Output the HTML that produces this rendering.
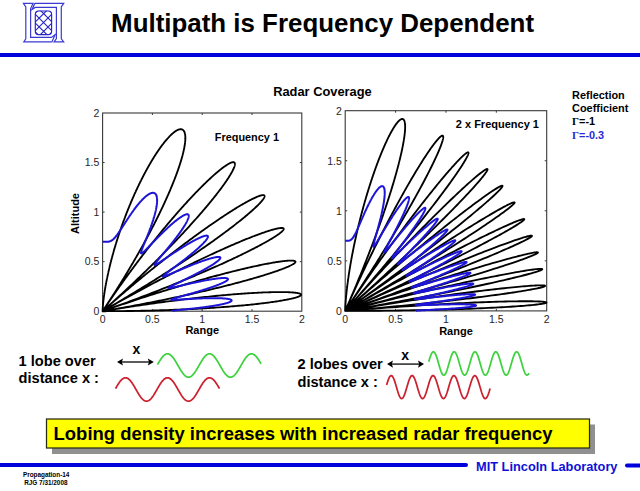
<!DOCTYPE html>
<html><head><meta charset="utf-8"><style>
html,body{margin:0;padding:0;background:#fff;}
body{width:640px;height:491px;overflow:hidden;position:relative;}
svg{position:absolute;left:0;top:0;}
text{font-family:"Liberation Sans",sans-serif;}
.tk{font-size:10.5px;fill:#262626;}
.lb{font-size:11px;font-weight:bold;fill:#000;}
.b{font-weight:bold;}
</style></head><body>
<svg width="640" height="491" viewBox="0 0 640 491">
<defs><clipPath id="lc"><rect x="35" y="10.7" width="16.9" height="24.2" rx="3.6" ry="3.6"/></clipPath></defs>
<g fill="#fff" stroke="#3a3ad2" stroke-width="1.2" stroke-linejoin="miter">
<path d="M23.4,3.3 H33.1 L30.6,8.6 V37.4 H51.4 L55.2,34.6 L51.9,41.9 H23.8 L25.8,38.8 V7 Z"/>
<path d="M63.7,3.4 L61.3,7 V38.8 L63.7,41.9 H54.1 L56.4,38.6 V7.4 H35.2 L31.9,9.6 L34.9,3.4 Z"/>
</g>
<g fill="none" stroke="#2626c8" stroke-width="1.15">
<rect x="35.3" y="11" width="16.3" height="23.6" rx="3.4" ry="3.4"/>
<path clip-path="url(#lc)" d="M30,-9 L60,21 M30,0 L60,30 M30,9 L60,39 M30,17.7 L60,47.7 M30,26.6 L60,56.6 M30,18.4 L60,-11.600000000000001 M30,27.299999999999997 L60,-2.700000000000003 M30,36 L60,6 M30,45 L60,15 M30,54 L60,24"/>
</g>
<text x="111.1" y="32.4" class="b" style="font-size:25.9px">Multipath is Frequency Dependent</text>
<rect x="0" y="53" width="640" height="4" fill="#0000dc"/>
<text x="273.2" y="96.1" class="b" style="font-size:12.85px">Radar Coverage</text>
<rect x="102.6" y="113" width="199.2" height="198.2" fill="none" stroke="#383838" stroke-width="1.1"/>
<path d="M152.4,311.2 v-2 M152.4,113 v2 M102.6,261.65 h2 M301.8,261.65 h-2" stroke="#383838" stroke-width="1"/>
<path d="M202.2,311.2 v-2 M202.2,113 v2 M102.6,212.1 h2 M301.8,212.1 h-2" stroke="#383838" stroke-width="1"/>
<path d="M252,311.2 v-2 M252,113 v2 M102.6,162.55 h2 M301.8,162.55 h-2" stroke="#383838" stroke-width="1"/>
<text x="102.6" y="323.2" text-anchor="middle" class="tk">0</text>
<text x="99.3" y="315" text-anchor="end" class="tk">0</text>
<text x="152.4" y="323.2" text-anchor="middle" class="tk">0.5</text>
<text x="99.3" y="265.45" text-anchor="end" class="tk">0.5</text>
<text x="202.2" y="323.2" text-anchor="middle" class="tk">1</text>
<text x="99.3" y="215.9" text-anchor="end" class="tk">1</text>
<text x="252" y="323.2" text-anchor="middle" class="tk">1.5</text>
<text x="99.3" y="166.35" text-anchor="end" class="tk">1.5</text>
<text x="301.8" y="323.2" text-anchor="middle" class="tk">2</text>
<text x="99.3" y="116.8" text-anchor="end" class="tk">2</text>
<text x="202.2" y="334" text-anchor="middle" class="lb">Range</text>
<rect x="345.2" y="110.7" width="201.5" height="200.2" fill="none" stroke="#383838" stroke-width="1.1"/>
<path d="M395.57,310.9 v-2 M395.57,110.7 v2 M345.2,260.85 h2 M546.7,260.85 h-2" stroke="#383838" stroke-width="1"/>
<path d="M445.95,310.9 v-2 M445.95,110.7 v2 M345.2,210.8 h2 M546.7,210.8 h-2" stroke="#383838" stroke-width="1"/>
<path d="M496.33,310.9 v-2 M496.33,110.7 v2 M345.2,160.75 h2 M546.7,160.75 h-2" stroke="#383838" stroke-width="1"/>
<text x="345.2" y="322.9" text-anchor="middle" class="tk">0</text>
<text x="341.9" y="314.7" text-anchor="end" class="tk">0</text>
<text x="395.57" y="322.9" text-anchor="middle" class="tk">0.5</text>
<text x="341.9" y="264.65" text-anchor="end" class="tk">0.5</text>
<text x="445.95" y="322.9" text-anchor="middle" class="tk">1</text>
<text x="341.9" y="214.6" text-anchor="end" class="tk">1</text>
<text x="496.33" y="322.9" text-anchor="middle" class="tk">1.5</text>
<text x="341.9" y="164.55" text-anchor="end" class="tk">1.5</text>
<text x="546.7" y="322.9" text-anchor="middle" class="tk">2</text>
<text x="341.9" y="114.5" text-anchor="end" class="tk">2</text>
<text x="455.95" y="334.7" text-anchor="middle" class="lb">Range</text>
<path d="M102.6,311.2 L105.06,311.2 L107.51,311.19 L109.97,311.19 L112.43,311.17 L114.88,311.16 L117.33,311.14 L119.78,311.12 L122.23,311.1 L124.67,311.07 L127.11,311.04 L129.55,311.01 L131.98,310.97 L134.41,310.93 L136.83,310.89 L139.25,310.84 L141.66,310.79 L144.07,310.74 L146.47,310.69 L148.86,310.63 L151.25,310.57 L153.63,310.5 L156,310.43 L158.36,310.36 L160.71,310.29 L163.06,310.22 L165.39,310.14 L167.72,310.05 L170.04,309.97 L172.34,309.88 L174.64,309.79 L176.92,309.7 L179.19,309.6 L181.45,309.51 L183.7,309.4 L185.94,309.3 L188.16,309.19 L190.37,309.08 L192.57,308.97 L194.75,308.86 L196.92,308.74 L199.07,308.62 L201.21,308.5 L203.33,308.38 L205.44,308.25 L207.54,308.12 L209.61,307.99 L211.67,307.86 L213.72,307.73 L215.74,307.59 L217.75,307.45 L219.74,307.31 L221.72,307.16 L223.67,307.02 L225.61,306.87 L227.52,306.72 L229.42,306.57 L231.3,306.42 L233.16,306.27 L235,306.11 L236.82,305.95 L238.62,305.79 L240.39,305.63 L242.15,305.47 L243.89,305.31 L245.6,305.14 L247.29,304.98 L248.96,304.81 L250.61,304.64 L252.23,304.47 L253.83,304.3 L255.41,304.13 L256.96,303.96 L258.49,303.78 L260,303.61 L261.48,303.43 L262.94,303.26 L264.37,303.08 L265.78,302.9 L267.17,302.73 L268.53,302.55 L269.86,302.37 L271.17,302.19 L272.45,302.01 L273.71,301.83 L274.94,301.65 L276.14,301.47 L277.32,301.29 L278.47,301.11 L279.59,300.93 L280.69,300.75 L281.76,300.57 L282.8,300.39 L283.81,300.21 L284.8,300.03 L285.76,299.85 L286.69,299.68 L287.59,299.5 L288.46,299.32 L289.31,299.15 L290.13,298.97 L290.92,298.8 L291.68,298.62 L292.41,298.45 L293.11,298.28 L293.79,298.11 L294.43,297.94 L295.04,297.77 L295.63,297.6 L296.19,297.44 L296.71,297.27 L297.21,297.11 L297.68,296.95 L298.12,296.79 L298.53,296.63 L298.9,296.47 L299.25,296.32 L299.57,296.16 L299.86,296.01 L300.12,295.86 L300.35,295.71 L300.55,295.57 L300.72,295.43 L300.85,295.29 L300.96,295.15 L301.04,295.01 L301.09,294.88 L301.11,294.74 L301.1,294.62 L301.06,294.49 L300.98,294.36 L300.88,294.24 L300.75,294.12 L300.59,294.01 L300.4,293.9 L300.17,293.79 L299.92,293.68 L299.64,293.57 L299.33,293.47 L298.99,293.37 L298.62,293.28 L298.22,293.19 L297.79,293.1 L297.33,293.01 L296.84,292.93 L296.32,292.85 L295.77,292.78 L295.2,292.71 L294.59,292.64 L293.96,292.57 L293.3,292.51 L292.6,292.46 L291.88,292.4 L291.13,292.35 L290.36,292.31 L289.55,292.26 L288.72,292.23 L287.86,292.19 L286.97,292.16 L286.05,292.14 L285.11,292.11 L284.14,292.1 L283.14,292.08 L282.11,292.07 L281.06,292.07 L279.98,292.07 L278.87,292.07 L277.74,292.08 L276.58,292.09 L275.4,292.1 L274.19,292.13 L272.95,292.15 L271.69,292.18 L270.4,292.21 L269.09,292.25 L267.76,292.3 L266.39,292.34 L265.01,292.4 L263.6,292.45 L262.17,292.51 L260.71,292.58 L259.23,292.65 L257.73,292.73 L256.2,292.81 L254.65,292.89 L253.08,292.98 L251.48,293.08 L249.87,293.18 L248.23,293.28 L246.57,293.39 L244.89,293.5 L243.19,293.62 L241.46,293.75 L239.72,293.87 L237.96,294.01 L236.18,294.14 L234.37,294.29 L232.55,294.44 L230.71,294.59 L228.85,294.75 L226.97,294.91 L225.08,295.08 L223.16,295.25 L221.23,295.42 L219.28,295.61 L217.32,295.79 L215.33,295.98 L213.33,296.18 L211.32,296.38 L209.29,296.59 L207.24,296.8 L205.18,297.01 L203.1,297.23 L201.01,297.46 L198.91,297.69 L196.79,297.92 L194.66,298.16 L192.51,298.41 L190.36,298.66 L188.18,298.91 L186,299.17 L183.81,299.43 L181.6,299.7 L179.38,299.97 L177.16,300.25 L174.92,300.53 L172.67,300.81 L170.41,301.1 L168.14,301.4 L165.86,301.69 L163.58,302 L161.28,302.3 L158.98,302.62 L156.67,302.93 L154.35,303.25 L152.03,303.58 L149.7,303.9 L147.36,304.24 L145.02,304.57 L142.67,304.91 L140.31,305.26 L137.95,305.61 L135.59,305.96 L133.22,306.31 L130.85,306.67 L128.47,307.04 L126.1,307.4 L123.72,307.77 L121.33,308.15 L118.95,308.53 L116.56,308.91 L114.17,309.29 L111.78,309.68 L109.39,310.07 L107,310.47 L104.61,310.86 L102.98,311.14 L105.37,310.73 L107.75,310.33 L110.14,309.92 L112.52,309.5 L114.91,309.09 L117.28,308.67 L119.66,308.25 L122.03,307.83 L124.4,307.4 L126.77,306.97 L129.13,306.54 L131.48,306.11 L133.83,305.67 L136.18,305.23 L138.52,304.79 L140.85,304.35 L143.18,303.91 L145.5,303.46 L147.81,303.01 L150.12,302.57 L152.42,302.11 L154.71,301.66 L156.99,301.21 L159.26,300.75 L161.52,300.29 L163.77,299.84 L166.02,299.38 L168.25,298.92 L170.47,298.45 L172.69,297.99 L174.89,297.53 L177.08,297.06 L179.25,296.6 L181.42,296.13 L183.57,295.67 L185.71,295.2 L187.84,294.73 L189.95,294.27 L192.05,293.8 L194.14,293.33 L196.21,292.86 L198.27,292.4 L200.31,291.93 L202.34,291.46 L204.35,290.99 L206.35,290.53 L208.33,290.06 L210.29,289.59 L212.24,289.13 L214.17,288.67 L216.08,288.2 L217.98,287.74 L219.86,287.28 L221.72,286.82 L223.56,286.36 L225.38,285.9 L227.19,285.44 L228.97,284.99 L230.74,284.54 L232.49,284.08 L234.22,283.63 L235.92,283.18 L237.61,282.74 L239.28,282.29 L240.92,281.85 L242.55,281.41 L244.15,280.97 L245.74,280.54 L247.3,280.1 L248.84,279.67 L250.36,279.25 L251.85,278.82 L253.33,278.4 L254.78,277.98 L256.2,277.56 L257.61,277.15 L258.99,276.74 L260.35,276.33 L261.68,275.93 L262.99,275.53 L264.28,275.13 L265.54,274.74 L266.78,274.35 L268,273.96 L269.19,273.58 L270.35,273.2 L271.49,272.83 L272.61,272.46 L273.7,272.09 L274.76,271.73 L275.8,271.37 L276.82,271.02 L277.8,270.67 L278.77,270.33 L279.7,269.99 L280.61,269.66 L281.5,269.33 L282.35,269 L283.18,268.68 L283.99,268.37 L284.77,268.06 L285.52,267.76 L286.24,267.46 L286.94,267.17 L287.61,266.88 L288.26,266.6 L288.87,266.32 L289.46,266.05 L290.03,265.78 L290.56,265.52 L291.07,265.27 L291.55,265.02 L292,264.78 L292.43,264.55 L292.83,264.32 L293.2,264.09 L293.54,263.88 L293.85,263.67 L294.14,263.46 L294.4,263.26 L294.63,263.07 L294.84,262.89 L295.01,262.71 L295.16,262.54 L295.28,262.38 L295.38,262.22 L295.44,262.07 L295.48,261.92 L295.49,261.79 L295.48,261.66 L295.43,261.54 L295.36,261.42 L295.26,261.31 L295.13,261.21 L294.98,261.12 L294.8,261.03 L294.59,260.95 L294.35,260.88 L294.09,260.82 L293.8,260.76 L293.48,260.71 L293.13,260.67 L292.76,260.64 L292.36,260.61 L291.93,260.59 L291.48,260.58 L291,260.58 L290.5,260.58 L289.96,260.59 L289.4,260.61 L288.82,260.64 L288.21,260.68 L287.57,260.72 L286.91,260.77 L286.22,260.83 L285.5,260.9 L284.76,260.98 L284,261.06 L283.21,261.15 L282.39,261.25 L281.55,261.36 L280.68,261.48 L279.79,261.6 L278.88,261.73 L277.94,261.88 L276.97,262.02 L275.98,262.18 L274.97,262.35 L273.94,262.52 L272.88,262.7 L271.79,262.89 L270.69,263.09 L269.56,263.29 L268.4,263.51 L267.23,263.73 L266.03,263.96 L264.81,264.2 L263.57,264.44 L262.31,264.7 L261.02,264.96 L259.71,265.23 L258.38,265.51 L257.03,265.79 L255.66,266.09 L254.27,266.39 L252.86,266.7 L251.43,267.02 L249.98,267.35 L248.5,267.68 L247.01,268.02 L245.5,268.37 L243.97,268.73 L242.42,269.1 L240.86,269.47 L239.27,269.85 L237.67,270.24 L236.04,270.64 L234.4,271.04 L232.75,271.46 L231.07,271.88 L229.38,272.3 L227.67,272.74 L225.95,273.18 L224.21,273.63 L222.45,274.09 L220.68,274.55 L218.89,275.02 L217.09,275.5 L215.27,275.99 L213.44,276.48 L211.6,276.98 L209.74,277.49 L207.86,278 L205.98,278.52 L204.08,279.05 L202.16,279.59 L200.24,280.13 L198.3,280.67 L196.35,281.23 L194.39,281.79 L192.41,282.36 L190.43,282.93 L188.43,283.51 L186.43,284.1 L184.41,284.69 L182.38,285.29 L180.35,285.9 L178.3,286.51 L176.25,287.13 L174.18,287.75 L172.11,288.38 L170.03,289.01 L167.94,289.65 L165.85,290.3 L163.74,290.95 L161.63,291.6 L159.52,292.27 L157.39,292.93 L155.26,293.6 L153.13,294.28 L150.99,294.96 L148.84,295.65 L146.69,296.34 L144.54,297.04 L142.38,297.74 L140.21,298.44 L138.04,299.15 L135.87,299.87 L133.7,300.58 L131.52,301.31 L129.34,302.03 L127.16,302.76 L124.98,303.5 L122.79,304.23 L120.61,304.97 L118.42,305.72 L116.23,306.47 L114.04,307.22 L111.86,307.97 L109.67,308.73 L107.48,309.49 L105.29,310.25 L103.11,311.02 L104.28,310.61 L106.46,309.84 L108.64,309.06 L110.82,308.29 L112.99,307.51 L115.16,306.73 L117.33,305.94 L119.5,305.16 L121.66,304.37 L123.82,303.58 L125.97,302.79 L128.12,302 L130.26,301.21 L132.4,300.41 L134.53,299.62 L136.66,298.82 L138.78,298.03 L140.9,297.23 L143,296.43 L145.11,295.63 L147.2,294.83 L149.29,294.03 L151.36,293.23 L153.43,292.43 L155.5,291.63 L157.55,290.83 L159.59,290.03 L161.63,289.23 L163.65,288.43 L165.67,287.63 L167.68,286.83 L169.67,286.03 L171.66,285.24 L173.63,284.44 L175.6,283.65 L177.55,282.85 L179.49,282.06 L181.42,281.27 L183.34,280.48 L185.24,279.7 L187.14,278.91 L189.02,278.13 L190.88,277.35 L192.74,276.57 L194.58,275.79 L196.41,275.02 L198.22,274.25 L200.02,273.48 L201.8,272.72 L203.57,271.95 L205.33,271.19 L207.07,270.44 L208.79,269.69 L210.5,268.94 L212.2,268.19 L213.88,267.45 L215.54,266.71 L217.19,265.97 L218.82,265.24 L220.43,264.52 L222.03,263.79 L223.61,263.07 L225.17,262.36 L226.71,261.65 L228.24,260.95 L229.75,260.25 L231.24,259.55 L232.72,258.86 L234.17,258.18 L235.61,257.5 L237.03,256.82 L238.43,256.15 L239.81,255.49 L241.17,254.83 L242.51,254.18 L243.83,253.53 L245.14,252.89 L246.42,252.26 L247.68,251.63 L248.93,251 L250.15,250.39 L251.36,249.78 L252.54,249.18 L253.7,248.58 L254.84,247.99 L255.97,247.41 L257.07,246.83 L258.14,246.26 L259.2,245.7 L260.24,245.15 L261.26,244.6 L262.25,244.06 L263.22,243.53 L264.17,243 L265.1,242.48 L266.01,241.98 L266.9,241.47 L267.76,240.98 L268.6,240.49 L269.42,240.02 L270.22,239.55 L270.99,239.09 L271.74,238.63 L272.47,238.19 L273.18,237.75 L273.87,237.33 L274.53,236.91 L275.17,236.5 L275.79,236.1 L276.38,235.7 L276.95,235.32 L277.5,234.95 L278.02,234.58 L278.53,234.22 L279.01,233.88 L279.46,233.54 L279.9,233.21 L280.31,232.89 L280.69,232.58 L281.06,232.28 L281.4,231.99 L281.72,231.71 L282.01,231.44 L282.28,231.18 L282.53,230.93 L282.76,230.69 L282.96,230.46 L283.14,230.23 L283.3,230.02 L283.43,229.82 L283.54,229.63 L283.63,229.45 L283.69,229.28 L283.73,229.12 L283.75,228.97 L283.74,228.83 L283.72,228.7 L283.66,228.58 L283.59,228.47 L283.49,228.37 L283.37,228.28 L283.23,228.2 L283.07,228.14 L282.88,228.08 L282.67,228.03 L282.44,228 L282.18,227.97 L281.91,227.96 L281.61,227.96 L281.29,227.96 L280.94,227.98 L280.58,228.01 L280.19,228.05 L279.78,228.1 L279.35,228.16 L278.9,228.24 L278.42,228.32 L277.92,228.41 L277.41,228.52 L276.87,228.64 L276.31,228.76 L275.73,228.9 L275.12,229.05 L274.5,229.21 L273.86,229.38 L273.19,229.56 L272.51,229.75 L271.8,229.95 L271.07,230.17 L270.33,230.39 L269.56,230.62 L268.78,230.87 L267.97,231.13 L267.14,231.39 L266.3,231.67 L265.43,231.96 L264.55,232.26 L263.65,232.57 L262.72,232.89 L261.78,233.22 L260.82,233.56 L259.84,233.92 L258.85,234.28 L257.83,234.65 L256.8,235.04 L255.75,235.43 L254.68,235.84 L253.59,236.25 L252.49,236.68 L251.37,237.12 L250.23,237.56 L249.08,238.02 L247.9,238.49 L246.71,238.96 L245.51,239.45 L244.29,239.95 L243.05,240.46 L241.8,240.97 L240.53,241.5 L239.25,242.04 L237.95,242.58 L236.63,243.14 L235.3,243.71 L233.96,244.28 L232.6,244.87 L231.22,245.46 L229.84,246.07 L228.43,246.68 L227.02,247.31 L225.59,247.94 L224.15,248.58 L222.69,249.23 L221.22,249.89 L219.74,250.56 L218.25,251.24 L216.74,251.92 L215.22,252.62 L213.69,253.32 L212.15,254.04 L210.59,254.76 L209.03,255.49 L207.45,256.22 L205.86,256.97 L204.27,257.73 L202.66,258.49 L201.04,259.26 L199.41,260.04 L197.77,260.82 L196.12,261.62 L194.46,262.42 L192.8,263.23 L191.12,264.05 L189.43,264.87 L187.74,265.71 L186.04,266.54 L184.33,267.39 L182.61,268.25 L180.89,269.11 L179.15,269.97 L177.41,270.85 L175.66,271.73 L173.91,272.62 L172.15,273.51 L170.38,274.41 L168.61,275.32 L166.83,276.23 L165.05,277.15 L163.26,278.07 L161.46,279 L159.66,279.94 L157.86,280.88 L156.05,281.83 L154.23,282.78 L152.41,283.74 L150.59,284.7 L148.77,285.67 L146.94,286.65 L145.11,287.62 L143.27,288.61 L141.43,289.59 L139.59,290.59 L137.75,291.58 L135.91,292.58 L134.06,293.59 L132.21,294.6 L130.36,295.61 L128.51,296.63 L126.66,297.65 L124.81,298.67 L122.95,299.7 L121.1,300.73 L119.25,301.77 L117.39,302.8 L115.54,303.84 L113.69,304.89 L111.84,305.93 L109.99,306.98 L108.14,308.03 L106.29,309.09 L104.44,310.14 L102.6,311.2 L104.44,310.14 L106.28,309.08 L108.12,308.02 L109.95,306.95 L111.79,305.88 L113.61,304.82 L115.44,303.75 L117.26,302.68 L119.08,301.6 L120.89,300.53 L122.7,299.46 L124.51,298.39 L126.31,297.31 L128.1,296.24 L129.89,295.16 L131.68,294.09 L133.46,293.01 L135.24,291.94 L137,290.86 L138.77,289.79 L140.52,288.72 L142.27,287.64 L144.02,286.57 L145.76,285.5 L147.49,284.43 L149.21,283.36 L150.93,282.29 L152.63,281.23 L154.34,280.16 L156.03,279.1 L157.71,278.04 L159.39,276.98 L161.06,275.92 L162.72,274.87 L164.37,273.81 L166.01,272.76 L167.65,271.71 L169.27,270.67 L170.88,269.63 L172.49,268.59 L174.09,267.55 L175.67,266.52 L177.25,265.49 L178.81,264.46 L180.37,263.43 L181.91,262.41 L183.44,261.4 L184.97,260.39 L186.48,259.38 L187.98,258.37 L189.47,257.37 L190.95,256.38 L192.41,255.39 L193.87,254.4 L195.31,253.42 L196.74,252.44 L198.16,251.47 L199.57,250.5 L200.96,249.54 L202.34,248.58 L203.71,247.63 L205.07,246.68 L206.41,245.74 L207.74,244.81 L209.06,243.88 L210.36,242.96 L211.65,242.04 L212.93,241.13 L214.2,240.22 L215.44,239.33 L216.68,238.43 L217.9,237.55 L219.11,236.67 L220.3,235.8 L221.48,234.93 L222.65,234.08 L223.8,233.22 L224.93,232.38 L226.05,231.54 L227.16,230.72 L228.25,229.89 L229.33,229.08 L230.39,228.27 L231.44,227.47 L232.47,226.68 L233.48,225.9 L234.49,225.13 L235.47,224.36 L236.44,223.6 L237.39,222.85 L238.33,222.11 L239.25,221.37 L240.16,220.65 L241.05,219.93 L241.93,219.23 L242.79,218.53 L243.63,217.84 L244.46,217.16 L245.27,216.49 L246.06,215.82 L246.84,215.17 L247.6,214.53 L248.35,213.89 L249.08,213.27 L249.79,212.65 L250.49,212.04 L251.16,211.45 L251.83,210.86 L252.47,210.28 L253.1,209.72 L253.72,209.16 L254.31,208.61 L254.89,208.08 L255.46,207.55 L256,207.03 L256.53,206.53 L257.04,206.03 L257.54,205.54 L258.02,205.07 L258.48,204.6 L258.93,204.15 L259.35,203.71 L259.76,203.27 L260.16,202.85 L260.54,202.44 L260.9,202.04 L261.24,201.65 L261.57,201.27 L261.88,200.9 L262.17,200.54 L262.45,200.2 L262.7,199.86 L262.95,199.54 L263.17,199.23 L263.38,198.93 L263.57,198.64 L263.75,198.36 L263.9,198.09 L264.05,197.83 L264.17,197.59 L264.28,197.35 L264.37,197.13 L264.44,196.92 L264.5,196.72 L264.54,196.53 L264.57,196.36 L264.57,196.19 L264.56,196.04 L264.54,195.9 L264.5,195.77 L264.44,195.65 L264.37,195.54 L264.28,195.45 L264.17,195.36 L264.05,195.29 L263.91,195.23 L263.75,195.19 L263.58,195.15 L263.39,195.12 L263.19,195.11 L262.97,195.11 L262.74,195.12 L262.48,195.14 L262.22,195.18 L261.94,195.22 L261.64,195.28 L261.33,195.35 L261,195.43 L260.65,195.52 L260.29,195.63 L259.92,195.74 L259.53,195.87 L259.13,196.01 L258.71,196.16 L258.27,196.33 L257.82,196.5 L257.36,196.69 L256.88,196.88 L256.39,197.09 L255.88,197.32 L255.36,197.55 L254.82,197.79 L254.27,198.05 L253.71,198.32 L253.13,198.59 L252.53,198.89 L251.93,199.19 L251.31,199.5 L250.67,199.83 L250.03,200.16 L249.37,200.51 L248.69,200.87 L248,201.24 L247.3,201.62 L246.59,202.01 L245.86,202.41 L245.12,202.83 L244.37,203.26 L243.61,203.69 L242.83,204.14 L242.04,204.6 L241.24,205.07 L240.42,205.55 L239.59,206.04 L238.76,206.54 L237.91,207.06 L237.04,207.58 L236.17,208.11 L235.28,208.66 L234.39,209.21 L233.48,209.78 L232.56,210.35 L231.63,210.94 L230.69,211.54 L229.74,212.15 L228.78,212.76 L227.8,213.39 L226.82,214.03 L225.82,214.68 L224.82,215.33 L223.81,216 L222.78,216.68 L221.75,217.36 L220.71,218.06 L219.65,218.77 L218.59,219.48 L217.52,220.21 L216.44,220.94 L215.35,221.69 L214.25,222.44 L213.14,223.2 L212.02,223.97 L210.9,224.76 L209.77,225.55 L208.62,226.34 L207.47,227.15 L206.32,227.97 L205.15,228.79 L203.98,229.63 L202.8,230.47 L201.61,231.32 L200.41,232.18 L199.21,233.05 L198,233.92 L196.78,234.8 L195.56,235.7 L194.33,236.6 L193.09,237.5 L191.85,238.42 L190.6,239.34 L189.35,240.27 L188.09,241.21 L186.82,242.15 L185.55,243.11 L184.27,244.07 L182.98,245.03 L181.69,246.01 L180.4,246.99 L179.1,247.98 L177.8,248.97 L176.49,249.97 L175.18,250.98 L173.86,252 L172.53,253.02 L171.21,254.05 L169.88,255.08 L168.54,256.12 L167.21,257.17 L165.86,258.22 L164.52,259.28 L163.17,260.34 L161.82,261.41 L160.46,262.48 L159.11,263.56 L157.74,264.65 L156.38,265.74 L155.02,266.83 L153.65,267.94 L152.28,269.04 L150.9,270.15 L149.53,271.27 L148.15,272.39 L146.77,273.51 L145.39,274.64 L144.01,275.77 L142.63,276.91 L141.25,278.05 L139.86,279.2 L138.47,280.35 L137.09,281.5 L135.7,282.66 L134.31,283.82 L132.92,284.98 L131.53,286.15 L130.15,287.32 L128.76,288.5 L127.37,289.67 L125.98,290.85 L124.59,292.04 L123.2,293.22 L121.81,294.41 L120.43,295.6 L119.04,296.8 L117.66,297.99 L116.27,299.19 L114.89,300.39 L113.51,301.59 L112.13,302.8 L110.75,304 L109.37,305.21 L108,306.42 L106.63,307.63 L105.26,308.84 L103.89,310.06 L102.68,311.13 L104.04,309.91 L105.4,308.7 L106.76,307.48 L108.12,306.26 L109.47,305.04 L110.82,303.82 L112.17,302.6 L113.51,301.38 L114.85,300.16 L116.19,298.94 L117.53,297.72 L118.86,296.5 L120.18,295.28 L121.5,294.06 L122.82,292.84 L124.14,291.62 L125.45,290.41 L126.75,289.19 L128.05,287.97 L129.35,286.76 L130.64,285.54 L131.93,284.33 L133.21,283.12 L134.49,281.91 L135.77,280.7 L137.03,279.49 L138.3,278.28 L139.55,277.08 L140.81,275.87 L142.05,274.67 L143.29,273.48 L144.53,272.28 L145.76,271.08 L146.98,269.89 L148.2,268.7 L149.41,267.52 L150.62,266.33 L151.82,265.15 L153.01,263.97 L154.2,262.8 L155.38,261.62 L156.56,260.45 L157.72,259.29 L158.88,258.13 L160.04,256.97 L161.19,255.81 L162.33,254.66 L163.46,253.51 L164.59,252.36 L165.71,251.22 L166.82,250.09 L167.92,248.95 L169.02,247.82 L170.11,246.7 L171.19,245.58 L172.27,244.46 L173.34,243.35 L174.39,242.25 L175.45,241.15 L176.49,240.05 L177.53,238.96 L178.55,237.87 L179.57,236.79 L180.59,235.71 L181.59,234.64 L182.59,233.57 L183.57,232.51 L184.55,231.45 L185.52,230.4 L186.49,229.36 L187.44,228.32 L188.38,227.29 L189.32,226.26 L190.25,225.24 L191.17,224.22 L192.08,223.21 L192.98,222.21 L193.87,221.21 L194.76,220.22 L195.63,219.24 L196.5,218.26 L197.35,217.29 L198.2,216.33 L199.04,215.37 L199.87,214.42 L200.69,213.47 L201.5,212.54 L202.3,211.61 L203.1,210.68 L203.88,209.77 L204.65,208.86 L205.42,207.96 L206.17,207.06 L206.92,206.17 L207.66,205.29 L208.38,204.42 L209.1,203.56 L209.81,202.7 L210.5,201.85 L211.19,201.01 L211.87,200.18 L212.54,199.35 L213.2,198.53 L213.85,197.72 L214.49,196.92 L215.12,196.13 L215.74,195.34 L216.35,194.56 L216.95,193.79 L217.54,193.03 L218.12,192.28 L218.69,191.53 L219.25,190.8 L219.8,190.07 L220.35,189.35 L220.88,188.64 L221.4,187.94 L221.91,187.25 L222.41,186.56 L222.9,185.89 L223.38,185.22 L223.86,184.56 L224.32,183.91 L224.77,183.27 L225.21,182.64 L225.64,182.02 L226.06,181.41 L226.48,180.8 L226.88,180.21 L227.27,179.62 L227.65,179.05 L228.02,178.48 L228.39,177.92 L228.74,177.38 L229.08,176.84 L229.41,176.31 L229.73,175.79 L230.05,175.28 L230.35,174.77 L230.64,174.28 L230.92,173.8 L231.2,173.33 L231.46,172.86 L231.71,172.41 L231.96,171.97 L232.19,171.53 L232.41,171.11 L232.63,170.69 L232.83,170.29 L233.02,169.89 L233.21,169.51 L233.38,169.13 L233.55,168.76 L233.7,168.41 L233.85,168.06 L233.99,167.72 L234.11,167.4 L234.23,167.08 L234.34,166.77 L234.43,166.47 L234.52,166.19 L234.6,165.91 L234.67,165.64 L234.73,165.38 L234.78,165.14 L234.82,164.9 L234.85,164.67 L234.87,164.45 L234.89,164.25 L234.89,164.05 L234.89,163.86 L234.87,163.68 L234.85,163.51 L234.82,163.36 L234.77,163.21 L234.72,163.07 L234.66,162.94 L234.59,162.82 L234.52,162.71 L234.43,162.62 L234.33,162.53 L234.23,162.45 L234.12,162.38 L233.99,162.32 L233.86,162.27 L233.72,162.24 L233.58,162.21 L233.42,162.19 L233.25,162.18 L233.08,162.18 L232.9,162.19 L232.71,162.21 L232.51,162.24 L232.3,162.29 L232.09,162.34 L231.86,162.4 L231.63,162.47 L231.39,162.55 L231.14,162.64 L230.89,162.73 L230.62,162.84 L230.35,162.96 L230.07,163.09 L229.78,163.23 L229.49,163.38 L229.19,163.54 L228.88,163.7 L228.56,163.88 L228.23,164.07 L227.9,164.26 L227.56,164.47 L227.21,164.68 L226.85,164.91 L226.49,165.14 L226.12,165.38 L225.74,165.64 L225.36,165.9 L224.96,166.17 L224.57,166.45 L224.16,166.74 L223.75,167.04 L223.33,167.35 L222.9,167.66 L222.47,167.99 L222.03,168.33 L221.58,168.67 L221.13,169.02 L220.67,169.39 L220.2,169.76 L219.73,170.14 L219.25,170.53 L218.76,170.93 L218.27,171.34 L217.77,171.75 L217.27,172.18 L216.76,172.61 L216.24,173.05 L215.72,173.5 L215.19,173.96 L214.66,174.43 L214.12,174.91 L213.57,175.39 L213.02,175.89 L212.47,176.39 L211.9,176.9 L211.34,177.42 L210.76,177.94 L210.19,178.48 L209.6,179.02 L209.01,179.57 L208.42,180.13 L207.82,180.7 L207.21,181.27 L206.61,181.86 L205.99,182.45 L205.37,183.05 L204.75,183.66 L204.12,184.27 L203.49,184.89 L202.85,185.52 L202.21,186.16 L201.56,186.8 L200.91,187.46 L200.25,188.12 L199.59,188.78 L198.93,189.46 L198.26,190.14 L197.59,190.83 L196.91,191.53 L196.23,192.23 L195.54,192.94 L194.85,193.66 L194.16,194.38 L193.47,195.12 L192.77,195.85 L192.06,196.6 L191.36,197.35 L190.65,198.11 L189.93,198.87 L189.21,199.65 L188.49,200.43 L187.77,201.21 L187.04,202 L186.31,202.8 L185.58,203.6 L184.84,204.41 L184.1,205.23 L183.36,206.05 L182.62,206.88 L181.87,207.72 L181.12,208.56 L180.36,209.4 L179.61,210.26 L178.85,211.11 L178.09,211.98 L177.33,212.85 L176.56,213.72 L175.79,214.6 L175.02,215.49 L174.25,216.38 L173.48,217.28 L172.7,218.18 L171.92,219.09 L171.14,220 L170.36,220.92 L169.57,221.84 L168.79,222.77 L168,223.7 L167.21,224.64 L166.42,225.58 L165.63,226.53 L164.83,227.48 L164.04,228.44 L163.24,229.4 L162.44,230.36 L161.65,231.33 L160.85,232.31 L160.04,233.29 L159.24,234.27 L158.44,235.25 L157.63,236.25 L156.83,237.24 L156.02,238.24 L155.22,239.24 L154.41,240.25 L153.6,241.26 L152.79,242.28 L151.98,243.29 L151.17,244.32 L150.36,245.34 L149.55,246.37 L148.74,247.4 L147.93,248.44 L147.11,249.48 L146.3,250.52 L145.49,251.57 L144.68,252.62 L143.86,253.67 L143.05,254.72 L142.24,255.78 L141.43,256.84 L140.61,257.9 L139.8,258.97 L138.99,260.04 L138.18,261.11 L137.37,262.18 L136.56,263.26 L135.75,264.34 L134.94,265.42 L134.13,266.5 L133.32,267.59 L132.51,268.68 L131.7,269.77 L130.9,270.86 L130.09,271.96 L129.29,273.05 L128.48,274.15 L127.68,275.25 L126.88,276.35 L126.07,277.45 L125.27,278.56 L124.47,279.67 L123.68,280.77 L122.88,281.88 L122.08,282.99 L121.29,284.11 L120.5,285.22 L119.7,286.33 L118.91,287.45 L118.12,288.57 L117.34,289.69 L116.55,290.8 L115.77,291.92 L114.98,293.04 L114.2,294.17 L113.42,295.29 L112.64,296.41 L111.87,297.53 L111.09,298.66 L110.32,299.78 L109.55,300.91 L108.78,302.03 L108.01,303.16 L107.25,304.29 L106.49,305.41 L105.73,306.54 L104.97,307.66 L104.21,308.79 L103.46,309.92 L102.7,311.04 L103.25,310.23 L103.99,309.1 L104.74,307.98 L105.48,306.85 L106.22,305.73 L106.96,304.6 L107.7,303.48 L108.43,302.35 L109.16,301.23 L109.89,300.11 L110.62,298.99 L111.34,297.86 L112.06,296.74 L112.78,295.62 L113.5,294.51 L114.21,293.39 L114.92,292.27 L115.63,291.15 L116.33,290.04 L117.03,288.93 L117.73,287.81 L118.43,286.7 L119.12,285.59 L119.81,284.48 L120.5,283.38 L121.18,282.27 L121.87,281.17 L122.55,280.06 L123.22,278.96 L123.89,277.86 L124.56,276.77 L125.23,275.67 L125.89,274.58 L126.55,273.48 L127.21,272.39 L127.86,271.3 L128.51,270.22 L129.16,269.13 L129.8,268.05 L130.44,266.97 L131.08,265.89 L131.72,264.82 L132.35,263.74 L132.97,262.67 L133.6,261.6 L134.22,260.54 L134.84,259.47 L135.45,258.41 L136.06,257.35 L136.67,256.29 L137.27,255.24 L137.87,254.19 L138.47,253.14 L139.06,252.09 L139.65,251.05 L140.23,250.01 L140.82,248.97 L141.39,247.93 L141.97,246.9 L142.54,245.87 L143.11,244.85 L143.67,243.82 L144.23,242.8 L144.79,241.79 L145.34,240.77 L145.89,239.76 L146.44,238.75 L146.98,237.75 L147.52,236.75 L148.05,235.75 L148.58,234.76 L149.11,233.77 L149.63,232.78 L150.15,231.8 L150.66,230.82 L151.18,229.84 L151.68,228.87 L152.19,227.9 L152.69,226.93 L153.18,225.97 L153.68,225.01 L154.17,224.05 L154.65,223.1 L155.13,222.16 L155.61,221.21 L156.08,220.27 L156.55,219.34 L157.02,218.41 L157.48,217.48 L157.94,216.55 L158.39,215.63 L158.84,214.72 L159.29,213.81 L159.73,212.9 L160.17,211.99 L160.6,211.1 L161.03,210.2 L161.46,209.31 L161.88,208.42 L162.3,207.54 L162.71,206.66 L163.12,205.79 L163.53,204.92 L163.93,204.05 L164.33,203.19 L164.72,202.33 L165.12,201.48 L165.5,200.63 L165.89,199.79 L166.26,198.95 L166.64,198.12 L167.01,197.29 L167.38,196.46 L167.74,195.64 L168.1,194.83 L168.46,194.02 L168.81,193.21 L169.16,192.41 L169.5,191.61 L169.84,190.82 L170.18,190.03 L170.51,189.24 L170.84,188.47 L171.16,187.69 L171.48,186.92 L171.8,186.16 L172.11,185.4 L172.42,184.64 L172.72,183.9 L173.02,183.15 L173.32,182.41 L173.61,181.68 L173.9,180.95 L174.19,180.22 L174.47,179.5 L174.75,178.78 L175.02,178.07 L175.29,177.37 L175.56,176.67 L175.82,175.97 L176.08,175.28 L176.33,174.6 L176.58,173.92 L176.83,173.24 L177.07,172.57 L177.31,171.91 L177.55,171.25 L177.78,170.59 L178.01,169.94 L178.23,169.3 L178.45,168.66 L178.67,168.02 L178.88,167.39 L179.09,166.77 L179.3,166.15 L179.5,165.54 L179.7,164.93 L179.9,164.32 L180.09,163.72 L180.27,163.13 L180.46,162.54 L180.64,161.96 L180.82,161.38 L180.99,160.81 L181.16,160.24 L181.33,159.68 L181.49,159.13 L181.65,158.57 L181.8,158.03 L181.95,157.49 L182.1,156.95 L182.25,156.42 L182.39,155.89 L182.53,155.38 L182.66,154.86 L182.79,154.35 L182.92,153.85 L183.04,153.35 L183.16,152.85 L183.28,152.37 L183.4,151.88 L183.51,151.4 L183.61,150.93 L183.72,150.46 L183.82,150 L183.91,149.55 L184.01,149.09 L184.1,148.65 L184.19,148.21 L184.27,147.77 L184.35,147.34 L184.43,146.91 L184.5,146.49 L184.57,146.08 L184.64,145.67 L184.71,145.27 L184.77,144.87 L184.83,144.47 L184.88,144.08 L184.93,143.7 L184.98,143.32 L185.03,142.95 L185.07,142.58 L185.11,142.22 L185.15,141.86 L185.18,141.51 L185.21,141.16 L185.24,140.82 L185.27,140.48 L185.29,140.15 L185.31,139.83 L185.32,139.5 L185.34,139.19 L185.35,138.88 L185.35,138.57 L185.36,138.27 L185.36,137.98 L185.36,137.69 L185.36,137.4 L185.35,137.12 L185.34,136.85 L185.33,136.58 L185.31,136.31 L185.29,136.05 L185.27,135.8 L185.25,135.55 L185.22,135.3 L185.2,135.06 L185.16,134.83 L185.13,134.6 L185.09,134.37 L185.06,134.15 L185.01,133.94 L184.97,133.73 L184.92,133.52 L184.87,133.32 L184.82,133.13 L184.77,132.94 L184.71,132.75 L184.65,132.57 L184.59,132.4 L184.53,132.23 L184.46,132.06 L184.39,131.9 L184.32,131.75 L184.25,131.59 L184.17,131.45 L184.09,131.31 L184.01,131.17 L183.93,131.04 L183.84,130.91 L183.76,130.79 L183.67,130.67 L183.58,130.56 L183.48,130.45 L183.39,130.34 L183.29,130.25 L183.19,130.15 L183.08,130.06 L182.98,129.98 L182.87,129.9 L182.76,129.82 L182.65,129.75 L182.54,129.68 L182.43,129.62 L182.31,129.56 L182.19,129.51 L182.07,129.46 L181.95,129.41 L181.82,129.37 L181.7,129.34 L181.57,129.31 L181.44,129.28 L181.3,129.26 L181.17,129.24 L181.03,129.23 L180.9,129.22 L180.76,129.21 L180.62,129.21 L180.47,129.22 L180.33,129.23 L180.18,129.24 L180.03,129.25 L179.88,129.28 L179.73,129.3 L179.58,129.33 L179.42,129.36 L179.27,129.4 L179.11,129.44 L178.95,129.49 L178.79,129.54 L178.62,129.59 L178.46,129.65 L178.29,129.71 L178.13,129.78 L177.96,129.85 L177.79,129.92 L177.62,130 L177.44,130.08 L177.27,130.17 L177.09,130.26 L176.91,130.35 L176.74,130.45 L176.56,130.55 L176.37,130.65 L176.19,130.76 L176.01,130.88 L175.82,130.99 L175.64,131.11 L175.45,131.24 L175.26,131.36 L175.07,131.5 L174.88,131.63 L174.68,131.77 L174.49,131.91 L174.29,132.06 L174.1,132.21 L173.9,132.36 L173.7,132.52 L173.5,132.68 L173.3,132.84 L173.1,133.01 L172.9,133.18 L172.69,133.35 L172.49,133.53 L172.28,133.71 L172.08,133.89 L171.87,134.08 L171.66,134.27 L171.45,134.47 L171.24,134.67 L171.03,134.87 L170.82,135.07 L170.6,135.28 L170.39,135.49 L170.17,135.7 L169.96,135.92 L169.74,136.14 L169.52,136.36 L169.31,136.59 L169.09,136.82 L168.87,137.05 L168.65,137.29 L168.43,137.53 L168.2,137.77 L167.98,138.01 L167.76,138.26 L167.53,138.51 L167.31,138.76 L167.08,139.02 L166.86,139.28 L166.63,139.54 L166.41,139.81 L166.18,140.08 L165.95,140.35 L165.72,140.62 L165.49,140.9 L165.26,141.18 L165.03,141.46 L164.8,141.74 L164.57,142.03 L164.34,142.32 L164.1,142.61 L163.87,142.91 L163.64,143.2 L163.4,143.5 L163.17,143.81 L162.93,144.11 L162.7,144.42 L162.46,144.73 L162.23,145.04 L161.99,145.36 L161.76,145.68 L161.52,146 L161.28,146.32 L161.04,146.64 L160.81,146.97 L160.57,147.3 L160.33,147.63 L160.09,147.97 L159.85,148.3 L159.61,148.64 L159.38,148.98 L159.14,149.32 L158.9,149.67 L158.66,150.02 L158.42,150.37 L158.18,150.72 L157.94,151.07 L157.7,151.43 L157.46,151.79 L157.21,152.15 L156.97,152.51 L156.73,152.87 L156.49,153.24 L156.25,153.6 L156.01,153.97 L155.77,154.35 L155.53,154.72 L155.29,155.09 L155.04,155.47 L154.8,155.85 L154.56,156.23 L154.32,156.61 L154.08,157 L153.84,157.39 L153.6,157.77 L153.36,158.16 L153.11,158.55 L152.87,158.95 L152.63,159.34 L152.39,159.74 L152.15,160.14 L151.91,160.54 L151.67,160.94 L151.43,161.34 L151.19,161.74 L150.95,162.15 L150.71,162.56 L150.47,162.97 L150.23,163.38 L149.99,163.79 L149.75,164.2 L149.51,164.62 L149.27,165.03 L149.03,165.45 L148.79,165.87 L148.56,166.29 L148.32,166.71 L148.08,167.13 L147.84,167.55 L147.61,167.98 L147.37,168.41 L147.13,168.83 L146.9,169.26 L146.66,169.69 L146.42,170.12 L146.19,170.56 L145.95,170.99 L145.72,171.42 L145.48,171.86 L145.25,172.3 L145.01,172.73 L144.78,173.17 L144.55,173.61 L144.31,174.05 L144.08,174.49 L143.85,174.94 L143.62,175.38 L143.39,175.82 L143.16,176.27 L142.93,176.72 L142.7,177.16 L142.47,177.61 L142.24,178.06 L142.01,178.51 L141.78,178.96 L141.55,179.41 L141.32,179.86 L141.1,180.32 L140.87,180.77 L140.64,181.23 L140.42,181.68 L140.19,182.14 L139.97,182.59 L139.74,183.05 L139.52,183.51 L139.3,183.97 L139.08,184.42 L138.85,184.88 L138.63,185.34 L138.41,185.8 L138.19,186.27 L137.97,186.73 L137.75,187.19 L137.53,187.65 L137.31,188.12 L137.1,188.58 L136.88,189.04 L136.66,189.51 L136.45,189.97 L136.23,190.44 L136.02,190.9 L135.8,191.37 L135.59,191.84 L135.37,192.3 L135.16,192.77 L134.95,193.24 L134.74,193.71 L134.53,194.17 L134.32,194.64 L134.11,195.11 L133.9,195.58 L133.69,196.05 L133.48,196.52 L133.28,196.99 L133.07,197.46 L132.86,197.93 L132.66,198.4 L132.46,198.87 L132.25,199.34 L132.05,199.81 L131.85,200.28 L131.64,200.75 L131.44,201.22 L131.24,201.69 L131.04,202.16 L130.84,202.63 L130.65,203.1 L130.45,203.57 L130.25,204.04 L130.06,204.51 L129.86,204.99 L129.67,205.46 L129.47,205.93 L129.28,206.4 L129.08,206.87 L128.89,207.34 L128.7,207.81 L128.51,208.28 L128.32,208.75 L128.13,209.22 L127.94,209.69 L127.76,210.16 L127.57,210.63 L127.38,211.09 L127.2,211.56 L127.01,212.03 L126.83,212.5 L126.64,212.97 L126.46,213.44 L126.28,213.9 L126.1,214.37 L125.92,214.84 L125.74,215.3 L125.56,215.77 L125.38,216.24 L125.2,216.7 L125.03,217.17 L124.85,217.63 L124.68,218.1 L124.5,218.56 L124.33,219.02 L124.16,219.49 L123.98,219.95 L123.81,220.41 L123.64,220.87 L123.47,221.33 L123.3,221.8 L123.14,222.26 L122.97,222.72 L122.8,223.18 L122.64,223.63 L122.47,224.09 L122.31,224.55 L122.14,225.01 L121.98,225.47 L121.82,225.92 L121.66,226.38 L121.5,226.83 L121.34,227.29 L121.18,227.74 L121.02,228.19 L120.86,228.65 L120.7,229.1 L120.55,229.55 L120.39,230 L120.24,230.45 L120.09,230.9 L119.93,231.35 L119.78,231.8 L119.63,232.25 L119.48,232.69 L119.33,233.14 L119.18,233.58 L119.03,234.03 L118.89,234.47 L118.74,234.91 L118.59,235.36 L118.45,235.8 L118.3,236.24 L118.16,236.68 L118.02,237.12 L117.88,237.56 L117.74,237.99 L117.6,238.43 L117.46,238.87 L117.32,239.3 L117.18,239.74 L117.04,240.17 L116.91,240.6 L116.77,241.03 L116.64,241.46 L116.5,241.89 L116.37,242.32 L116.24,242.75 L116.11,243.18 L115.97,243.6 L115.84,244.03 L115.72,244.45 L115.59,244.88 L115.46,245.3 L115.33,245.72 L115.21,246.14 L115.08,246.56 L114.96,246.98 L114.83,247.4 L114.71,247.82 L114.59,248.23 L114.47,248.65 L114.34,249.06 L114.22,249.47 L114.11,249.88 L113.99,250.29 L113.87,250.7 L113.75,251.11 L113.64,251.52 L113.52,251.93 L113.41,252.33 L113.29,252.74 L113.18,253.14 L113.07,253.54 L112.95,253.94 L112.84,254.34 L112.73,254.74 L112.62,255.14 L112.51,255.54 L112.41,255.93 L112.3,256.33 L112.19,256.72 L112.09,257.11 L111.98,257.51 L111.88,257.9 L111.77,258.28 L111.67,258.67 L111.57,259.06 L111.47,259.44 L111.37,259.83 L111.27,260.21 L111.17,260.59 L111.07,260.97 L110.97,261.35 L110.88,261.73 L110.78,262.11 L110.68,262.48 L110.59,262.86 L110.49,263.23 L110.4,263.61 L110.31,263.98 L110.22,264.35 L110.13,264.71 L110.03,265.08 L109.94,265.45 L109.86,265.81 L109.77,266.18 L109.68,266.54 L109.59,266.9 L109.51,267.26 L109.42,267.62 L109.33,267.98 L109.25,268.33 L109.17,268.69 L109.08,269.04 L109,269.39 L108.92,269.74 L108.84,270.09 L108.76,270.44 L108.68,270.79 L108.6,271.13 L108.52,271.48 L108.44,271.82 L108.37,272.16 L108.29,272.5 L108.22,272.84 L108.14,273.18 L108.07,273.52 L107.99,273.85 L107.92,274.19 L107.85,274.52 L107.78,274.85 L107.7,275.18 L107.63,275.51 L107.56,275.83 L107.49,276.16 L107.43,276.48 L107.36,276.81 L107.29,277.13 L107.22,277.45 L107.16,277.77 L107.09,278.08 L107.03,278.4 L106.96,278.71 L106.9,279.03 L106.84,279.34 L106.77,279.65 L106.71,279.96 L106.65,280.27 L106.59,280.57 L106.53,280.88 L106.47,281.18 L106.41,281.48 L106.35,281.78 L106.3,282.08 L106.24,282.38 L106.18,282.67 L106.13,282.97 L106.07,283.26 L106.02,283.55 L105.96,283.84 L105.91,284.13 L105.86,284.42 L105.8,284.71 L105.75,284.99 L105.7,285.27 L105.65,285.56 L105.6,285.84 L105.55,286.12 L105.5,286.39 L105.45,286.67 L105.4,286.94 L105.36,287.22 L105.31,287.49 L105.26,287.76 L105.22,288.03 L105.17,288.29 L105.13,288.56 L105.08,288.82 L105.04,289.09 L105,289.35 L104.95,289.61 L104.91,289.86 L104.87,290.12 L104.83,290.38 L104.79,290.63 L104.75,290.88 L104.71,291.13 L104.67,291.38 L104.63,291.63 L104.59,291.88 L104.55,292.12 L104.51,292.36 L104.48,292.61 L104.44,292.85 L104.41,293.08 L104.37,293.32 L104.33,293.56 L104.3,293.79 L104.27,294.02 L104.23,294.25 L104.2,294.48 L104.17,294.71 L104.13,294.94 L104.1,295.16 L104.07,295.39 L104.04,295.61 L104.01,295.83 L103.98,296.05 L103.95,296.27 L103.92,296.48 L103.89,296.7 L103.86,296.91 L103.83,297.12 L103.81,297.33 L103.78,297.54 L103.75,297.74 L103.73,297.95 L103.7,298.15 L103.68,298.35 L103.65,298.56 L103.63,298.75 L103.6,298.95 L103.58,299.15 L103.55,299.34 L103.53,299.53 L103.51,299.73 L103.49,299.91 L103.46,300.1 L103.44,300.29 L103.42,300.47 L103.4,300.66 L103.38,300.84 L103.36,301.02 L103.34,301.2 L103.32,301.38 L103.3,301.55 L103.28,301.72 L103.26,301.9 L103.24,302.07 L103.23,302.24 L103.21,302.41 L103.19,302.57 L103.17,302.74 L103.16,302.9 L103.14,303.06 L103.13,303.22 L103.11,303.38 L103.09,303.54 L103.08,303.69 L103.07,303.84 L103.05,304 L103.04,304.15 L103.02,304.3 L103.01,304.44 L103,304.59 L102.98,304.73 L102.97,304.88 L102.96,305.02 L102.95,305.16 L102.93,305.29 L102.92,305.43 L102.91,305.56 L102.9,305.7 L102.89,305.83 L102.88,305.96 L102.87,306.09 L102.86,306.21 L102.85,306.34 L102.84,306.46 L102.83,306.59 L102.82,306.71 L102.81,306.82 L102.8,306.94 L102.8,307.06 L102.79,307.17 L102.78,307.28 L102.77,307.4 L102.77,307.5 L102.76,307.61 L102.75,307.72 L102.74,307.82 L102.74,307.93 L102.73,308.03 L102.73,308.13 L102.72,308.23 L102.71,308.32 L102.71,308.42 L102.7,308.51 L102.7,308.6 L102.69,308.69 L102.69,308.78 L102.68,308.87 L102.68,308.95 L102.67,309.04 L102.67,309.12 L102.67,309.2 L102.66,309.28 L102.66,309.36 L102.65,309.43 L102.65,309.51 L102.65,309.58 L102.64,309.65 L102.64,309.72 L102.64,309.79 L102.64,309.86 L102.63,309.92 L102.63,309.98 L102.63,310.04 L102.63,310.1 L102.62,310.16 L102.62,310.22 L102.62,310.28 L102.62,310.33 L102.62,310.38 L102.62,310.43 L102.61,310.48 L102.61,310.53 L102.61,310.57 L102.61,310.62 L102.61,310.66 L102.61,310.7 L102.61,310.74 L102.61,310.78 L102.61,310.81 L102.6,310.85 L102.6,310.88 L102.6,310.91 L102.6,310.94 L102.6,310.97 L102.6,311 L102.6,311.02 L102.6,311.04 L102.6,311.06 L102.6,311.08 L102.6,311.1 L102.6,311.12 L102.6,311.14 L102.6,311.15 L102.6,311.16 L102.6,311.17 L102.6,311.18 L102.6,311.19 L102.6,311.19 L102.6,311.2 L102.6,311.2 L102.6,311.2" fill="none" stroke="#000" stroke-width="1.85" stroke-linejoin="round"/><path d="M172.32,311.2 L172.33,311.15 L172.37,311.11 L172.44,311.06 L172.53,311.02 L172.64,310.97 L172.78,310.93 L172.95,310.88 L173.14,310.83 L173.36,310.79 L173.6,310.74 L173.86,310.69 L174.15,310.64 L174.46,310.59 L174.79,310.54 L175.15,310.49 L175.53,310.44 L175.92,310.39 L176.34,310.34 L176.78,310.28 L177.23,310.23 L177.71,310.17 L178.2,310.12 L178.71,310.06 L179.23,310 L179.78,309.94 L180.33,309.88 L180.9,309.82 L181.49,309.76 L182.09,309.7 L182.7,309.63 L183.32,309.57 L183.96,309.5 L184.6,309.44 L185.25,309.37 L185.92,309.3 L186.59,309.23 L187.27,309.16 L187.96,309.09 L188.65,309.01 L189.35,308.94 L190.06,308.86 L190.77,308.79 L191.49,308.71 L192.21,308.63 L192.93,308.55 L193.66,308.47 L194.39,308.39 L195.12,308.31 L195.85,308.22 L196.59,308.14 L197.32,308.05 L198.06,307.97 L198.79,307.88 L199.52,307.79 L200.25,307.7 L200.98,307.61 L201.71,307.52 L202.44,307.43 L203.16,307.33 L203.88,307.24 L204.6,307.15 L205.31,307.05 L206.02,306.95 L206.72,306.86 L207.42,306.76 L208.11,306.66 L208.8,306.56 L209.48,306.46 L210.15,306.36 L210.82,306.26 L211.48,306.16 L212.14,306.06 L212.78,305.96 L213.42,305.86 L214.06,305.75 L214.68,305.65 L215.29,305.54 L215.9,305.44 L216.5,305.34 L217.09,305.23 L217.67,305.12 L218.23,305.02 L218.79,304.91 L219.34,304.81 L219.88,304.7 L220.41,304.59 L220.93,304.49 L221.44,304.38 L221.94,304.28 L222.43,304.17 L222.9,304.06 L223.37,303.96 L223.82,303.85 L224.26,303.74 L224.69,303.64 L225.11,303.53 L225.51,303.43 L225.91,303.32 L226.29,303.21 L226.66,303.11 L227.01,303.01 L227.36,302.9 L227.69,302.8 L228.01,302.69 L228.31,302.59 L228.6,302.49 L228.88,302.39 L229.15,302.28 L229.4,302.18 L229.64,302.08 L229.87,301.98 L230.08,301.89 L230.28,301.79 L230.47,301.69 L230.64,301.59 L230.8,301.5 L230.94,301.4 L231.07,301.31 L231.19,301.21 L231.29,301.12 L231.38,301.03 L231.46,300.94 L231.52,300.85 L231.57,300.76 L231.6,300.68 L231.62,300.59 L231.63,300.5 L231.62,300.42 L231.6,300.34 L231.57,300.26 L231.52,300.18 L231.46,300.1 L231.38,300.02 L231.29,299.94 L231.18,299.87 L231.07,299.79 L230.93,299.72 L230.79,299.65 L230.63,299.58 L230.46,299.51 L230.27,299.44 L230.07,299.38 L229.86,299.31 L229.63,299.25 L229.39,299.19 L229.14,299.13 L228.87,299.07 L228.59,299.02 L228.3,298.96 L227.99,298.91 L227.68,298.86 L227.35,298.81 L227,298.76 L226.65,298.72 L226.28,298.67 L225.9,298.63 L225.51,298.59 L225.1,298.55 L224.69,298.51 L224.26,298.48 L223.82,298.44 L223.37,298.41 L222.9,298.38 L222.43,298.35 L221.95,298.33 L221.45,298.3 L220.94,298.28 L220.43,298.26 L219.9,298.24 L219.36,298.22 L218.82,298.2 L218.26,298.19 L217.69,298.18 L217.12,298.17 L216.53,298.16 L215.94,298.15 L215.33,298.15 L214.72,298.14 L214.1,298.14 L213.48,298.14 L212.84,298.14 L212.2,298.15 L211.55,298.15 L210.89,298.16 L210.22,298.17 L209.55,298.18 L208.88,298.19 L208.19,298.21 L207.5,298.22 L206.81,298.24 L206.11,298.26 L205.41,298.28 L204.7,298.3 L203.99,298.32 L203.27,298.35 L202.55,298.37 L201.83,298.4 L201.11,298.43 L200.38,298.46 L199.65,298.49 L198.92,298.52 L198.19,298.55 L197.46,298.59 L196.72,298.62 L195.99,298.66 L195.26,298.69 L194.53,298.73 L193.8,298.77 L193.07,298.81 L192.35,298.85 L191.63,298.89 L190.91,298.93 L190.19,298.97 L189.48,299.01 L188.78,299.05 L188.08,299.1 L187.39,299.14 L186.7,299.18 L186.02,299.22 L185.35,299.26 L184.69,299.3 L184.03,299.34 L183.39,299.38 L182.75,299.42 L182.13,299.46 L181.52,299.5 L180.92,299.54 L180.33,299.57 L179.76,299.61 L179.2,299.64 L178.65,299.67 L178.12,299.7 L177.61,299.73 L177.11,299.76 L176.63,299.78 L176.16,299.8 L175.72,299.82 L175.29,299.84 L174.88,299.86 L174.49,299.87 L174.13,299.88 L173.78,299.89 L173.45,299.89 L173.15,299.89 L172.87,299.89 L172.61,299.89 L172.38,299.88 L172.16,299.87 L171.98,299.85 L171.81,299.83 L171.67,299.81 L171.56,299.78 L171.47,299.75 L171.4,299.71 L171.36,299.67 L171.34,299.63 L171.35,299.58 L171.39,299.53 L171.44,299.48 L171.53,299.42 L171.64,299.35 L171.77,299.28 L171.92,299.21 L172.1,299.13 L172.3,299.05 L172.53,298.96 L172.78,298.87 L173.05,298.78 L173.34,298.68 L173.66,298.57 L173.99,298.47 L174.35,298.36 L174.72,298.24 L175.11,298.12 L175.53,298 L175.96,297.87 L176.41,297.74 L176.87,297.6 L177.35,297.47 L177.85,297.32 L178.36,297.18 L178.89,297.03 L179.43,296.88 L179.98,296.72 L180.55,296.56 L181.12,296.4 L181.71,296.24 L182.31,296.07 L182.92,295.9 L183.54,295.73 L184.17,295.55 L184.81,295.38 L185.45,295.2 L186.1,295.01 L186.76,294.83 L187.42,294.64 L188.09,294.45 L188.76,294.26 L189.44,294.07 L190.12,293.88 L190.81,293.68 L191.5,293.49 L192.19,293.29 L192.88,293.09 L193.57,292.89 L194.27,292.69 L194.96,292.48 L195.66,292.28 L196.35,292.07 L197.05,291.87 L197.74,291.66 L198.43,291.45 L199.12,291.25 L199.81,291.04 L200.49,290.83 L201.18,290.62 L201.85,290.41 L202.53,290.2 L203.2,289.99 L203.87,289.78 L204.53,289.57 L205.19,289.36 L205.84,289.16 L206.48,288.95 L207.13,288.74 L207.76,288.53 L208.39,288.32 L209.01,288.12 L209.63,287.91 L210.23,287.7 L210.83,287.5 L211.43,287.29 L212.01,287.09 L212.59,286.89 L213.16,286.69 L213.72,286.49 L214.27,286.29 L214.81,286.09 L215.35,285.89 L215.87,285.7 L216.39,285.5 L216.9,285.31 L217.39,285.12 L217.88,284.93 L218.36,284.74 L218.82,284.56 L219.28,284.37 L219.73,284.19 L220.16,284.01 L220.59,283.83 L221,283.65 L221.4,283.48 L221.79,283.3 L222.17,283.13 L222.54,282.96 L222.9,282.79 L223.25,282.63 L223.58,282.47 L223.91,282.31 L224.22,282.15 L224.52,281.99 L224.8,281.84 L225.08,281.69 L225.34,281.54 L225.59,281.4 L225.83,281.25 L226.06,281.11 L226.27,280.98 L226.47,280.84 L226.66,280.71 L226.84,280.58 L227,280.45 L227.16,280.33 L227.29,280.21 L227.42,280.09 L227.53,279.98 L227.64,279.86 L227.72,279.76 L227.8,279.65 L227.86,279.55 L227.91,279.45 L227.95,279.35 L227.97,279.26 L227.98,279.17 L227.98,279.08 L227.97,279 L227.94,278.92 L227.9,278.84 L227.85,278.77 L227.79,278.7 L227.71,278.63 L227.62,278.57 L227.52,278.51 L227.4,278.45 L227.27,278.4 L227.13,278.35 L226.98,278.3 L226.81,278.26 L226.64,278.22 L226.45,278.18 L226.24,278.15 L226.03,278.12 L225.8,278.1 L225.56,278.07 L225.31,278.06 L225.05,278.04 L224.78,278.03 L224.49,278.02 L224.19,278.02 L223.88,278.02 L223.56,278.02 L223.23,278.03 L222.89,278.04 L222.53,278.05 L222.17,278.07 L221.79,278.09 L221.4,278.11 L221.01,278.14 L220.6,278.17 L220.18,278.21 L219.75,278.24 L219.31,278.29 L218.86,278.33 L218.4,278.38 L217.93,278.43 L217.45,278.49 L216.96,278.54 L216.46,278.61 L215.96,278.67 L215.44,278.74 L214.92,278.81 L214.38,278.89 L213.84,278.97 L213.29,279.05 L212.73,279.13 L212.17,279.22 L211.59,279.31 L211.01,279.4 L210.42,279.5 L209.83,279.6 L209.22,279.7 L208.61,279.8 L208,279.91 L207.37,280.02 L206.75,280.14 L206.11,280.25 L205.47,280.37 L204.83,280.49 L204.18,280.61 L203.52,280.74 L202.87,280.87 L202.2,281 L201.53,281.13 L200.86,281.26 L200.19,281.4 L199.51,281.54 L198.83,281.67 L198.15,281.82 L197.47,281.96 L196.78,282.1 L196.09,282.25 L195.4,282.4 L194.72,282.54 L194.03,282.69 L193.34,282.84 L192.65,282.99 L191.96,283.15 L191.27,283.3 L190.58,283.45 L189.9,283.6 L189.22,283.76 L188.54,283.91 L187.86,284.06 L187.19,284.22 L186.52,284.37 L185.86,284.52 L185.2,284.68 L184.54,284.83 L183.89,284.98 L183.25,285.13 L182.62,285.27 L181.99,285.42 L181.37,285.56 L180.76,285.71 L180.15,285.85 L179.56,285.99 L178.97,286.12 L178.4,286.26 L177.84,286.39 L177.29,286.52 L176.75,286.64 L176.22,286.76 L175.7,286.88 L175.2,286.99 L174.71,287.11 L174.24,287.21 L173.78,287.31 L173.34,287.41 L172.91,287.5 L172.5,287.59 L172.11,287.67 L171.73,287.75 L171.37,287.82 L171.03,287.89 L170.71,287.95 L170.41,288 L170.12,288.05 L169.86,288.09 L169.62,288.13 L169.39,288.15 L169.19,288.18 L169.01,288.19 L168.85,288.2 L168.71,288.2 L168.59,288.19 L168.5,288.18 L168.42,288.15 L168.37,288.12 L168.34,288.09 L168.33,288.04 L168.34,287.99 L168.37,287.93 L168.43,287.86 L168.51,287.79 L168.6,287.7 L168.72,287.61 L168.86,287.51 L169.02,287.41 L169.2,287.29 L169.41,287.17 L169.63,287.04 L169.86,286.91 L170.12,286.76 L170.4,286.61 L170.69,286.46 L171.01,286.29 L171.34,286.12 L171.68,285.94 L172.05,285.76 L172.42,285.57 L172.82,285.37 L173.22,285.17 L173.65,284.96 L174.08,284.75 L174.53,284.53 L174.99,284.31 L175.47,284.08 L175.95,283.84 L176.45,283.6 L176.95,283.36 L177.47,283.11 L177.99,282.85 L178.53,282.6 L179.07,282.33 L179.62,282.07 L180.18,281.8 L180.75,281.53 L181.32,281.25 L181.9,280.97 L182.48,280.69 L183.07,280.41 L183.66,280.12 L184.26,279.83 L184.86,279.54 L185.46,279.24 L186.07,278.95 L186.68,278.65 L187.29,278.35 L187.9,278.05 L188.51,277.74 L189.13,277.44 L189.74,277.13 L190.36,276.83 L190.97,276.52 L191.59,276.21 L192.2,275.9 L192.82,275.59 L193.43,275.28 L194.04,274.97 L194.64,274.66 L195.25,274.35 L195.85,274.04 L196.45,273.73 L197.05,273.42 L197.64,273.11 L198.23,272.81 L198.81,272.5 L199.39,272.19 L199.97,271.89 L200.54,271.58 L201.11,271.28 L201.67,270.97 L202.22,270.67 L202.77,270.37 L203.32,270.07 L203.86,269.78 L204.39,269.48 L204.92,269.19 L205.43,268.9 L205.95,268.61 L206.45,268.32 L206.95,268.03 L207.44,267.75 L207.93,267.47 L208.4,267.19 L208.87,266.92 L209.33,266.64 L209.78,266.37 L210.23,266.1 L210.66,265.84 L211.09,265.57 L211.51,265.31 L211.92,265.06 L212.32,264.8 L212.72,264.55 L213.1,264.3 L213.48,264.06 L213.84,263.82 L214.2,263.58 L214.55,263.35 L214.89,263.11 L215.21,262.89 L215.53,262.66 L215.84,262.44 L216.14,262.23 L216.43,262.01 L216.71,261.8 L216.98,261.6 L217.24,261.4 L217.49,261.2 L217.73,261 L217.96,260.82 L218.18,260.63 L218.39,260.45 L218.59,260.27 L218.77,260.1 L218.95,259.93 L219.12,259.76 L219.28,259.6 L219.42,259.45 L219.56,259.3 L219.68,259.15 L219.8,259.01 L219.9,258.87 L220,258.74 L220.08,258.61 L220.15,258.48 L220.21,258.36 L220.27,258.25 L220.31,258.14 L220.34,258.03 L220.35,257.93 L220.36,257.83 L220.36,257.74 L220.35,257.65 L220.33,257.57 L220.29,257.49 L220.25,257.42 L220.19,257.35 L220.13,257.29 L220.05,257.23 L219.97,257.18 L219.87,257.13 L219.76,257.09 L219.64,257.05 L219.52,257.02 L219.38,256.99 L219.23,256.96 L219.07,256.95 L218.9,256.93 L218.72,256.92 L218.54,256.92 L218.34,256.92 L218.13,256.93 L217.91,256.94 L217.68,256.95 L217.44,256.97 L217.2,257 L216.94,257.03 L216.67,257.06 L216.39,257.1 L216.11,257.15 L215.81,257.2 L215.51,257.25 L215.2,257.31 L214.87,257.38 L214.54,257.45 L214.2,257.52 L213.85,257.6 L213.5,257.68 L213.13,257.77 L212.76,257.86 L212.37,257.96 L211.98,258.06 L211.58,258.17 L211.17,258.28 L210.76,258.39 L210.34,258.51 L209.9,258.64 L209.47,258.76 L209.02,258.9 L208.57,259.03 L208.11,259.17 L207.64,259.32 L207.16,259.47 L206.68,259.62 L206.2,259.78 L205.7,259.94 L205.2,260.11 L204.69,260.28 L204.18,260.45 L203.66,260.63 L203.14,260.81 L202.61,260.99 L202.07,261.18 L201.53,261.37 L200.98,261.56 L200.43,261.76 L199.88,261.96 L199.32,262.17 L198.75,262.37 L198.19,262.58 L197.61,262.8 L197.04,263.01 L196.46,263.23 L195.87,263.45 L195.29,263.68 L194.7,263.9 L194.11,264.13 L193.51,264.36 L192.92,264.59 L192.32,264.83 L191.72,265.07 L191.12,265.3 L190.51,265.54 L189.91,265.79 L189.3,266.03 L188.7,266.27 L188.09,266.52 L187.48,266.76 L186.88,267.01 L186.27,267.26 L185.67,267.51 L185.06,267.76 L184.46,268.01 L183.86,268.26 L183.26,268.51 L182.66,268.75 L182.07,269 L181.48,269.25 L180.89,269.5 L180.3,269.75 L179.72,269.99 L179.14,270.24 L178.57,270.48 L178,270.72 L177.44,270.96 L176.88,271.2 L176.33,271.43 L175.78,271.66 L175.24,271.89 L174.71,272.12 L174.19,272.35 L173.67,272.57 L173.16,272.78 L172.66,273 L172.16,273.21 L171.68,273.41 L171.21,273.61 L170.74,273.81 L170.29,274 L169.84,274.19 L169.41,274.37 L168.99,274.55 L168.58,274.72 L168.18,274.88 L167.8,275.04 L167.42,275.19 L167.06,275.34 L166.72,275.47 L166.38,275.6 L166.06,275.73 L165.76,275.84 L165.47,275.95 L165.19,276.05 L164.93,276.15 L164.69,276.23 L164.46,276.31 L164.25,276.37 L164.05,276.43 L163.87,276.48 L163.7,276.52 L163.55,276.56 L163.42,276.58 L163.3,276.59 L163.21,276.6 L163.12,276.59 L163.06,276.57 L163.01,276.55 L162.98,276.51 L162.96,276.47 L162.97,276.42 L162.99,276.35 L163.02,276.28 L163.07,276.2 L163.14,276.1 L163.23,276 L163.33,275.89 L163.45,275.77 L163.58,275.64 L163.73,275.5 L163.89,275.35 L164.07,275.19 L164.26,275.03 L164.47,274.85 L164.69,274.67 L164.92,274.47 L165.17,274.27 L165.43,274.06 L165.71,273.84 L165.99,273.62 L166.29,273.38 L166.6,273.14 L166.92,272.9 L167.26,272.64 L167.6,272.38 L167.95,272.11 L168.32,271.83 L168.69,271.55 L169.07,271.26 L169.46,270.97 L169.86,270.67 L170.27,270.36 L170.68,270.05 L171.1,269.74 L171.53,269.42 L171.97,269.09 L172.41,268.76 L172.85,268.43 L173.31,268.09 L173.76,267.75 L174.22,267.4 L174.69,267.05 L175.16,266.7 L175.63,266.34 L176.11,265.98 L176.59,265.62 L177.07,265.26 L177.56,264.89 L178.05,264.52 L178.54,264.15 L179.03,263.77 L179.52,263.4 L180.01,263.02 L180.51,262.64 L181,262.26 L181.5,261.88 L181.99,261.5 L182.49,261.12 L182.98,260.74 L183.48,260.35 L183.97,259.97 L184.46,259.58 L184.95,259.2 L185.44,258.82 L185.93,258.43 L186.41,258.05 L186.9,257.66 L187.38,257.28 L187.85,256.9 L188.33,256.52 L188.8,256.14 L189.27,255.76 L189.74,255.38 L190.2,255 L190.66,254.63 L191.11,254.25 L191.56,253.88 L192.01,253.51 L192.45,253.14 L192.89,252.77 L193.33,252.41 L193.76,252.05 L194.18,251.69 L194.6,251.33 L195.02,250.97 L195.43,250.62 L195.83,250.27 L196.23,249.92 L196.62,249.57 L197.01,249.23 L197.4,248.89 L197.77,248.55 L198.15,248.22 L198.51,247.89 L198.87,247.56 L199.22,247.23 L199.57,246.91 L199.91,246.6 L200.25,246.28 L200.58,245.97 L200.9,245.66 L201.21,245.36 L201.52,245.06 L201.82,244.77 L202.12,244.47 L202.41,244.19 L202.69,243.9 L202.96,243.62 L203.23,243.35 L203.49,243.07 L203.74,242.81 L203.99,242.54 L204.23,242.29 L204.46,242.03 L204.69,241.78 L204.9,241.53 L205.11,241.29 L205.32,241.06 L205.51,240.83 L205.7,240.6 L205.88,240.38 L206.05,240.16 L206.22,239.94 L206.38,239.74 L206.53,239.53 L206.67,239.33 L206.81,239.14 L206.93,238.95 L207.05,238.77 L207.16,238.59 L207.27,238.41 L207.37,238.24 L207.46,238.08 L207.54,237.92 L207.61,237.77 L207.68,237.62 L207.74,237.48 L207.79,237.34 L207.83,237.2 L207.86,237.08 L207.89,236.95 L207.91,236.84 L207.92,236.73 L207.93,236.62 L207.93,236.52 L207.92,236.42 L207.9,236.33 L207.87,236.25 L207.84,236.17 L207.8,236.09 L207.75,236.02 L207.69,235.96 L207.63,235.9 L207.56,235.85 L207.48,235.8 L207.39,235.76 L207.3,235.72 L207.2,235.69 L207.09,235.66 L206.97,235.64 L206.85,235.63 L206.72,235.62 L206.58,235.62 L206.44,235.62 L206.29,235.62 L206.13,235.64 L205.96,235.65 L205.79,235.68 L205.61,235.7 L205.42,235.74 L205.23,235.78 L205.03,235.82 L204.82,235.87 L204.61,235.92 L204.39,235.98 L204.16,236.05 L203.93,236.12 L203.69,236.19 L203.44,236.28 L203.19,236.36 L202.93,236.45 L202.66,236.55 L202.39,236.65 L202.11,236.76 L201.83,236.87 L201.54,236.98 L201.24,237.11 L200.94,237.23 L200.63,237.36 L200.32,237.5 L200,237.64 L199.68,237.79 L199.34,237.94 L199.01,238.09 L198.67,238.25 L198.32,238.42 L197.97,238.59 L197.61,238.76 L197.25,238.94 L196.88,239.12 L196.51,239.31 L196.13,239.5 L195.75,239.69 L195.37,239.89 L194.98,240.1 L194.58,240.31 L194.18,240.52 L193.78,240.74 L193.37,240.96 L192.96,241.18 L192.54,241.41 L192.12,241.64 L191.7,241.88 L191.27,242.12 L190.84,242.36 L190.41,242.61 L189.97,242.86 L189.53,243.11 L189.08,243.37 L188.64,243.63 L188.18,243.89 L187.73,244.15 L187.28,244.42 L186.82,244.7 L186.36,244.97 L185.89,245.25 L185.43,245.53 L184.96,245.81 L184.49,246.1 L184.02,246.38 L183.55,246.67 L183.07,246.97 L182.6,247.26 L182.12,247.56 L181.64,247.85 L181.16,248.15 L180.68,248.45 L180.2,248.76 L179.72,249.06 L179.24,249.37 L178.76,249.67 L178.27,249.98 L177.79,250.29 L177.31,250.6 L176.83,250.91 L176.35,251.22 L175.86,251.54 L175.38,251.85 L174.9,252.16 L174.43,252.47 L173.95,252.78 L173.47,253.1 L173,253.41 L172.53,253.72 L172.06,254.03 L171.59,254.34 L171.12,254.65 L170.66,254.95 L170.2,255.26 L169.74,255.56 L169.29,255.87 L168.84,256.17 L168.39,256.47 L167.94,256.77 L167.5,257.06 L167.07,257.35 L166.63,257.64 L166.21,257.93 L165.78,258.21 L165.37,258.5 L164.95,258.77 L164.54,259.05 L164.14,259.32 L163.74,259.58 L163.35,259.85 L162.97,260.1 L162.59,260.36 L162.22,260.61 L161.85,260.85 L161.49,261.09 L161.14,261.32 L160.79,261.55 L160.46,261.77 L160.13,261.99 L159.81,262.2 L159.49,262.4 L159.19,262.6 L158.89,262.79 L158.6,262.98 L158.32,263.15 L158.05,263.33 L157.79,263.49 L157.53,263.64 L157.29,263.79 L157.06,263.93 L156.83,264.07 L156.62,264.19 L156.41,264.31 L156.22,264.41 L156.03,264.51 L155.86,264.6 L155.7,264.68 L155.54,264.76 L155.4,264.82 L155.27,264.88 L155.15,264.92 L155.04,264.96 L154.94,264.99 L154.85,265 L154.77,265.01 L154.7,265.01 L154.65,265 L154.6,264.98 L154.56,264.95 L154.54,264.91 L154.53,264.86 L154.52,264.81 L154.53,264.74 L154.55,264.66 L154.58,264.57 L154.62,264.48 L154.66,264.37 L154.72,264.26 L154.79,264.13 L154.87,264 L154.96,263.86 L155.06,263.71 L155.17,263.55 L155.28,263.38 L155.41,263.2 L155.54,263.01 L155.69,262.82 L155.84,262.62 L156,262.41 L156.17,262.19 L156.35,261.96 L156.53,261.73 L156.72,261.48 L156.92,261.24 L157.13,260.98 L157.35,260.72 L157.57,260.45 L157.79,260.17 L158.03,259.88 L158.27,259.59 L158.51,259.3 L158.77,259 L159.02,258.69 L159.29,258.37 L159.55,258.06 L159.83,257.73 L160.1,257.4 L160.39,257.07 L160.67,256.73 L160.96,256.38 L161.26,256.03 L161.55,255.68 L161.86,255.32 L162.16,254.96 L162.47,254.6 L162.78,254.23 L163.09,253.86 L163.41,253.48 L163.73,253.1 L164.05,252.72 L164.37,252.34 L164.69,251.95 L165.02,251.56 L165.35,251.17 L165.68,250.78 L166.01,250.38 L166.34,249.98 L166.67,249.58 L167,249.18 L167.34,248.78 L167.67,248.38 L168.01,247.97 L168.34,247.56 L168.67,247.16 L169.01,246.75 L169.34,246.34 L169.68,245.93 L170.01,245.52 L170.34,245.11 L170.68,244.7 L171.01,244.29 L171.34,243.87 L171.67,243.46 L171.99,243.05 L172.32,242.64 L172.65,242.23 L172.97,241.82 L173.29,241.41 L173.61,241 L173.93,240.6 L174.25,240.19 L174.56,239.78 L174.88,239.38 L175.19,238.98 L175.5,238.57 L175.8,238.17 L176.11,237.77 L176.41,237.38 L176.71,236.98 L177,236.59 L177.3,236.19 L177.59,235.8 L177.88,235.41 L178.16,235.03 L178.44,234.64 L178.72,234.26 L179,233.88 L179.27,233.5 L179.54,233.12 L179.81,232.75 L180.08,232.38 L180.34,232.01 L180.59,231.64 L180.85,231.28 L181.1,230.92 L181.34,230.56 L181.59,230.21 L181.83,229.85 L182.06,229.51 L182.29,229.16 L182.52,228.82 L182.75,228.48 L182.97,228.14 L183.19,227.81 L183.4,227.48 L183.61,227.15 L183.82,226.82 L184.02,226.5 L184.21,226.19 L184.41,225.87 L184.6,225.56 L184.78,225.26 L184.97,224.95 L185.14,224.65 L185.32,224.36 L185.49,224.07 L185.65,223.78 L185.81,223.5 L185.97,223.21 L186.12,222.94 L186.27,222.67 L186.41,222.4 L186.55,222.13 L186.69,221.87 L186.82,221.61 L186.95,221.36 L187.07,221.11 L187.19,220.87 L187.3,220.63 L187.41,220.39 L187.51,220.16 L187.61,219.93 L187.71,219.71 L187.8,219.49 L187.89,219.28 L187.97,219.06 L188.05,218.86 L188.13,218.66 L188.2,218.46 L188.26,218.26 L188.33,218.08 L188.38,217.89 L188.44,217.71 L188.48,217.54 L188.53,217.36 L188.57,217.2 L188.6,217.04 L188.63,216.88 L188.66,216.72 L188.68,216.58 L188.7,216.43 L188.71,216.29 L188.72,216.16 L188.73,216.03 L188.73,215.9 L188.72,215.78 L188.72,215.66 L188.7,215.55 L188.69,215.44 L188.67,215.34 L188.64,215.24 L188.61,215.15 L188.58,215.06 L188.54,214.97 L188.5,214.89 L188.45,214.82 L188.4,214.75 L188.35,214.68 L188.29,214.62 L188.23,214.56 L188.16,214.51 L188.09,214.46 L188.01,214.42 L187.94,214.38 L187.85,214.35 L187.77,214.32 L187.68,214.29 L187.58,214.27 L187.48,214.26 L187.38,214.25 L187.27,214.24 L187.16,214.24 L187.05,214.24 L186.93,214.25 L186.81,214.26 L186.68,214.28 L186.55,214.3 L186.42,214.32 L186.29,214.35 L186.15,214.39 L186,214.42 L185.85,214.47 L185.7,214.52 L185.55,214.57 L185.39,214.62 L185.23,214.68 L185.06,214.75 L184.9,214.82 L184.72,214.89 L184.55,214.97 L184.37,215.05 L184.19,215.14 L184,215.23 L183.82,215.32 L183.62,215.42 L183.43,215.53 L183.23,215.63 L183.03,215.74 L182.83,215.86 L182.62,215.98 L182.41,216.1 L182.2,216.23 L181.98,216.36 L181.76,216.5 L181.54,216.64 L181.31,216.78 L181.09,216.93 L180.86,217.08 L180.62,217.23 L180.39,217.39 L180.15,217.56 L179.91,217.72 L179.66,217.89 L179.42,218.07 L179.17,218.24 L178.92,218.43 L178.66,218.61 L178.41,218.8 L178.15,218.99 L177.89,219.19 L177.63,219.38 L177.36,219.59 L177.09,219.79 L176.82,220 L176.55,220.21 L176.28,220.43 L176,220.65 L175.73,220.87 L175.45,221.09 L175.17,221.32 L174.88,221.55 L174.6,221.78 L174.31,222.02 L174.02,222.26 L173.73,222.5 L173.44,222.75 L173.15,223 L172.85,223.25 L172.55,223.5 L172.26,223.76 L171.96,224.02 L171.65,224.28 L171.35,224.54 L171.05,224.81 L170.74,225.08 L170.44,225.35 L170.13,225.62 L169.82,225.9 L169.51,226.18 L169.2,226.46 L168.89,226.74 L168.58,227.02 L168.27,227.31 L167.95,227.59 L167.64,227.88 L167.32,228.18 L167.01,228.47 L166.69,228.76 L166.38,229.06 L166.06,229.36 L165.74,229.66 L165.42,229.96 L165.1,230.26 L164.79,230.57 L164.47,230.87 L164.15,231.18 L163.83,231.48 L163.51,231.79 L163.19,232.1 L162.87,232.41 L162.55,232.72 L162.23,233.03 L161.91,233.35 L161.59,233.66 L161.28,233.97 L160.96,234.29 L160.64,234.6 L160.32,234.91 L160.01,235.23 L159.69,235.54 L159.38,235.86 L159.06,236.17 L158.75,236.49 L158.43,236.8 L158.12,237.12 L157.81,237.43 L157.5,237.75 L157.19,238.06 L156.88,238.37 L156.58,238.69 L156.27,239 L155.97,239.31 L155.67,239.62 L155.36,239.93 L155.07,240.23 L154.77,240.54 L154.47,240.84 L154.18,241.15 L153.88,241.45 L153.59,241.75 L153.3,242.05 L153.01,242.35 L152.73,242.64 L152.45,242.94 L152.16,243.23 L151.89,243.52 L151.61,243.81 L151.33,244.09 L151.06,244.37 L150.79,244.65 L150.53,244.93 L150.26,245.21 L150,245.48 L149.74,245.75 L149.48,246.01 L149.23,246.28 L148.98,246.54 L148.73,246.79 L148.49,247.05 L148.24,247.29 L148.01,247.54 L147.77,247.78 L147.54,248.02 L147.31,248.26 L147.08,248.49 L146.86,248.71 L146.64,248.93 L146.43,249.15 L146.22,249.37 L146.01,249.58 L145.8,249.78 L145.6,249.98 L145.41,250.17 L145.21,250.36 L145.02,250.55 L144.84,250.73 L144.66,250.9 L144.48,251.07 L144.31,251.24 L144.14,251.4 L143.98,251.55 L143.81,251.7 L143.66,251.84 L143.51,251.98 L143.36,252.11 L143.22,252.24 L143.08,252.36 L142.94,252.47 L142.81,252.58 L142.68,252.68 L142.56,252.77 L142.45,252.86 L142.33,252.94 L142.23,253.02 L142.12,253.09 L142.02,253.16 L141.93,253.21 L141.84,253.26 L141.75,253.31 L141.67,253.35 L141.6,253.38 L141.52,253.4 L141.46,253.42 L141.39,253.43 L141.33,253.44 L141.28,253.44 L141.23,253.43 L141.19,253.42 L141.14,253.4 L141.11,253.37 L141.08,253.33 L141.05,253.29 L141.02,253.25 L141.01,253.19 L140.99,253.13 L140.98,253.07 L140.97,252.99 L140.97,252.91 L140.97,252.83 L140.98,252.74 L140.99,252.64 L141,252.53 L141.02,252.42 L141.04,252.31 L141.06,252.18 L141.09,252.06 L141.12,251.92 L141.16,251.78 L141.2,251.64 L141.24,251.48 L141.29,251.33 L141.34,251.16 L141.39,250.99 L141.45,250.82 L141.51,250.64 L141.57,250.46 L141.63,250.27 L141.7,250.07 L141.77,249.87 L141.85,249.67 L141.92,249.46 L142,249.24 L142.09,249.02 L142.17,248.8 L142.26,248.57 L142.35,248.34 L142.44,248.1 L142.53,247.86 L142.63,247.62 L142.73,247.37 L142.83,247.11 L142.93,246.85 L143.04,246.59 L143.14,246.33 L143.25,246.06 L143.36,245.79 L143.47,245.51 L143.59,245.23 L143.7,244.95 L143.82,244.67 L143.94,244.38 L144.06,244.09 L144.18,243.79 L144.3,243.5 L144.42,243.2 L144.55,242.89 L144.67,242.59 L144.8,242.28 L144.93,241.97 L145.05,241.66 L145.18,241.34 L145.31,241.03 L145.44,240.71 L145.57,240.39 L145.71,240.06 L145.84,239.74 L145.97,239.41 L146.11,239.09 L146.24,238.76 L146.37,238.43 L146.51,238.09 L146.64,237.76 L146.78,237.42 L146.91,237.09 L147.05,236.75 L147.19,236.41 L147.32,236.07 L147.46,235.73 L147.59,235.39 L147.73,235.05 L147.87,234.7 L148,234.36 L148.14,234.01 L148.27,233.67 L148.41,233.32 L148.54,232.98 L148.67,232.63 L148.81,232.28 L148.94,231.94 L149.08,231.59 L149.21,231.24 L149.34,230.89 L149.47,230.54 L149.6,230.2 L149.73,229.85 L149.86,229.5 L149.99,229.15 L150.12,228.8 L150.25,228.46 L150.38,228.11 L150.5,227.76 L150.63,227.42 L150.76,227.07 L150.88,226.72 L151,226.38 L151.13,226.03 L151.25,225.69 L151.37,225.35 L151.49,225 L151.61,224.66 L151.73,224.32 L151.84,223.98 L151.96,223.64 L152.07,223.3 L152.19,222.96 L152.3,222.63 L152.41,222.29 L152.52,221.96 L152.63,221.62 L152.74,221.29 L152.85,220.96 L152.96,220.63 L153.06,220.3 L153.17,219.97 L153.27,219.64 L153.37,219.31 L153.47,218.99 L153.57,218.67 L153.67,218.34 L153.76,218.02 L153.86,217.7 L153.95,217.39 L154.05,217.07 L154.14,216.75 L154.23,216.44 L154.32,216.13 L154.41,215.82 L154.49,215.51 L154.58,215.2 L154.66,214.9 L154.74,214.59 L154.83,214.29 L154.9,213.99 L154.98,213.69 L155.06,213.39 L155.14,213.1 L155.21,212.8 L155.28,212.51 L155.35,212.22 L155.42,211.93 L155.49,211.65 L155.56,211.36 L155.63,211.08 L155.69,210.8 L155.75,210.52 L155.82,210.24 L155.88,209.96 L155.94,209.69 L155.99,209.42 L156.05,209.15 L156.1,208.88 L156.16,208.62 L156.21,208.35 L156.26,208.09 L156.31,207.83 L156.35,207.58 L156.4,207.32 L156.44,207.07 L156.49,206.82 L156.53,206.57 L156.57,206.32 L156.61,206.08 L156.65,205.83 L156.68,205.59 L156.72,205.35 L156.75,205.12 L156.78,204.88 L156.81,204.65 L156.84,204.42 L156.87,204.19 L156.89,203.97 L156.92,203.75 L156.94,203.52 L156.96,203.31 L156.98,203.09 L157,202.87 L157.02,202.66 L157.03,202.45 L157.05,202.25 L157.06,202.04 L157.07,201.84 L157.08,201.64 L157.09,201.44 L157.1,201.24 L157.11,201.05 L157.11,200.86 L157.11,200.67 L157.12,200.48 L157.12,200.29 L157.12,200.11 L157.11,199.93 L157.11,199.75 L157.1,199.58 L157.1,199.4 L157.09,199.23 L157.08,199.06 L157.07,198.9 L157.06,198.73 L157.05,198.57 L157.03,198.41 L157.02,198.25 L157,198.1 L156.98,197.95 L156.96,197.8 L156.94,197.65 L156.92,197.5 L156.9,197.36 L156.87,197.22 L156.85,197.08 L156.82,196.94 L156.79,196.81 L156.76,196.68 L156.73,196.55 L156.7,196.42 L156.67,196.29 L156.63,196.17 L156.6,196.05 L156.56,195.93 L156.52,195.82 L156.48,195.7 L156.44,195.59 L156.4,195.48 L156.36,195.38 L156.31,195.27 L156.27,195.17 L156.22,195.07 L156.17,194.97 L156.13,194.88 L156.08,194.78 L156.03,194.69 L155.97,194.6 L155.92,194.52 L155.87,194.43 L155.81,194.35 L155.75,194.27 L155.7,194.19 L155.64,194.12 L155.58,194.05 L155.52,193.97 L155.46,193.91 L155.39,193.84 L155.33,193.77 L155.27,193.71 L155.2,193.65 L155.13,193.59 L155.06,193.54 L155,193.49 L154.93,193.43 L154.86,193.38 L154.78,193.34 L154.71,193.29 L154.64,193.25 L154.56,193.21 L154.49,193.17 L154.41,193.13 L154.33,193.1 L154.26,193.07 L154.18,193.04 L154.1,193.01 L154.02,192.98 L153.93,192.96 L153.85,192.94 L153.77,192.92 L153.68,192.9 L153.6,192.88 L153.51,192.87 L153.42,192.86 L153.34,192.85 L153.25,192.84 L153.16,192.83 L153.07,192.83 L152.98,192.83 L152.88,192.83 L152.79,192.83 L152.7,192.83 L152.6,192.84 L152.51,192.85 L152.41,192.86 L152.32,192.87 L152.22,192.88 L152.12,192.9 L152.02,192.92 L151.93,192.93 L151.83,192.96 L151.73,192.98 L151.62,193 L151.52,193.03 L151.42,193.06 L151.32,193.09 L151.21,193.12 L151.11,193.15 L151,193.19 L150.9,193.23 L150.79,193.26 L150.68,193.31 L150.58,193.35 L150.47,193.39 L150.36,193.44 L150.25,193.49 L150.14,193.53 L150.03,193.59 L149.92,193.64 L149.81,193.69 L149.69,193.75 L149.58,193.81 L149.47,193.87 L149.36,193.93 L149.24,193.99 L149.13,194.05 L149.01,194.12 L148.9,194.19 L148.78,194.25 L148.66,194.32 L148.55,194.4 L148.43,194.47 L148.31,194.55 L148.19,194.62 L148.07,194.7 L147.96,194.78 L147.84,194.86 L147.72,194.94 L147.6,195.03 L147.47,195.11 L147.35,195.2 L147.23,195.29 L147.11,195.38 L146.99,195.47 L146.87,195.56 L146.74,195.65 L146.62,195.75 L146.5,195.84 L146.37,195.94 L146.25,196.04 L146.12,196.14 L146,196.24 L145.87,196.35 L145.75,196.45 L145.62,196.55 L145.5,196.66 L145.37,196.77 L145.24,196.88 L145.12,196.99 L144.99,197.1 L144.86,197.21 L144.74,197.33 L144.61,197.44 L144.48,197.56 L144.35,197.68 L144.23,197.79 L144.1,197.91 L143.97,198.04 L143.84,198.16 L143.71,198.28 L143.58,198.4 L143.45,198.53 L143.32,198.66 L143.19,198.78 L143.06,198.91 L142.93,199.04 L142.8,199.17 L142.67,199.3 L142.54,199.43 L142.41,199.57 L142.28,199.7 L142.15,199.84 L142.02,199.97 L141.89,200.11 L141.76,200.25 L141.63,200.39 L141.5,200.53 L141.37,200.67 L141.24,200.81 L141.11,200.95 L140.97,201.09 L140.84,201.24 L140.71,201.38 L140.58,201.53 L140.45,201.67 L140.32,201.82 L140.19,201.97 L140.06,202.12 L139.92,202.27 L139.79,202.42 L139.66,202.57 L139.53,202.72 L139.4,202.87 L139.27,203.03 L139.14,203.18 L139.01,203.33 L138.87,203.49 L138.74,203.64 L138.61,203.8 L138.48,203.96 L138.35,204.11 L138.22,204.27 L138.09,204.43 L137.96,204.59 L137.83,204.75 L137.7,204.91 L137.57,205.07 L137.44,205.23 L137.31,205.39 L137.18,205.56 L137.05,205.72 L136.92,205.88 L136.79,206.05 L136.66,206.21 L136.53,206.37 L136.4,206.54 L136.27,206.7 L136.14,206.87 L136.01,207.04 L135.88,207.2 L135.75,207.37 L135.62,207.54 L135.5,207.71 L135.37,207.87 L135.24,208.04 L135.11,208.21 L134.98,208.38 L134.86,208.55 L134.73,208.72 L134.6,208.89 L134.48,209.06 L134.35,209.23 L134.22,209.4 L134.1,209.57 L133.97,209.74 L133.84,209.91 L133.72,210.08 L133.59,210.26 L133.47,210.43 L133.34,210.6 L133.22,210.77 L133.09,210.94 L132.97,211.12 L132.85,211.29 L132.72,211.46 L132.6,211.63 L132.47,211.81 L132.35,211.98 L132.23,212.15 L132.11,212.33 L131.98,212.5 L131.86,212.67 L131.74,212.85 L131.62,213.02 L131.5,213.19 L131.38,213.37 L131.26,213.54 L131.14,213.71 L131.02,213.88 L130.9,214.06 L130.78,214.23 L130.66,214.4 L130.54,214.58 L130.42,214.75 L130.3,214.92 L130.18,215.1 L130.06,215.27 L129.95,215.44 L129.83,215.61 L129.71,215.79 L129.6,215.96 L129.48,216.13 L129.36,216.3 L129.25,216.47 L129.13,216.64 L129.02,216.82 L128.9,216.99 L128.79,217.16 L128.68,217.33 L128.56,217.5 L128.45,217.67 L128.34,217.84 L128.22,218.01 L128.11,218.18 L128,218.35 L127.89,218.52 L127.78,218.68 L127.66,218.85 L127.55,219.02 L127.44,219.19 L127.33,219.36 L127.22,219.52 L127.11,219.69 L127.01,219.86 L126.9,220.02 L126.79,220.19 L126.68,220.35 L126.57,220.52 L126.47,220.68 L126.36,220.85 L126.25,221.01 L126.15,221.17 L126.04,221.34 L125.94,221.5 L125.83,221.66 L125.73,221.82 L125.62,221.99 L125.52,222.15 L125.41,222.31 L125.31,222.47 L125.21,222.63 L125.11,222.78 L125,222.94 L124.9,223.1 L124.8,223.26 L124.7,223.42 L124.6,223.57 L124.5,223.73 L124.4,223.88 L124.3,224.04 L124.2,224.19 L124.1,224.35 L124,224.5 L123.9,224.65 L123.81,224.81 L123.71,224.96 L123.61,225.11 L123.52,225.26 L123.42,225.41 L123.32,225.56 L123.23,225.71 L123.13,225.86 L123.04,226 L122.94,226.15 L122.85,226.3 L122.76,226.44 L122.66,226.59 L122.57,226.73 L122.48,226.88 L122.39,227.02 L122.29,227.16 L122.2,227.31 L122.11,227.45 L122.02,227.59 L121.93,227.73 L121.84,227.87 L121.75,228.01 L121.66,228.14 L121.57,228.28 L121.48,228.42 L121.4,228.55 L121.31,228.69 L121.22,228.82 L121.13,228.96 L121.05,229.09 L120.96,229.22 L120.87,229.36 L120.79,229.49 L120.7,229.62 L120.62,229.75 L120.53,229.88 L120.45,230.01 L120.36,230.13 L120.28,230.26 L120.2,230.39 L120.11,230.51 L120.03,230.64 L119.95,230.76 L119.87,230.88 L119.79,231.01 L119.71,231.13 L119.62,231.25 L119.54,231.37 L119.46,231.49 L119.38,231.61 L119.31,231.73 L119.23,231.84 L119.15,231.96 L119.07,232.08 L118.99,232.19 L118.91,232.3 L118.84,232.42 L118.76,232.53 L118.68,232.64 L118.6,232.75 L118.53,232.86 L118.45,232.97 L118.38,233.08 L118.3,233.19 L118.23,233.3 L118.15,233.4 L118.08,233.51 L118,233.61 L117.93,233.72 L117.86,233.82 L117.78,233.92 L117.71,234.03 L117.64,234.13 L117.57,234.23 L117.5,234.33 L117.42,234.43 L117.35,234.52 L117.28,234.62 L117.21,234.72 L117.14,234.81 L117.07,234.91 L117,235 L116.93,235.09 L116.86,235.19 L116.79,235.28 L116.73,235.37 L116.66,235.46 L116.59,235.55 L116.52,235.64 L116.45,235.73 L116.39,235.81 L116.32,235.9 L116.25,235.98 L116.19,236.07 L116.12,236.15 L116.05,236.24 L115.99,236.32 L115.92,236.4 L115.86,236.48 L115.79,236.56 L115.73,236.64 L115.66,236.72 L115.6,236.8 L115.54,236.87 L115.47,236.95 L115.41,237.02 L115.35,237.1 L115.28,237.17 L115.22,237.25 L115.16,237.32 L115.1,237.39 L115.03,237.46 L114.97,237.53 L114.91,237.6 L114.85,237.67 L114.79,237.74 L114.73,237.81 L114.67,237.87 L114.61,237.94 L114.55,238 L114.49,238.07 L114.43,238.13 L114.37,238.2 L114.31,238.26 L114.25,238.32 L114.19,238.38 L114.13,238.44 L114.07,238.5 L114.02,238.56 L113.96,238.62 L113.9,238.68 L113.84,238.73 L113.79,238.79 L113.73,238.84 L113.67,238.9 L113.61,238.95 L113.56,239.01 L113.5,239.06 L113.44,239.11 L113.39,239.16 L113.33,239.21 L113.28,239.26 L113.22,239.31 L113.16,239.36 L113.11,239.41 L113.05,239.46 L113,239.51 L112.94,239.55 L112.89,239.6 L112.84,239.64 L112.78,239.69 L112.73,239.73 L112.67,239.78 L112.62,239.82 L112.57,239.86 L112.51,239.9 L112.46,239.94 L112.4,239.98 L112.35,240.02 L112.3,240.06 L112.25,240.1 L112.19,240.14 L112.14,240.18 L112.09,240.21 L112.04,240.25 L111.98,240.29 L111.93,240.32 L111.88,240.36 L111.83,240.39 L111.78,240.42 L111.72,240.46 L111.67,240.49 L111.62,240.52 L111.57,240.55 L111.52,240.58 L111.47,240.61 L111.42,240.64 L111.37,240.67 L111.32,240.7 L111.26,240.73 L111.21,240.76 L111.16,240.79 L111.11,240.81 L111.06,240.84 L111.01,240.87 L110.96,240.89 L110.91,240.92 L110.86,240.94 L110.81,240.97 L110.76,240.99 L110.71,241.02 L110.67,241.04 L110.62,241.06 L110.57,241.08 L110.52,241.11 L110.47,241.13 L110.42,241.15 L110.37,241.17 L110.32,241.19 L110.27,241.21 L110.22,241.23 L110.18,241.25 L110.13,241.26 L110.08,241.28 L110.03,241.3 L109.98,241.32 L109.93,241.34 L109.89,241.35 L109.84,241.37 L109.79,241.38 L109.74,241.4 L109.69,241.42 L109.65,241.43 L109.6,241.44 L109.55,241.46 L109.5,241.47 L109.45,241.49 L109.41,241.5 L109.36,241.51 L109.31,241.53 L109.26,241.54 L109.22,241.55 L109.17,241.56 L109.12,241.57 L109.08,241.58 L109.03,241.6 L108.98,241.61 L108.93,241.62 L108.89,241.63 L108.84,241.64 L108.79,241.65 L108.75,241.65 L108.7,241.66 L108.65,241.67 L108.61,241.68 L108.56,241.69 L108.51,241.7 L108.47,241.7 L108.42,241.71 L108.37,241.72 L108.33,241.73 L108.28,241.73 L108.23,241.74 L108.19,241.75 L108.14,241.75 L108.09,241.76 L108.05,241.76 L108,241.77 L107.95,241.78 L107.91,241.78 L107.86,241.79 L107.81,241.79 L107.77,241.8 L107.72,241.8 L107.68,241.8 L107.63,241.81 L107.58,241.81 L107.54,241.82 L107.49,241.82 L107.45,241.82 L107.4,241.83 L107.35,241.83 L107.31,241.83 L107.26,241.84 L107.21,241.84 L107.17,241.84 L107.12,241.84 L107.08,241.85 L107.03,241.85 L106.99,241.85 L106.94,241.85 L106.89,241.85 L106.85,241.86 L106.8,241.86 L106.76,241.86 L106.71,241.86 L106.66,241.86 L106.62,241.86 L106.57,241.86 L106.53,241.86 L106.48,241.87 L106.43,241.87 L106.39,241.87 L106.34,241.87 L106.3,241.87 L106.25,241.87 L106.21,241.87 L106.16,241.87 L106.11,241.87 L106.07,241.87 L106.02,241.87 L105.98,241.87 L105.93,241.87 L105.89,241.87 L105.84,241.87 L105.79,241.87 L105.75,241.87 L105.7,241.87 L105.66,241.87 L105.61,241.87 L105.57,241.87 L105.52,241.87 L105.47,241.87 L105.43,241.87 L105.38,241.87 L105.34,241.87 L105.29,241.86 L105.25,241.86 L105.2,241.86 L105.16,241.86 L105.11,241.86 L105.06,241.86 L105.02,241.86 L104.97,241.86 L104.93,241.86 L104.88,241.86 L104.84,241.86 L104.79,241.86 L104.74,241.86 L104.7,241.86 L104.65,241.85 L104.61,241.85 L104.56,241.85 L104.52,241.85 L104.47,241.85 L104.43,241.85 L104.38,241.85 L104.33,241.85 L104.29,241.85 L104.24,241.85 L104.2,241.85 L104.15,241.85 L104.11,241.84 L104.06,241.84 L104.01,241.84 L103.97,241.84 L103.92,241.84 L103.88,241.84 L103.83,241.84 L103.79,241.84 L103.74,241.84 L103.7,241.84 L103.65,241.84 L103.6,241.84 L103.56,241.84 L103.51,241.84 L103.47,241.84 L103.42,241.83 L103.38,241.83 L103.33,241.83 L103.28,241.83 L103.24,241.83 L103.19,241.83 L103.15,241.83 L103.1,241.83 L103.06,241.83 L103.01,241.83 L102.97,241.83 L102.92,241.83 L102.87,241.83 L102.83,241.83 L102.78,241.83 L102.74,241.83 L102.69,241.83 L102.65,241.83 L102.6,241.83" fill="none" stroke="#1c14d6" stroke-width="2" stroke-linejoin="round"/>
<path d="M345.2,310.9 L350.17,310.9 L355.14,310.89 L360.1,310.87 L365.05,310.85 L370,310.82 L374.92,310.78 L379.83,310.74 L384.72,310.69 L389.58,310.64 L394.41,310.58 L399.22,310.51 L403.99,310.44 L408.73,310.36 L413.43,310.28 L418.08,310.19 L422.69,310.09 L427.26,309.99 L431.77,309.89 L436.23,309.78 L440.64,309.66 L444.99,309.54 L449.27,309.41 L453.5,309.28 L457.65,309.14 L461.74,309.01 L465.76,308.86 L469.7,308.71 L473.57,308.56 L477.36,308.41 L481.07,308.25 L484.69,308.09 L488.24,307.92 L491.69,307.76 L495.05,307.59 L498.33,307.41 L501.51,307.24 L504.59,307.06 L507.58,306.89 L510.47,306.71 L513.25,306.53 L515.94,306.35 L518.52,306.17 L520.99,305.98 L523.36,305.8 L525.62,305.62 L527.77,305.44 L529.81,305.26 L531.73,305.08 L533.55,304.9 L535.24,304.72 L536.82,304.54 L538.29,304.37 L539.64,304.2 L540.87,304.03 L541.98,303.86 L542.97,303.7 L543.83,303.53 L544.58,303.38 L545.21,303.22 L545.72,303.07 L546.1,302.93 L546.36,302.79 L546.5,302.65 L546.52,302.52 L546.41,302.39 L546.18,302.27 L545.83,302.15 L545.36,302.04 L544.77,301.94 L544.05,301.84 L543.22,301.75 L542.26,301.67 L541.18,301.59 L539.99,301.52 L538.67,301.46 L537.24,301.4 L535.7,301.35 L534.03,301.31 L532.26,301.28 L530.36,301.26 L528.36,301.24 L526.25,301.24 L524.02,301.24 L521.69,301.25 L519.25,301.27 L516.71,301.3 L514.06,301.34 L511.31,301.38 L508.46,301.44 L505.51,301.51 L502.46,301.58 L499.32,301.67 L496.08,301.76 L492.75,301.87 L489.34,301.98 L485.83,302.11 L482.25,302.24 L478.58,302.39 L474.83,302.54 L471,302.71 L467.09,302.88 L463.11,303.07 L459.06,303.26 L454.95,303.47 L450.76,303.68 L446.52,303.91 L442.21,304.14 L437.84,304.38 L433.42,304.64 L428.94,304.9 L424.42,305.17 L419.85,305.45 L415.23,305.74 L410.57,306.04 L405.87,306.35 L401.14,306.67 L396.37,307 L391.58,307.33 L386.75,307.68 L381.9,308.03 L377.03,308.39 L372.15,308.76 L367.24,309.13 L362.33,309.52 L357.4,309.91 L352.47,310.3 L347.53,310.71 L347.81,310.68 L352.74,310.27 L357.67,309.84 L362.59,309.41 L367.5,308.98 L372.4,308.54 L377.28,308.1 L382.13,307.65 L386.97,307.2 L391.78,306.74 L396.56,306.28 L401.3,305.81 L406.02,305.35 L410.69,304.88 L415.33,304.41 L419.92,303.93 L424.46,303.46 L428.96,302.98 L433.41,302.5 L437.8,302.02 L442.13,301.54 L446.41,301.06 L450.62,300.58 L454.77,300.11 L458.85,299.63 L462.87,299.15 L466.81,298.68 L470.68,298.21 L474.47,297.74 L478.18,297.28 L481.81,296.81 L485.36,296.36 L488.82,295.9 L492.2,295.45 L495.48,295.01 L498.68,294.57 L501.78,294.14 L504.79,293.71 L507.7,293.29 L510.51,292.88 L513.22,292.47 L515.83,292.07 L518.34,291.68 L520.74,291.3 L523.04,290.93 L525.22,290.56 L527.3,290.21 L529.27,289.86 L531.13,289.53 L532.88,289.2 L534.51,288.89 L536.03,288.59 L537.44,288.29 L538.72,288.01 L539.9,287.75 L540.95,287.49 L541.89,287.25 L542.71,287.02 L543.41,286.81 L543.99,286.61 L544.45,286.42 L544.79,286.24 L545.01,286.08 L545.11,285.94 L545.1,285.81 L544.96,285.7 L544.7,285.6 L544.32,285.51 L543.83,285.44 L543.21,285.39 L542.48,285.36 L541.63,285.34 L540.66,285.33 L539.57,285.35 L538.37,285.38 L537.05,285.42 L535.62,285.49 L534.07,285.57 L532.42,285.67 L530.65,285.78 L528.77,285.92 L526.78,286.07 L524.68,286.24 L522.48,286.42 L520.17,286.62 L517.75,286.84 L515.24,287.08 L512.62,287.34 L509.91,287.61 L507.09,287.9 L504.18,288.21 L501.18,288.53 L498.09,288.88 L494.9,289.24 L491.63,289.61 L488.27,290.01 L484.82,290.42 L481.29,290.84 L477.69,291.29 L474,291.75 L470.24,292.22 L466.41,292.71 L462.5,293.22 L458.53,293.75 L454.49,294.28 L450.38,294.84 L446.22,295.41 L441.99,295.99 L437.71,296.59 L433.38,297.2 L428.99,297.83 L424.56,298.46 L420.08,299.12 L415.56,299.78 L411,300.46 L406.39,301.15 L401.76,301.85 L397.09,302.56 L392.39,303.28 L387.67,304.02 L382.92,304.76 L378.16,305.52 L373.37,306.28 L368.57,307.05 L363.75,307.83 L358.93,308.62 L354.1,309.42 L349.27,310.22 L345.96,310.77 L350.8,309.96 L355.62,309.13 L360.44,308.31 L365.25,307.48 L370.05,306.64 L374.83,305.8 L379.58,304.96 L384.32,304.12 L389.04,303.27 L393.72,302.42 L398.38,301.57 L403,300.72 L407.58,299.87 L412.13,299.02 L416.64,298.18 L421.1,297.33 L425.52,296.49 L429.89,295.65 L434.2,294.81 L438.46,293.98 L442.67,293.15 L446.82,292.32 L450.9,291.51 L454.92,290.7 L458.88,289.89 L462.77,289.09 L466.58,288.3 L470.33,287.52 L474,286.75 L477.59,285.99 L481.1,285.23 L484.53,284.49 L487.88,283.76 L491.14,283.04 L494.32,282.34 L497.4,281.64 L500.4,280.96 L503.31,280.29 L506.12,279.64 L508.83,279 L511.45,278.38 L513.97,277.77 L516.39,277.18 L518.71,276.61 L520.92,276.05 L523.03,275.51 L525.04,274.99 L526.94,274.49 L528.73,274.01 L530.42,273.54 L532,273.1 L533.46,272.67 L534.82,272.27 L536.06,271.89 L537.2,271.53 L538.22,271.19 L539.12,270.87 L539.92,270.57 L540.6,270.3 L541.16,270.05 L541.61,269.82 L541.95,269.62 L542.17,269.44 L542.27,269.28 L542.26,269.15 L542.14,269.04 L541.9,268.96 L541.55,268.9 L541.08,268.87 L540.5,268.86 L539.8,268.88 L539,268.92 L538.08,268.99 L537.04,269.08 L535.9,269.2 L534.65,269.34 L533.29,269.51 L531.82,269.71 L530.24,269.93 L528.55,270.18 L526.76,270.45 L524.87,270.75 L522.87,271.08 L520.77,271.43 L518.56,271.81 L516.26,272.21 L513.86,272.64 L511.37,273.09 L508.78,273.57 L506.09,274.07 L503.32,274.6 L500.45,275.15 L497.49,275.72 L494.45,276.32 L491.33,276.95 L488.12,277.6 L484.83,278.27 L481.46,278.96 L478.01,279.68 L474.49,280.42 L470.9,281.18 L467.23,281.96 L463.5,282.76 L459.7,283.59 L455.83,284.44 L451.91,285.3 L447.92,286.19 L443.88,287.09 L439.78,288.01 L435.63,288.96 L431.43,289.92 L427.18,290.89 L422.89,291.89 L418.55,292.9 L414.18,293.92 L409.76,294.97 L405.32,296.02 L400.84,297.09 L396.33,298.18 L391.79,299.27 L387.23,300.38 L382.64,301.5 L378.04,302.64 L373.42,303.78 L368.79,304.93 L364.15,306.09 L359.49,307.26 L354.84,308.44 L350.17,309.63 L345.51,310.82 L349.55,309.78 L354.2,308.58 L358.85,307.37 L363.49,306.16 L368.11,304.94 L372.72,303.73 L377.31,302.51 L381.88,301.29 L386.43,300.07 L390.95,298.85 L395.44,297.63 L399.9,296.41 L404.33,295.2 L408.72,293.99 L413.08,292.78 L417.39,291.58 L421.66,290.38 L425.89,289.19 L430.06,288.01 L434.19,286.84 L438.26,285.67 L442.28,284.51 L446.24,283.37 L450.14,282.23 L453.98,281.1 L457.76,279.99 L461.47,278.89 L465.11,277.8 L468.68,276.73 L472.19,275.67 L475.61,274.63 L478.96,273.61 L482.24,272.6 L485.44,271.6 L488.55,270.63 L491.58,269.68 L494.53,268.74 L497.39,267.83 L500.17,266.93 L502.85,266.06 L505.45,265.21 L507.95,264.38 L510.36,263.57 L512.68,262.79 L514.9,262.04 L517.02,261.3 L519.05,260.59 L520.98,259.91 L522.81,259.26 L524.53,258.63 L526.16,258.03 L527.68,257.45 L529.1,256.91 L530.42,256.39 L531.63,255.9 L532.74,255.44 L533.74,255.01 L534.64,254.61 L535.42,254.24 L536.11,253.9 L536.68,253.6 L537.15,253.32 L537.51,253.08 L537.76,252.86 L537.91,252.68 L537.94,252.53 L537.87,252.42 L537.7,252.34 L537.41,252.29 L537.02,252.27 L536.52,252.28 L535.92,252.33 L535.21,252.42 L534.4,252.53 L533.48,252.68 L532.45,252.86 L531.33,253.08 L530.1,253.33 L528.77,253.61 L527.33,253.93 L525.8,254.28 L524.17,254.66 L522.44,255.08 L520.61,255.53 L518.69,256.01 L516.68,256.53 L514.56,257.08 L512.36,257.66 L510.07,258.27 L507.68,258.91 L505.21,259.59 L502.65,260.3 L500.01,261.03 L497.28,261.8 L494.47,262.6 L491.58,263.43 L488.62,264.29 L485.57,265.18 L482.45,266.1 L479.26,267.04 L475.99,268.02 L472.65,269.02 L469.25,270.05 L465.78,271.1 L462.25,272.19 L458.65,273.29 L455,274.43 L451.29,275.58 L447.52,276.76 L443.7,277.97 L439.82,279.19 L435.9,280.44 L431.93,281.71 L427.92,283 L423.86,284.31 L419.76,285.64 L415.63,286.99 L411.46,288.36 L407.25,289.75 L403.02,291.15 L398.76,292.57 L394.47,294 L390.15,295.45 L385.82,296.91 L381.46,298.38 L377.09,299.87 L372.71,301.36 L368.31,302.87 L363.9,304.39 L359.49,305.91 L355.07,307.45 L350.65,308.99 L346.23,310.54 L348.59,309.71 L353,308.15 L357.41,306.59 L361.81,305.02 L366.19,303.45 L370.56,301.88 L374.91,300.31 L379.25,298.75 L383.56,297.18 L387.85,295.61 L392.11,294.05 L396.35,292.49 L400.55,290.94 L404.72,289.39 L408.86,287.85 L412.96,286.31 L417.02,284.79 L421.04,283.27 L425.01,281.76 L428.94,280.27 L432.82,278.78 L436.65,277.31 L440.43,275.85 L444.16,274.41 L447.83,272.98 L451.44,271.57 L454.99,270.17 L458.49,268.79 L461.91,267.43 L465.28,266.09 L468.58,264.76 L471.8,263.46 L474.96,262.18 L478.05,260.93 L481.06,259.69 L484,258.48 L486.87,257.29 L489.65,256.13 L492.36,254.99 L494.99,253.88 L497.53,252.8 L500,251.75 L502.37,250.72 L504.67,249.72 L506.88,248.76 L508.99,247.82 L511.03,246.91 L512.97,246.04 L514.82,245.19 L516.58,244.38 L518.25,243.61 L519.83,242.86 L521.31,242.15 L522.7,241.48 L523.99,240.84 L525.19,240.23 L526.29,239.66 L527.3,239.13 L528.21,238.63 L529.02,238.17 L529.74,237.75 L530.35,237.37 L530.87,237.02 L531.3,236.71 L531.62,236.44 L531.85,236.21 L531.98,236.02 L532.01,235.87 L531.94,235.75 L531.77,235.68 L531.51,235.64 L531.15,235.65 L530.69,235.69 L530.14,235.77 L529.49,235.9 L528.75,236.06 L527.91,236.27 L526.97,236.51 L525.94,236.79 L524.82,237.12 L523.61,237.48 L522.3,237.88 L520.9,238.32 L519.42,238.8 L517.84,239.33 L516.17,239.88 L514.42,240.48 L512.58,241.12 L510.66,241.8 L508.65,242.51 L506.56,243.26 L504.39,244.05 L502.14,244.88 L499.8,245.74 L497.39,246.64 L494.91,247.57 L492.35,248.54 L489.71,249.55 L487,250.59 L484.22,251.66 L481.38,252.77 L478.46,253.91 L475.48,255.09 L472.43,256.29 L469.33,257.53 L466.16,258.8 L462.93,260.1 L459.64,261.43 L456.3,262.79 L452.9,264.18 L449.45,265.59 L445.95,267.04 L442.41,268.5 L438.81,270 L435.17,271.52 L431.49,273.06 L427.77,274.63 L424.01,276.22 L420.21,277.84 L416.38,279.47 L412.51,281.12 L408.62,282.8 L404.69,284.49 L400.74,286.2 L396.76,287.93 L392.76,289.68 L388.74,291.44 L384.7,293.21 L380.65,295 L376.58,296.8 L372.5,298.61 L368.4,300.44 L364.3,302.27 L360.2,304.11 L356.09,305.96 L351.98,307.82 L347.87,309.69 L346.64,310.24 L350.75,308.37 L354.85,306.49 L358.94,304.61 L363.02,302.73 L367.08,300.84 L371.13,298.96 L375.17,297.08 L379.18,295.2 L383.18,293.32 L387.15,291.45 L391.1,289.59 L395.02,287.72 L398.92,285.87 L402.78,284.03 L406.61,282.19 L410.41,280.36 L414.17,278.55 L417.89,276.74 L421.57,274.95 L425.21,273.17 L428.81,271.41 L432.36,269.66 L435.87,267.93 L439.33,266.22 L442.74,264.52 L446.09,262.84 L449.4,261.19 L452.65,259.55 L455.84,257.94 L458.98,256.34 L462.05,254.78 L465.07,253.23 L468.02,251.71 L470.91,250.22 L473.73,248.75 L476.49,247.31 L479.18,245.9 L481.81,244.52 L484.36,243.17 L486.84,241.84 L489.25,240.55 L491.59,239.29 L493.86,238.06 L496.04,236.87 L498.16,235.71 L500.19,234.58 L502.15,233.49 L504.03,232.44 L505.83,231.42 L507.55,230.43 L509.19,229.49 L510.74,228.58 L512.22,227.71 L513.61,226.88 L514.92,226.09 L516.14,225.34 L517.28,224.63 L518.34,223.96 L519.31,223.33 L520.2,222.74 L521,222.19 L521.71,221.69 L522.34,221.23 L522.88,220.81 L523.33,220.43 L523.7,220.1 L523.98,219.81 L524.18,219.56 L524.29,219.36 L524.31,219.2 L524.24,219.08 L524.09,219.01 L523.86,218.99 L523.54,219.01 L523.13,219.07 L522.64,219.18 L522.06,219.33 L521.4,219.53 L520.65,219.77 L519.83,220.05 L518.92,220.38 L517.92,220.76 L516.85,221.17 L515.69,221.64 L514.46,222.14 L513.14,222.69 L511.75,223.28 L510.28,223.92 L508.73,224.6 L507.11,225.32 L505.41,226.09 L503.64,226.89 L501.79,227.74 L499.87,228.63 L497.88,229.56 L495.82,230.53 L493.69,231.55 L491.49,232.6 L489.23,233.69 L486.9,234.82 L484.5,235.99 L482.05,237.19 L479.53,238.44 L476.95,239.72 L474.31,241.04 L471.61,242.39 L468.86,243.78 L466.05,245.2 L463.19,246.65 L460.27,248.14 L457.31,249.67 L454.29,251.22 L451.23,252.81 L448.12,254.42 L444.97,256.07 L441.77,257.74 L438.53,259.44 L435.26,261.18 L431.94,262.93 L428.59,264.72 L425.2,266.52 L421.78,268.36 L418.32,270.21 L414.84,272.09 L411.33,273.99 L407.79,275.91 L404.23,277.85 L400.64,279.82 L397.03,281.79 L393.4,283.79 L389.76,285.8 L386.09,287.83 L382.41,289.87 L378.72,291.93 L375.02,294 L371.31,296.08 L367.59,298.17 L363.86,300.28 L360.13,302.39 L356.4,304.51 L352.66,306.63 L348.93,308.76 L345.2,310.9 L348.93,308.76 L352.65,306.62 L356.36,304.47 L360.06,302.32 L363.76,300.18 L367.44,298.03 L371.1,295.88 L374.75,293.74 L378.38,291.61 L382,289.47 L385.59,287.35 L389.16,285.23 L392.7,283.11 L396.22,281.01 L399.72,278.92 L403.18,276.83 L406.61,274.76 L410.02,272.7 L413.38,270.66 L416.72,268.63 L420.02,266.61 L423.28,264.61 L426.5,262.63 L429.68,260.67 L432.82,258.72 L435.92,256.8 L438.97,254.89 L441.98,253.01 L444.94,251.15 L447.85,249.32 L450.71,247.51 L453.52,245.72 L456.28,243.96 L458.99,242.23 L461.64,240.52 L464.24,238.85 L466.79,237.2 L469.27,235.58 L471.7,233.99 L474.07,232.44 L476.38,230.92 L478.62,229.43 L480.81,227.97 L482.93,226.55 L484.99,225.16 L486.99,223.81 L488.92,222.49 L490.79,221.22 L492.58,219.97 L494.32,218.77 L495.98,217.61 L497.58,216.48 L499.1,215.4 L500.56,214.35 L501.95,213.35 L503.27,212.39 L504.51,211.46 L505.69,210.59 L506.79,209.75 L507.82,208.95 L508.78,208.2 L509.67,207.5 L510.48,206.84 L511.23,206.22 L511.89,205.64 L512.49,205.11 L513.01,204.63 L513.46,204.19 L513.83,203.8 L514.14,203.45 L514.36,203.15 L514.52,202.9 L514.6,202.69 L514.61,202.53 L514.54,202.42 L514.41,202.35 L514.2,202.33 L513.91,202.35 L513.56,202.43 L513.13,202.55 L512.63,202.71 L512.06,202.93 L511.43,203.19 L510.71,203.49 L509.93,203.85 L509.09,204.25 L508.17,204.69 L507.18,205.19 L506.13,205.72 L505,206.31 L503.82,206.94 L502.56,207.61 L501.24,208.33 L499.86,209.1 L498.41,209.91 L496.9,210.76 L495.33,211.66 L493.7,212.6 L492,213.58 L490.25,214.61 L488.44,215.68 L486.56,216.79 L484.64,217.94 L482.65,219.13 L480.61,220.37 L478.52,221.64 L476.37,222.95 L474.17,224.3 L471.93,225.69 L469.63,227.12 L467.28,228.59 L464.88,230.09 L462.44,231.63 L459.95,233.2 L457.42,234.81 L454.84,236.45 L452.22,238.13 L449.56,239.84 L446.86,241.58 L444.12,243.35 L441.35,245.15 L438.54,246.99 L435.69,248.85 L432.81,250.74 L429.9,252.66 L426.96,254.6 L423.98,256.57 L420.98,258.57 L417.95,260.59 L414.9,262.63 L411.82,264.7 L408.72,266.79 L405.6,268.9 L402.46,271.03 L399.29,273.18 L396.11,275.35 L392.92,277.53 L389.7,279.74 L386.48,281.96 L383.24,284.19 L379.99,286.44 L376.73,288.7 L373.47,290.97 L370.19,293.25 L366.91,295.55 L363.63,297.85 L360.34,300.16 L357.06,302.48 L353.77,304.81 L350.48,307.14 L347.2,309.48 L346.48,309.98 L349.76,307.64 L353.03,305.3 L356.29,302.95 L359.54,300.61 L362.78,298.26 L366.01,295.92 L369.23,293.58 L372.43,291.24 L375.62,288.91 L378.79,286.59 L381.94,284.27 L385.08,281.96 L388.19,279.65 L391.28,277.36 L394.35,275.08 L397.4,272.81 L400.42,270.55 L403.41,268.3 L406.38,266.07 L409.31,263.85 L412.22,261.65 L415.1,259.46 L417.95,257.3 L420.76,255.15 L423.54,253.02 L426.28,250.91 L428.99,248.82 L431.67,246.75 L434.3,244.7 L436.9,242.68 L439.45,240.69 L441.97,238.71 L444.44,236.77 L446.87,234.85 L449.26,232.96 L451.6,231.09 L453.9,229.25 L456.16,227.45 L458.37,225.67 L460.53,223.93 L462.64,222.21 L464.7,220.53 L466.72,218.88 L468.68,217.27 L470.6,215.69 L472.46,214.14 L474.27,212.63 L476.03,211.16 L477.74,209.72 L479.39,208.32 L480.99,206.96 L482.53,205.63 L484.02,204.35 L485.45,203.1 L486.83,201.89 L488.16,200.73 L489.42,199.6 L490.63,198.52 L491.78,197.47 L492.88,196.47 L493.91,195.51 L494.89,194.6 L495.81,193.73 L496.67,192.9 L497.48,192.11 L498.22,191.37 L498.91,190.67 L499.54,190.02 L500.1,189.41 L500.61,188.85 L501.06,188.33 L501.45,187.86 L501.78,187.43 L502.06,187.05 L502.27,186.71 L502.42,186.42 L502.52,186.18 L502.55,185.98 L502.53,185.84 L502.45,185.73 L502.31,185.67 L502.11,185.66 L501.86,185.7 L501.55,185.78 L501.17,185.91 L500.75,186.09 L500.26,186.31 L499.72,186.58 L499.13,186.89 L498.47,187.25 L497.77,187.66 L497,188.11 L496.19,188.61 L495.31,189.15 L494.39,189.74 L493.41,190.37 L492.38,191.05 L491.3,191.77 L490.16,192.54 L488.98,193.35 L487.74,194.21 L486.46,195.11 L485.12,196.05 L483.74,197.03 L482.31,198.06 L480.83,199.13 L479.3,200.24 L477.73,201.39 L476.11,202.58 L474.45,203.81 L472.75,205.08 L471,206.39 L469.21,207.74 L467.38,209.13 L465.51,210.56 L463.59,212.02 L461.64,213.52 L459.65,215.06 L457.62,216.63 L455.56,218.24 L453.46,219.89 L451.32,221.56 L449.15,223.27 L446.95,225.02 L444.71,226.79 L442.45,228.6 L440.15,230.44 L437.82,232.3 L435.47,234.2 L433.08,236.13 L430.67,238.08 L428.23,240.07 L425.77,242.08 L423.28,244.11 L420.78,246.17 L418.24,248.26 L415.69,250.37 L413.12,252.5 L410.53,254.65 L407.91,256.83 L405.29,259.03 L402.64,261.25 L399.98,263.48 L397.31,265.74 L394.62,268.01 L391.92,270.3 L389.21,272.61 L386.48,274.93 L383.75,277.27 L381.01,279.62 L378.26,281.98 L375.51,284.35 L372.74,286.74 L369.98,289.14 L367.21,291.54 L364.44,293.96 L361.66,296.38 L358.89,298.81 L356.12,301.25 L353.34,303.69 L350.57,306.14 L347.8,308.59 L345.36,310.76 L348.12,308.3 L350.87,305.84 L353.62,303.39 L356.36,300.93 L359.09,298.47 L361.81,296.02 L364.52,293.57 L367.22,291.12 L369.91,288.68 L372.58,286.24 L375.24,283.81 L377.89,281.39 L380.52,278.97 L383.13,276.57 L385.72,274.17 L388.3,271.78 L390.86,269.4 L393.4,267.04 L395.92,264.69 L398.41,262.35 L400.89,260.02 L403.34,257.71 L405.77,255.42 L408.17,253.14 L410.55,250.88 L412.9,248.64 L415.23,246.41 L417.53,244.21 L419.8,242.03 L422.04,239.86 L424.25,237.72 L426.44,235.6 L428.59,233.5 L430.71,231.43 L432.8,229.38 L434.86,227.36 L436.88,225.36 L438.87,223.39 L440.83,221.44 L442.75,219.52 L444.64,217.63 L446.49,215.77 L448.31,213.94 L450.09,212.14 L451.83,210.37 L453.53,208.63 L455.2,206.92 L456.83,205.24 L458.42,203.59 L459.97,201.98 L461.48,200.41 L462.95,198.86 L464.38,197.35 L465.77,195.88 L467.11,194.44 L468.42,193.04 L469.69,191.67 L470.91,190.34 L472.09,189.05 L473.23,187.79 L474.33,186.57 L475.38,185.4 L476.39,184.26 L477.36,183.15 L478.28,182.09 L479.16,181.07 L480,180.09 L480.79,179.14 L481.54,178.24 L482.25,177.38 L482.91,176.56 L483.53,175.78 L484.1,175.05 L484.63,174.35 L485.11,173.7 L485.55,173.08 L485.95,172.51 L486.3,171.99 L486.61,171.5 L486.87,171.06 L487.09,170.66 L487.27,170.3 L487.4,169.99 L487.49,169.72 L487.53,169.49 L487.53,169.3 L487.49,169.16 L487.4,169.06 L487.27,169.01 L487.1,168.99 L486.88,169.02 L486.62,169.1 L486.32,169.21 L485.98,169.37 L485.59,169.57 L485.17,169.82 L484.7,170.1 L484.19,170.43 L483.64,170.81 L483.05,171.22 L482.42,171.68 L481.75,172.17 L481.04,172.71 L480.3,173.3 L479.51,173.92 L478.68,174.58 L477.82,175.29 L476.92,176.03 L475.98,176.82 L475,177.64 L473.99,178.51 L472.94,179.41 L471.86,180.36 L470.74,181.34 L469.59,182.36 L468.4,183.42 L467.18,184.52 L465.92,185.66 L464.64,186.83 L463.32,188.04 L461.96,189.29 L460.58,190.57 L459.17,191.89 L457.73,193.24 L456.25,194.63 L454.75,196.05 L453.22,197.51 L451.66,199 L450.07,200.52 L448.46,202.08 L446.82,203.67 L445.15,205.29 L443.46,206.94 L441.75,208.62 L440.01,210.33 L438.24,212.07 L436.46,213.84 L434.65,215.64 L432.82,217.47 L430.97,219.32 L429.09,221.2 L427.2,223.11 L425.29,225.04 L423.36,227 L421.41,228.98 L419.45,230.99 L417.47,233.02 L415.47,235.07 L413.46,237.15 L411.43,239.25 L409.39,241.36 L407.33,243.5 L405.26,245.66 L403.18,247.84 L401.09,250.04 L398.99,252.25 L396.87,254.48 L394.75,256.73 L392.61,258.99 L390.47,261.27 L388.32,263.57 L386.17,265.87 L384,268.2 L381.83,270.53 L379.66,272.88 L377.48,275.24 L375.3,277.6 L373.11,279.98 L370.92,282.37 L368.73,284.77 L366.53,287.17 L364.34,289.59 L362.14,292.01 L359.95,294.43 L357.75,296.86 L355.56,299.3 L353.37,301.74 L351.18,304.18 L349,306.63 L346.82,309.08 L345.76,310.27 L347.93,307.82 L350.1,305.37 L352.25,302.92 L354.41,300.47 L356.55,298.02 L358.69,295.58 L360.82,293.13 L362.94,290.69 L365.05,288.26 L367.15,285.83 L369.24,283.41 L371.32,280.99 L373.39,278.58 L375.45,276.18 L377.49,273.78 L379.52,271.4 L381.54,269.02 L383.54,266.65 L385.53,264.3 L387.5,261.95 L389.46,259.62 L391.4,257.3 L393.32,254.99 L395.23,252.7 L397.12,250.42 L398.99,248.16 L400.85,245.91 L402.68,243.67 L404.5,241.46 L406.3,239.26 L408.08,237.07 L409.84,234.91 L411.57,232.76 L413.29,230.64 L414.98,228.53 L416.66,226.44 L418.31,224.38 L419.94,222.33 L421.54,220.31 L423.12,218.31 L424.68,216.33 L426.22,214.37 L427.73,212.44 L429.22,210.53 L430.68,208.65 L432.12,206.79 L433.53,204.96 L434.92,203.15 L436.28,201.37 L437.62,199.61 L438.93,197.88 L440.21,196.18 L441.47,194.51 L442.7,192.87 L443.9,191.25 L445.07,189.66 L446.22,188.11 L447.34,186.58 L448.44,185.08 L449.5,183.61 L450.54,182.18 L451.55,180.77 L452.53,179.39 L453.48,178.05 L454.4,176.74 L455.3,175.46 L456.16,174.21 L457,173 L457.8,171.81 L458.58,170.67 L459.33,169.55 L460.05,168.47 L460.74,167.42 L461.4,166.4 L462.03,165.42 L462.64,164.48 L463.21,163.57 L463.75,162.69 L464.27,161.85 L464.75,161.04 L465.2,160.27 L465.63,159.53 L466.02,158.83 L466.39,158.16 L466.73,157.53 L467.03,156.94 L467.31,156.38 L467.56,155.86 L467.78,155.37 L467.97,154.92 L468.13,154.5 L468.26,154.12 L468.36,153.78 L468.44,153.47 L468.48,153.2 L468.5,152.97 L468.49,152.77 L468.45,152.61 L468.38,152.48 L468.28,152.39 L468.16,152.34 L468.01,152.32 L467.83,152.34 L467.62,152.39 L467.38,152.48 L467.12,152.61 L466.83,152.77 L466.51,152.97 L466.17,153.2 L465.8,153.47 L465.41,153.77 L464.98,154.11 L464.54,154.48 L464.06,154.89 L463.57,155.33 L463.04,155.81 L462.49,156.32 L461.92,156.87 L461.32,157.45 L460.7,158.06 L460.05,158.71 L459.38,159.39 L458.69,160.11 L457.97,160.85 L457.23,161.63 L456.47,162.45 L455.69,163.29 L454.88,164.17 L454.05,165.08 L453.2,166.02 L452.33,166.99 L451.44,168 L450.52,169.03 L449.59,170.1 L448.63,171.19 L447.66,172.32 L446.67,173.47 L445.65,174.66 L444.62,175.87 L443.57,177.11 L442.5,178.38 L441.42,179.68 L440.31,181.01 L439.19,182.36 L438.05,183.75 L436.9,185.15 L435.73,186.59 L434.54,188.05 L433.34,189.54 L432.12,191.05 L430.89,192.59 L429.64,194.15 L428.38,195.73 L427.1,197.34 L425.81,198.98 L424.51,200.64 L423.19,202.32 L421.86,204.02 L420.52,205.74 L419.17,207.49 L417.8,209.25 L416.43,211.04 L415.04,212.85 L413.65,214.68 L412.24,216.52 L410.82,218.39 L409.39,220.28 L407.96,222.18 L406.51,224.1 L405.06,226.04 L403.6,228 L402.13,229.97 L400.65,231.96 L399.17,233.96 L397.68,235.98 L396.18,238.02 L394.68,240.07 L393.17,242.13 L391.66,244.2 L390.14,246.29 L388.62,248.4 L387.09,250.51 L385.56,252.64 L384.02,254.77 L382.49,256.92 L380.94,259.08 L379.4,261.25 L377.85,263.43 L376.31,265.62 L374.76,267.81 L373.2,270.02 L371.65,272.23 L370.1,274.45 L368.54,276.67 L366.99,278.91 L365.44,281.15 L363.89,283.39 L362.33,285.64 L360.78,287.89 L359.23,290.15 L357.69,292.41 L356.14,294.68 L354.6,296.94 L353.06,299.21 L351.52,301.49 L349.99,303.76 L348.46,306.03 L346.93,308.31 L345.41,310.59 L346.51,308.94 L348.02,306.66 L349.53,304.39 L351.03,302.12 L352.53,299.85 L354.02,297.58 L355.5,295.32 L356.98,293.05 L358.45,290.8 L359.92,288.54 L361.38,286.29 L362.83,284.05 L364.27,281.81 L365.71,279.57 L367.13,277.34 L368.55,275.12 L369.96,272.91 L371.36,270.7 L372.76,268.5 L374.14,266.31 L375.51,264.12 L376.88,261.95 L378.23,259.78 L379.57,257.63 L380.91,255.48 L382.23,253.34 L383.54,251.22 L384.84,249.1 L386.13,247 L387.41,244.91 L388.68,242.83 L389.94,240.76 L391.18,238.7 L392.41,236.66 L393.63,234.63 L394.84,232.62 L396.04,230.62 L397.22,228.63 L398.39,226.66 L399.54,224.7 L400.69,222.76 L401.82,220.83 L402.93,218.92 L404.04,217.03 L405.13,215.15 L406.2,213.29 L407.26,211.45 L408.31,209.62 L409.35,207.81 L410.36,206.02 L411.37,204.25 L412.36,202.49 L413.33,200.76 L414.3,199.04 L415.24,197.34 L416.17,195.66 L417.09,194 L417.99,192.36 L418.88,190.74 L419.75,189.14 L420.6,187.57 L421.44,186.01 L422.27,184.47 L423.07,182.95 L423.87,181.46 L424.65,179.99 L425.41,178.54 L426.15,177.11 L426.88,175.7 L427.6,174.31 L428.3,172.95 L428.98,171.61 L429.65,170.3 L430.3,169 L430.93,167.73 L431.55,166.48 L432.15,165.26 L432.74,164.06 L433.31,162.88 L433.86,161.73 L434.4,160.6 L434.92,159.49 L435.43,158.41 L435.92,157.35 L436.39,156.32 L436.85,155.31 L437.29,154.33 L437.71,153.37 L438.12,152.43 L438.51,151.52 L438.89,150.64 L439.25,149.78 L439.6,148.94 L439.93,148.14 L440.24,147.35 L440.54,146.59 L440.82,145.86 L441.08,145.15 L441.33,144.47 L441.56,143.81 L441.78,143.18 L441.98,142.57 L442.17,141.99 L442.34,141.43 L442.5,140.9 L442.64,140.4 L442.76,139.92 L442.87,139.46 L442.97,139.04 L443.05,138.63 L443.11,138.26 L443.16,137.91 L443.19,137.58 L443.21,137.28 L443.22,137 L443.21,136.75 L443.18,136.53 L443.15,136.33 L443.09,136.16 L443.02,136.01 L442.94,135.89 L442.85,135.79 L442.74,135.72 L442.61,135.67 L442.47,135.65 L442.32,135.65 L442.16,135.68 L441.98,135.73 L441.78,135.8 L441.58,135.91 L441.36,136.03 L441.13,136.18 L440.88,136.36 L440.62,136.56 L440.35,136.78 L440.07,137.03 L439.77,137.3 L439.47,137.59 L439.15,137.91 L438.81,138.25 L438.47,138.62 L438.11,139.01 L437.74,139.42 L437.36,139.86 L436.97,140.32 L436.57,140.8 L436.15,141.3 L435.73,141.83 L435.29,142.38 L434.84,142.95 L434.39,143.54 L433.92,144.16 L433.44,144.8 L432.95,145.46 L432.45,146.14 L431.94,146.84 L431.42,147.56 L430.89,148.31 L430.35,149.07 L429.8,149.86 L429.24,150.67 L428.68,151.49 L428.1,152.34 L427.51,153.21 L426.92,154.1 L426.32,155 L425.71,155.93 L425.09,156.88 L424.46,157.84 L423.82,158.83 L423.18,159.83 L422.52,160.85 L421.87,161.89 L421.2,162.95 L420.52,164.02 L419.84,165.12 L419.15,166.23 L418.46,167.36 L417.75,168.5 L417.04,169.67 L416.33,170.85 L415.61,172.04 L414.88,173.26 L414.14,174.48 L413.4,175.73 L412.66,176.99 L411.9,178.27 L411.15,179.56 L410.38,180.86 L409.62,182.18 L408.84,183.52 L408.06,184.87 L407.28,186.24 L406.49,187.61 L405.7,189.01 L404.9,190.41 L404.1,191.83 L403.3,193.27 L402.49,194.71 L401.68,196.17 L400.86,197.64 L400.04,199.12 L399.22,200.62 L398.39,202.13 L397.56,203.64 L396.73,205.17 L395.89,206.72 L395.05,208.27 L394.21,209.83 L393.37,211.4 L392.52,212.99 L391.67,214.58 L390.82,216.18 L389.97,217.8 L389.12,219.42 L388.26,221.05 L387.4,222.69 L386.55,224.34 L385.69,226 L384.82,227.66 L383.96,229.33 L383.1,231.02 L382.23,232.7 L381.37,234.4 L380.5,236.1 L379.64,237.81 L378.77,239.53 L377.91,241.25 L377.04,242.98 L376.17,244.72 L375.31,246.46 L374.44,248.21 L373.57,249.96 L372.71,251.72 L371.84,253.48 L370.98,255.25 L370.12,257.02 L369.25,258.79 L368.39,260.57 L367.53,262.36 L366.67,264.14 L365.81,265.93 L364.96,267.73 L364.1,269.53 L363.25,271.33 L362.4,273.13 L361.55,274.93 L360.7,276.74 L359.85,278.55 L359.01,280.36 L358.17,282.17 L357.33,283.98 L356.49,285.8 L355.65,287.61 L354.82,289.43 L353.99,291.25 L353.16,293.06 L352.34,294.88 L351.52,296.7 L350.7,298.51 L349.89,300.33 L349.07,302.15 L348.27,303.96 L347.46,305.78 L346.66,307.59 L345.86,309.4 L345.34,310.59 L346.13,308.78 L346.92,306.97 L347.7,305.17 L348.48,303.37 L349.26,301.57 L350.03,299.77 L350.8,297.97 L351.56,296.18 L352.32,294.39 L353.08,292.61 L353.83,290.83 L354.58,289.05 L355.32,287.28 L356.06,285.51 L356.8,283.74 L357.53,281.98 L358.25,280.22 L358.97,278.47 L359.69,276.72 L360.4,274.98 L361.11,273.24 L361.81,271.5 L362.5,269.78 L363.19,268.05 L363.88,266.34 L364.56,264.63 L365.24,262.92 L365.91,261.22 L366.58,259.53 L367.24,257.84 L367.89,256.16 L368.54,254.49 L369.19,252.82 L369.83,251.17 L370.46,249.51 L371.09,247.87 L371.71,246.23 L372.33,244.6 L372.94,242.97 L373.55,241.36 L374.15,239.75 L374.75,238.15 L375.34,236.56 L375.92,234.97 L376.5,233.4 L377.07,231.83 L377.64,230.27 L378.2,228.72 L378.75,227.18 L379.3,225.64 L379.85,224.12 L380.39,222.6 L380.92,221.1 L381.44,219.6 L381.96,218.11 L382.48,216.63 L382.99,215.16 L383.49,213.7 L383.99,212.25 L384.48,210.81 L384.96,209.38 L385.44,207.96 L385.91,206.54 L386.38,205.14 L386.84,203.75 L387.3,202.37 L387.74,201 L388.19,199.64 L388.62,198.29 L389.05,196.95 L389.48,195.62 L389.9,194.3 L390.31,192.99 L390.72,191.69 L391.12,190.4 L391.51,189.13 L391.9,187.86 L392.28,186.61 L392.66,185.36 L393.03,184.13 L393.4,182.91 L393.76,181.7 L394.11,180.5 L394.46,179.31 L394.8,178.13 L395.13,176.97 L395.46,175.81 L395.78,174.67 L396.1,173.54 L396.41,172.42 L396.72,171.31 L397.02,170.21 L397.31,169.13 L397.6,168.05 L397.88,166.99 L398.16,165.94 L398.43,164.9 L398.69,163.88 L398.95,162.86 L399.21,161.86 L399.46,160.86 L399.7,159.88 L399.93,158.92 L400.16,157.96 L400.39,157.02 L400.61,156.08 L400.82,155.16 L401.03,154.25 L401.24,153.36 L401.43,152.47 L401.62,151.6 L401.81,150.74 L401.99,149.89 L402.17,149.05 L402.34,148.22 L402.5,147.41 L402.66,146.61 L402.82,145.82 L402.97,145.04 L403.11,144.27 L403.25,143.52 L403.38,142.78 L403.51,142.05 L403.63,141.33 L403.75,140.62 L403.87,139.93 L403.97,139.24 L404.08,138.57 L404.17,137.91 L404.27,137.27 L404.36,136.63 L404.44,136.01 L404.52,135.4 L404.59,134.8 L404.66,134.21 L404.73,133.63 L404.78,133.07 L404.84,132.51 L404.89,131.97 L404.94,131.44 L404.98,130.92 L405.01,130.42 L405.04,129.92 L405.07,129.44 L405.1,128.97 L405.11,128.51 L405.13,128.06 L405.14,127.62 L405.14,127.19 L405.15,126.78 L405.14,126.37 L405.14,125.98 L405.13,125.6 L405.11,125.23 L405.09,124.87 L405.07,124.52 L405.04,124.18 L405.01,123.86 L404.97,123.54 L404.93,123.24 L404.89,122.95 L404.85,122.66 L404.79,122.39 L404.74,122.13 L404.68,121.88 L404.62,121.64 L404.56,121.41 L404.49,121.19 L404.42,120.99 L404.34,120.79 L404.26,120.6 L404.18,120.43 L404.09,120.26 L404,120.11 L403.91,119.96 L403.81,119.82 L403.71,119.7 L403.61,119.58 L403.51,119.48 L403.4,119.38 L403.29,119.3 L403.17,119.22 L403.05,119.16 L402.93,119.1 L402.81,119.06 L402.68,119.02 L402.55,118.99 L402.42,118.98 L402.28,118.97 L402.15,118.97 L402.01,118.98 L401.86,119 L401.72,119.03 L401.57,119.07 L401.42,119.12 L401.26,119.17 L401.11,119.24 L400.95,119.31 L400.79,119.4 L400.62,119.49 L400.46,119.59 L400.29,119.7 L400.12,119.82 L399.95,119.95 L399.77,120.08 L399.6,120.23 L399.42,120.38 L399.24,120.54 L399.05,120.71 L398.87,120.88 L398.68,121.07 L398.49,121.26 L398.3,121.46 L398.11,121.67 L397.91,121.89 L397.72,122.11 L397.52,122.34 L397.32,122.58 L397.12,122.83 L396.91,123.09 L396.71,123.35 L396.5,123.62 L396.29,123.9 L396.08,124.18 L395.87,124.47 L395.66,124.77 L395.45,125.08 L395.23,125.39 L395.01,125.71 L394.8,126.04 L394.58,126.37 L394.35,126.71 L394.13,127.05 L393.91,127.41 L393.68,127.77 L393.46,128.13 L393.23,128.51 L393,128.89 L392.78,129.27 L392.55,129.66 L392.31,130.06 L392.08,130.46 L391.85,130.87 L391.62,131.29 L391.38,131.71 L391.15,132.14 L390.91,132.57 L390.67,133.01 L390.43,133.45 L390.2,133.9 L389.96,134.35 L389.72,134.81 L389.48,135.28 L389.23,135.75 L388.99,136.23 L388.75,136.71 L388.51,137.19 L388.26,137.69 L388.02,138.18 L387.78,138.68 L387.53,139.19 L387.29,139.7 L387.04,140.21 L386.79,140.73 L386.55,141.26 L386.3,141.79 L386.05,142.32 L385.81,142.86 L385.56,143.4 L385.31,143.94 L385.06,144.49 L384.81,145.05 L384.57,145.61 L384.32,146.17 L384.07,146.74 L383.82,147.31 L383.57,147.88 L383.32,148.46 L383.07,149.04 L382.82,149.62 L382.58,150.21 L382.33,150.8 L382.08,151.4 L381.83,152 L381.58,152.6 L381.33,153.2 L381.09,153.81 L380.84,154.42 L380.59,155.04 L380.34,155.65 L380.09,156.27 L379.85,156.9 L379.6,157.52 L379.35,158.15 L379.11,158.78 L378.86,159.42 L378.62,160.06 L378.37,160.69 L378.13,161.34 L377.88,161.98 L377.64,162.63 L377.39,163.28 L377.15,163.93 L376.91,164.58 L376.66,165.24 L376.42,165.89 L376.18,166.55 L375.94,167.21 L375.7,167.88 L375.46,168.54 L375.22,169.21 L374.98,169.88 L374.74,170.55 L374.51,171.22 L374.27,171.9 L374.03,172.57 L373.8,173.25 L373.56,173.93 L373.33,174.61 L373.09,175.29 L372.86,175.97 L372.63,176.66 L372.4,177.34 L372.17,178.03 L371.94,178.71 L371.71,179.4 L371.48,180.09 L371.25,180.78 L371.02,181.47 L370.8,182.17 L370.57,182.86 L370.35,183.55 L370.12,184.25 L369.9,184.94 L369.68,185.64 L369.46,186.34 L369.24,187.03 L369.02,187.73 L368.8,188.43 L368.58,189.13 L368.36,189.83 L368.15,190.53 L367.93,191.22 L367.72,191.92 L367.51,192.62 L367.29,193.32 L367.08,194.03 L366.87,194.73 L366.66,195.43 L366.45,196.13 L366.25,196.83 L366.04,197.53 L365.83,198.23 L365.63,198.93 L365.43,199.63 L365.22,200.33 L365.02,201.03 L364.82,201.73 L364.62,202.42 L364.43,203.12 L364.23,203.82 L364.03,204.52 L363.84,205.22 L363.64,205.91 L363.45,206.61 L363.26,207.3 L363.07,208 L362.88,208.69 L362.69,209.39 L362.5,210.08 L362.31,210.77 L362.13,211.46 L361.94,212.15 L361.76,212.84 L361.58,213.53 L361.4,214.22 L361.22,214.9 L361.04,215.59 L360.86,216.27 L360.68,216.96 L360.51,217.64 L360.33,218.32 L360.16,219 L359.99,219.68 L359.82,220.36 L359.65,221.03 L359.48,221.71 L359.31,222.38 L359.14,223.06 L358.98,223.73 L358.81,224.4 L358.65,225.07 L358.49,225.73 L358.33,226.4 L358.17,227.06 L358.01,227.73 L357.85,228.39 L357.7,229.05 L357.54,229.7 L357.39,230.36 L357.23,231.01 L357.08,231.67 L356.93,232.32 L356.78,232.97 L356.63,233.62 L356.49,234.26 L356.34,234.91 L356.2,235.55 L356.05,236.19 L355.91,236.83 L355.77,237.47 L355.63,238.1 L355.49,238.73 L355.35,239.37 L355.21,239.99 L355.08,240.62 L354.94,241.25 L354.81,241.87 L354.68,242.49 L354.55,243.11 L354.42,243.73 L354.29,244.34 L354.16,244.96 L354.03,245.57 L353.91,246.18 L353.78,246.78 L353.66,247.39 L353.54,247.99 L353.42,248.59 L353.29,249.18 L353.18,249.78 L353.06,250.37 L352.94,250.96 L352.83,251.55 L352.71,252.14 L352.6,252.72 L352.48,253.3 L352.37,253.88 L352.26,254.46 L352.15,255.03 L352.05,255.6 L351.94,256.17 L351.83,256.74 L351.73,257.3 L351.62,257.87 L351.52,258.43 L351.42,258.98 L351.32,259.54 L351.22,260.09 L351.12,260.64 L351.02,261.18 L350.93,261.73 L350.83,262.27 L350.74,262.81 L350.64,263.35 L350.55,263.88 L350.46,264.41 L350.37,264.94 L350.28,265.46 L350.19,265.99 L350.1,266.51 L350.02,267.02 L349.93,267.54 L349.85,268.05 L349.76,268.56 L349.68,269.07 L349.6,269.57 L349.52,270.07 L349.44,270.57 L349.36,271.07 L349.28,271.56 L349.21,272.05 L349.13,272.54 L349.06,273.02 L348.98,273.5 L348.91,273.98 L348.84,274.46 L348.77,274.93 L348.7,275.4 L348.63,275.87 L348.56,276.33 L348.49,276.79 L348.42,277.25 L348.36,277.71 L348.29,278.16 L348.23,278.61 L348.17,279.06 L348.1,279.5 L348.04,279.94 L347.98,280.38 L347.92,280.82 L347.86,281.25 L347.81,281.68 L347.75,282.1 L347.69,282.53 L347.64,282.95 L347.58,283.37 L347.53,283.78 L347.48,284.19 L347.42,284.6 L347.37,285.01 L347.32,285.41 L347.27,285.81 L347.22,286.2 L347.17,286.6 L347.13,286.99 L347.08,287.37 L347.03,287.76 L346.99,288.14 L346.94,288.52 L346.9,288.89 L346.86,289.26 L346.81,289.63 L346.77,290 L346.73,290.36 L346.69,290.72 L346.65,291.08 L346.61,291.43 L346.58,291.78 L346.54,292.13 L346.5,292.47 L346.47,292.81 L346.43,293.15 L346.39,293.49 L346.36,293.82 L346.33,294.15 L346.29,294.47 L346.26,294.79 L346.23,295.11 L346.2,295.43 L346.17,295.74 L346.14,296.05 L346.11,296.36 L346.08,296.66 L346.06,296.96 L346.03,297.26 L346,297.55 L345.98,297.84 L345.95,298.13 L345.92,298.41 L345.9,298.7 L345.88,298.97 L345.85,299.25 L345.83,299.52 L345.81,299.79 L345.79,300.05 L345.77,300.32 L345.74,300.58 L345.72,300.83 L345.7,301.08 L345.69,301.33 L345.67,301.58 L345.65,301.82 L345.63,302.06 L345.61,302.3 L345.6,302.53 L345.58,302.76 L345.56,302.99 L345.55,303.21 L345.53,303.44 L345.52,303.65 L345.51,303.87 L345.49,304.08 L345.48,304.29 L345.47,304.49 L345.45,304.69 L345.44,304.89 L345.43,305.09 L345.42,305.28 L345.41,305.47 L345.4,305.65 L345.39,305.84 L345.38,306.01 L345.37,306.19 L345.36,306.36 L345.35,306.53 L345.34,306.7 L345.33,306.86 L345.33,307.02 L345.32,307.18 L345.31,307.33 L345.3,307.48 L345.3,307.63 L345.29,307.77 L345.28,307.91 L345.28,308.05 L345.27,308.18 L345.27,308.31 L345.26,308.44 L345.26,308.57 L345.25,308.69 L345.25,308.81 L345.25,308.92 L345.24,309.03 L345.24,309.14 L345.23,309.25 L345.23,309.35 L345.23,309.45 L345.23,309.54 L345.22,309.63 L345.22,309.72 L345.22,309.81 L345.22,309.89 L345.21,309.97 L345.21,310.04 L345.21,310.12 L345.21,310.19 L345.21,310.25 L345.21,310.32 L345.21,310.38 L345.21,310.43 L345.2,310.49 L345.2,310.54 L345.2,310.58 L345.2,310.63 L345.2,310.67 L345.2,310.7 L345.2,310.74 L345.2,310.77 L345.2,310.8 L345.2,310.82 L345.2,310.84 L345.2,310.86 L345.2,310.87 L345.2,310.89 L345.2,310.89 L345.2,310.9 L345.2,310.9" fill="none" stroke="#000" stroke-width="1.85" stroke-linejoin="round"/><path d="M415.73,310.9 L415.78,310.85 L415.93,310.81 L416.2,310.76 L416.56,310.71 L417.02,310.67 L417.58,310.62 L418.23,310.57 L418.97,310.52 L419.8,310.46 L420.7,310.41 L421.68,310.35 L422.73,310.3 L423.84,310.24 L425.01,310.17 L426.24,310.11 L427.51,310.04 L428.83,309.98 L430.18,309.91 L431.57,309.83 L432.98,309.76 L434.42,309.68 L435.88,309.6 L437.35,309.52 L438.83,309.44 L440.32,309.35 L441.81,309.27 L443.29,309.18 L444.78,309.09 L446.25,308.99 L447.72,308.9 L449.17,308.8 L450.6,308.71 L452.01,308.61 L453.4,308.51 L454.77,308.41 L456.11,308.3 L457.42,308.2 L458.69,308.09 L459.94,307.99 L461.14,307.88 L462.31,307.78 L463.44,307.67 L464.53,307.56 L465.58,307.45 L466.59,307.35 L467.55,307.24 L468.46,307.13 L469.33,307.02 L470.14,306.92 L470.91,306.81 L471.63,306.71 L472.29,306.6 L472.91,306.5 L473.47,306.39 L473.98,306.29 L474.43,306.19 L474.83,306.09 L475.17,306 L475.46,305.9 L475.69,305.81 L475.87,305.71 L475.99,305.62 L476.05,305.54 L476.06,305.45 L476.01,305.37 L475.9,305.29 L475.74,305.21 L475.52,305.13 L475.24,305.06 L474.91,304.99 L474.53,304.92 L474.09,304.86 L473.59,304.8 L473.05,304.74 L472.45,304.69 L471.79,304.64 L471.09,304.59 L470.33,304.55 L469.53,304.51 L468.67,304.47 L467.77,304.44 L466.83,304.41 L465.83,304.38 L464.8,304.36 L463.72,304.34 L462.6,304.33 L461.44,304.32 L460.24,304.31 L459.01,304.31 L457.74,304.31 L456.44,304.31 L455.11,304.32 L453.76,304.33 L452.38,304.34 L450.97,304.36 L449.54,304.38 L448.1,304.4 L446.64,304.43 L445.17,304.46 L443.69,304.49 L442.2,304.52 L440.71,304.56 L439.23,304.59 L437.74,304.63 L436.27,304.67 L434.81,304.71 L433.36,304.76 L431.94,304.8 L430.54,304.84 L429.18,304.88 L427.85,304.92 L426.56,304.96 L425.31,305 L424.12,305.04 L422.98,305.07 L421.91,305.1 L420.9,305.13 L419.96,305.15 L419.1,305.17 L418.33,305.18 L417.63,305.19 L417.03,305.19 L416.53,305.18 L416.12,305.17 L415.81,305.15 L415.6,305.12 L415.49,305.08 L415.49,305.04 L415.6,304.98 L415.8,304.92 L416.11,304.84 L416.52,304.76 L417.02,304.67 L417.62,304.57 L418.3,304.47 L419.08,304.35 L419.93,304.22 L420.86,304.09 L421.86,303.95 L422.93,303.8 L424.06,303.65 L425.24,303.49 L426.47,303.32 L427.75,303.15 L429.07,302.97 L430.42,302.78 L431.8,302.6 L433.21,302.4 L434.64,302.21 L436.09,302.01 L437.54,301.8 L439.01,301.6 L440.48,301.39 L441.95,301.18 L443.41,300.97 L444.87,300.75 L446.33,300.54 L447.76,300.32 L449.19,300.11 L450.59,299.89 L451.98,299.68 L453.34,299.47 L454.67,299.25 L455.98,299.04 L457.26,298.83 L458.5,298.62 L459.71,298.41 L460.89,298.21 L462.02,298.01 L463.12,297.81 L464.18,297.61 L465.19,297.42 L466.17,297.23 L467.09,297.05 L467.98,296.87 L468.81,296.69 L469.6,296.52 L470.33,296.35 L471.02,296.19 L471.66,296.03 L472.24,295.88 L472.78,295.73 L473.26,295.59 L473.68,295.45 L474.06,295.32 L474.37,295.2 L474.64,295.08 L474.85,294.97 L475,294.87 L475.1,294.77 L475.15,294.68 L475.13,294.59 L475.07,294.51 L474.95,294.44 L474.77,294.38 L474.54,294.32 L474.25,294.28 L473.91,294.23 L473.52,294.2 L473.07,294.17 L472.57,294.16 L472.01,294.14 L471.41,294.14 L470.75,294.14 L470.05,294.16 L469.29,294.18 L468.49,294.2 L467.64,294.24 L466.74,294.28 L465.8,294.33 L464.81,294.38 L463.79,294.45 L462.72,294.52 L461.61,294.59 L460.46,294.68 L459.28,294.77 L458.06,294.87 L456.81,294.97 L455.52,295.08 L454.21,295.2 L452.87,295.32 L451.51,295.44 L450.12,295.58 L448.72,295.71 L447.29,295.85 L445.86,296 L444.41,296.15 L442.95,296.3 L441.48,296.45 L440.01,296.61 L438.55,296.77 L437.09,296.93 L435.63,297.09 L434.19,297.25 L432.77,297.41 L431.36,297.57 L429.98,297.73 L428.63,297.88 L427.31,298.03 L426.03,298.18 L424.8,298.32 L423.61,298.46 L422.48,298.58 L421.41,298.7 L420.4,298.82 L419.46,298.92 L418.59,299.01 L417.8,299.09 L417.09,299.15 L416.47,299.21 L415.94,299.25 L415.51,299.27 L415.17,299.28 L414.92,299.28 L414.78,299.25 L414.74,299.21 L414.8,299.16 L414.96,299.08 L415.21,298.99 L415.57,298.89 L416.02,298.76 L416.56,298.62 L417.19,298.47 L417.9,298.29 L418.7,298.11 L419.57,297.9 L420.51,297.69 L421.52,297.46 L422.59,297.22 L423.71,296.97 L424.89,296.71 L426.11,296.44 L427.37,296.16 L428.67,295.87 L430,295.57 L431.36,295.27 L432.73,294.96 L434.13,294.64 L435.54,294.32 L436.96,294 L438.39,293.68 L439.82,293.35 L441.25,293.02 L442.67,292.69 L444.09,292.36 L445.5,292.03 L446.89,291.7 L448.27,291.37 L449.63,291.04 L450.97,290.71 L452.28,290.39 L453.57,290.07 L454.83,289.75 L456.07,289.44 L457.27,289.13 L458.43,288.83 L459.57,288.53 L460.66,288.24 L461.72,287.95 L462.74,287.67 L463.72,287.4 L464.65,287.13 L465.55,286.87 L466.4,286.62 L467.2,286.38 L467.96,286.14 L468.66,285.91 L469.33,285.7 L469.94,285.49 L470.5,285.29 L471.01,285.1 L471.48,284.92 L471.89,284.75 L472.25,284.59 L472.55,284.44 L472.81,284.3 L473.01,284.17 L473.16,284.05 L473.26,283.94 L473.3,283.85 L473.29,283.76 L473.23,283.69 L473.11,283.63 L472.95,283.57 L472.73,283.53 L472.45,283.51 L472.13,283.49 L471.75,283.49 L471.32,283.49 L470.85,283.51 L470.32,283.54 L469.74,283.58 L469.11,283.63 L468.44,283.7 L467.72,283.77 L466.95,283.86 L466.13,283.96 L465.28,284.07 L464.37,284.19 L463.43,284.32 L462.45,284.46 L461.42,284.61 L460.36,284.77 L459.26,284.95 L458.12,285.13 L456.95,285.32 L455.75,285.52 L454.52,285.72 L453.26,285.94 L451.97,286.16 L450.66,286.4 L449.33,286.64 L447.97,286.88 L446.6,287.13 L445.21,287.39 L443.81,287.65 L442.4,287.92 L440.98,288.19 L439.55,288.46 L438.13,288.73 L436.7,289.01 L435.29,289.29 L433.88,289.56 L432.48,289.84 L431.1,290.11 L429.74,290.39 L428.4,290.65 L427.1,290.91 L425.82,291.17 L424.58,291.42 L423.39,291.66 L422.24,291.89 L421.14,292.1 L420.1,292.31 L419.12,292.5 L418.21,292.68 L417.36,292.84 L416.59,292.99 L415.89,293.11 L415.28,293.22 L414.75,293.3 L414.32,293.36 L413.97,293.4 L413.71,293.42 L413.55,293.42 L413.49,293.39 L413.52,293.33 L413.64,293.25 L413.86,293.15 L414.17,293.02 L414.57,292.87 L415.06,292.69 L415.64,292.49 L416.29,292.27 L417.02,292.03 L417.83,291.77 L418.7,291.49 L419.64,291.19 L420.64,290.87 L421.69,290.54 L422.8,290.19 L423.95,289.83 L425.13,289.45 L426.36,289.07 L427.62,288.67 L428.9,288.27 L430.21,287.85 L431.54,287.43 L432.88,287.01 L434.24,286.57 L435.6,286.14 L436.97,285.7 L438.34,285.26 L439.7,284.82 L441.07,284.37 L442.42,283.93 L443.76,283.49 L445.09,283.05 L446.41,282.61 L447.7,282.18 L448.98,281.75 L450.23,281.32 L451.46,280.9 L452.67,280.48 L453.84,280.08 L454.99,279.67 L456.1,279.28 L457.18,278.89 L458.23,278.51 L459.24,278.14 L460.21,277.78 L461.15,277.43 L462.04,277.09 L462.9,276.76 L463.71,276.44 L464.48,276.13 L465.21,275.84 L465.89,275.55 L466.53,275.28 L467.12,275.02 L467.67,274.77 L468.16,274.54 L468.62,274.32 L469.02,274.11 L469.37,273.92 L469.68,273.74 L469.94,273.57 L470.15,273.42 L470.31,273.28 L470.41,273.16 L470.47,273.05 L470.48,272.96 L470.44,272.89 L470.36,272.82 L470.22,272.78 L470.03,272.75 L469.79,272.73 L469.51,272.73 L469.17,272.74 L468.79,272.77 L468.36,272.82 L467.89,272.88 L467.36,272.95 L466.79,273.04 L466.18,273.15 L465.52,273.27 L464.82,273.4 L464.07,273.55 L463.28,273.71 L462.46,273.89 L461.59,274.08 L460.68,274.28 L459.73,274.5 L458.75,274.73 L457.73,274.98 L456.68,275.23 L455.59,275.5 L454.47,275.78 L453.32,276.07 L452.15,276.37 L450.94,276.69 L449.72,277.01 L448.46,277.34 L447.19,277.68 L445.9,278.03 L444.59,278.38 L443.27,278.75 L441.93,279.12 L440.58,279.49 L439.23,279.87 L437.87,280.25 L436.51,280.63 L435.15,281.02 L433.79,281.41 L432.44,281.79 L431.1,282.18 L429.77,282.56 L428.46,282.94 L427.17,283.31 L425.9,283.68 L424.66,284.04 L423.45,284.39 L422.28,284.73 L421.15,285.06 L420.07,285.38 L419.03,285.68 L418.04,285.96 L417.12,286.23 L416.25,286.47 L415.45,286.7 L414.72,286.9 L414.05,287.08 L413.47,287.23 L412.96,287.36 L412.54,287.45 L412.2,287.52 L411.95,287.56 L411.78,287.57 L411.7,287.55 L411.71,287.5 L411.8,287.42 L411.98,287.31 L412.25,287.16 L412.61,286.99 L413.04,286.78 L413.55,286.55 L414.14,286.29 L414.8,286 L415.53,285.69 L416.33,285.35 L417.18,284.99 L418.1,284.61 L419.06,284.21 L420.08,283.79 L421.13,283.35 L422.23,282.89 L423.36,282.42 L424.53,281.94 L425.72,281.45 L426.94,280.94 L428.18,280.42 L429.43,279.9 L430.7,279.37 L431.97,278.84 L433.25,278.3 L434.54,277.76 L435.83,277.21 L437.11,276.67 L438.39,276.12 L439.66,275.58 L440.92,275.03 L442.17,274.49 L443.41,273.96 L444.63,273.42 L445.83,272.9 L447.01,272.38 L448.16,271.86 L449.3,271.35 L450.41,270.85 L451.49,270.36 L452.54,269.88 L453.56,269.41 L454.55,268.95 L455.51,268.5 L456.43,268.06 L457.32,267.64 L458.18,267.22 L458.99,266.82 L459.77,266.43 L460.51,266.06 L461.21,265.7 L461.87,265.35 L462.49,265.02 L463.07,264.71 L463.61,264.41 L464.1,264.13 L464.55,263.86 L464.96,263.61 L465.33,263.37 L465.64,263.16 L465.92,262.96 L466.15,262.77 L466.34,262.61 L466.48,262.46 L466.57,262.33 L466.62,262.22 L466.62,262.13 L466.58,262.05 L466.5,261.99 L466.37,261.95 L466.19,261.93 L465.97,261.93 L465.71,261.95 L465.4,261.98 L465.05,262.03 L464.65,262.1 L464.21,262.19 L463.73,262.3 L463.21,262.42 L462.65,262.57 L462.04,262.72 L461.4,262.9 L460.72,263.1 L459.99,263.31 L459.23,263.54 L458.44,263.78 L457.6,264.04 L456.73,264.32 L455.83,264.61 L454.9,264.92 L453.93,265.24 L452.93,265.58 L451.9,265.93 L450.85,266.29 L449.77,266.67 L448.66,267.06 L447.53,267.46 L446.37,267.87 L445.2,268.29 L444,268.72 L442.79,269.17 L441.56,269.62 L440.32,270.08 L439.07,270.54 L437.81,271.01 L436.54,271.49 L435.26,271.97 L433.98,272.45 L432.71,272.94 L431.43,273.43 L430.16,273.91 L428.9,274.4 L427.64,274.88 L426.4,275.36 L425.18,275.83 L423.98,276.3 L422.8,276.76 L421.64,277.2 L420.52,277.64 L419.43,278.06 L418.38,278.47 L417.37,278.86 L416.4,279.24 L415.48,279.59 L414.61,279.93 L413.79,280.24 L413.04,280.52 L412.35,280.78 L411.72,281.01 L411.16,281.21 L410.67,281.38 L410.25,281.52 L409.9,281.62 L409.64,281.69 L409.45,281.72 L409.34,281.72 L409.31,281.69 L409.36,281.61 L409.48,281.51 L409.69,281.36 L409.97,281.18 L410.32,280.97 L410.75,280.72 L411.24,280.44 L411.8,280.13 L412.43,279.79 L413.12,279.42 L413.86,279.02 L414.66,278.59 L415.5,278.14 L416.4,277.67 L417.33,277.17 L418.31,276.66 L419.32,276.13 L420.36,275.58 L421.44,275.02 L422.53,274.44 L423.65,273.85 L424.78,273.25 L425.94,272.64 L427.1,272.02 L428.27,271.4 L429.45,270.77 L430.63,270.14 L431.82,269.51 L433,268.87 L434.18,268.23 L435.35,267.6 L436.52,266.97 L437.68,266.34 L438.82,265.71 L439.95,265.09 L441.07,264.47 L442.16,263.86 L443.24,263.26 L444.3,262.66 L445.34,262.08 L446.35,261.5 L447.34,260.94 L448.3,260.38 L449.24,259.84 L450.15,259.31 L451.03,258.79 L451.88,258.29 L452.7,257.79 L453.49,257.32 L454.24,256.86 L454.96,256.41 L455.65,255.98 L456.3,255.56 L456.92,255.17 L457.5,254.78 L458.04,254.42 L458.55,254.07 L459.02,253.75 L459.45,253.44 L459.85,253.14 L460.2,252.87 L460.52,252.62 L460.79,252.38 L461.03,252.17 L461.23,251.97 L461.39,251.8 L461.51,251.64 L461.58,251.5 L461.62,251.39 L461.62,251.29 L461.58,251.22 L461.5,251.16 L461.38,251.13 L461.22,251.12 L461.02,251.12 L460.78,251.15 L460.51,251.2 L460.19,251.27 L459.84,251.36 L459.44,251.47 L459.02,251.59 L458.55,251.74 L458.05,251.91 L457.51,252.1 L456.93,252.31 L456.33,252.53 L455.68,252.78 L455.01,253.04 L454.3,253.33 L453.56,253.63 L452.78,253.95 L451.98,254.28 L451.15,254.64 L450.28,255.01 L449.39,255.39 L448.48,255.79 L447.53,256.21 L446.57,256.64 L445.58,257.09 L444.56,257.55 L443.53,258.02 L442.47,258.51 L441.4,259 L440.31,259.51 L439.2,260.03 L438.08,260.56 L436.95,261.1 L435.8,261.64 L434.65,262.19 L433.49,262.75 L432.32,263.31 L431.15,263.88 L429.97,264.45 L428.8,265.02 L427.63,265.6 L426.46,266.17 L425.3,266.74 L424.15,267.31 L423.01,267.87 L421.89,268.43 L420.78,268.98 L419.69,269.52 L418.62,270.05 L417.58,270.57 L416.56,271.07 L415.58,271.56 L414.63,272.03 L413.72,272.48 L412.84,272.92 L412.01,273.32 L411.23,273.71 L410.49,274.07 L409.81,274.4 L409.17,274.7 L408.6,274.97 L408.08,275.21 L407.63,275.41 L407.24,275.58 L406.91,275.71 L406.65,275.81 L406.46,275.87 L406.33,275.89 L406.28,275.87 L406.29,275.81 L406.37,275.71 L406.51,275.57 L406.72,275.39 L407,275.18 L407.34,274.93 L407.74,274.64 L408.21,274.32 L408.72,273.96 L409.3,273.58 L409.92,273.16 L410.59,272.71 L411.31,272.23 L412.07,271.73 L412.87,271.2 L413.71,270.65 L414.58,270.07 L415.48,269.48 L416.41,268.87 L417.37,268.24 L418.34,267.6 L419.34,266.95 L420.35,266.28 L421.38,265.6 L422.42,264.92 L423.46,264.22 L424.52,263.53 L425.58,262.82 L426.64,262.12 L427.7,261.41 L428.76,260.7 L429.81,259.99 L430.86,259.28 L431.91,258.57 L432.94,257.87 L433.96,257.17 L434.98,256.48 L435.97,255.79 L436.96,255.12 L437.93,254.44 L438.88,253.78 L439.81,253.13 L440.72,252.49 L441.61,251.85 L442.48,251.23 L443.33,250.63 L444.16,250.03 L444.96,249.45 L445.73,248.88 L446.48,248.33 L447.2,247.79 L447.9,247.27 L448.56,246.76 L449.2,246.27 L449.81,245.8 L450.39,245.34 L450.94,244.9 L451.46,244.48 L451.94,244.08 L452.4,243.7 L452.82,243.34 L453.21,242.99 L453.57,242.67 L453.9,242.36 L454.19,242.08 L454.45,241.82 L454.68,241.57 L454.87,241.35 L455.03,241.15 L455.15,240.97 L455.25,240.81 L455.3,240.67 L455.33,240.55 L455.32,240.46 L455.27,240.39 L455.2,240.33 L455.09,240.3 L454.94,240.29 L454.77,240.31 L454.56,240.34 L454.31,240.4 L454.04,240.47 L453.73,240.57 L453.39,240.69 L453.02,240.83 L452.62,241 L452.18,241.18 L451.72,241.38 L451.22,241.61 L450.7,241.85 L450.14,242.12 L449.56,242.4 L448.95,242.7 L448.31,243.03 L447.65,243.37 L446.96,243.73 L446.24,244.11 L445.5,244.5 L444.73,244.92 L443.94,245.35 L443.13,245.79 L442.3,246.26 L441.44,246.74 L440.57,247.23 L439.67,247.74 L438.76,248.26 L437.83,248.8 L436.88,249.35 L435.92,249.91 L434.94,250.48 L433.95,251.06 L432.95,251.65 L431.93,252.25 L430.91,252.86 L429.88,253.48 L428.84,254.1 L427.8,254.73 L426.76,255.37 L425.71,256 L424.66,256.64 L423.61,257.28 L422.57,257.92 L421.53,258.56 L420.49,259.2 L419.46,259.83 L418.45,260.46 L417.44,261.08 L416.45,261.7 L415.48,262.3 L414.52,262.9 L413.58,263.48 L412.67,264.05 L411.78,264.6 L410.92,265.14 L410.09,265.65 L409.29,266.15 L408.52,266.62 L407.79,267.07 L407.1,267.5 L406.45,267.89 L405.84,268.26 L405.28,268.6 L404.76,268.9 L404.29,269.17 L403.88,269.41 L403.51,269.61 L403.2,269.77 L402.95,269.9 L402.74,269.99 L402.6,270.03 L402.51,270.04 L402.48,270.01 L402.5,269.94 L402.58,269.82 L402.71,269.67 L402.9,269.48 L403.14,269.25 L403.44,268.98 L403.78,268.67 L404.17,268.33 L404.61,267.95 L405.1,267.54 L405.62,267.1 L406.19,266.63 L406.8,266.13 L407.44,265.6 L408.12,265.04 L408.82,264.47 L409.56,263.86 L410.32,263.24 L411.11,262.6 L411.92,261.94 L412.75,261.26 L413.59,260.57 L414.46,259.87 L415.33,259.15 L416.22,258.43 L417.12,257.69 L418.02,256.95 L418.93,256.2 L419.84,255.44 L420.76,254.69 L421.68,253.93 L422.59,253.17 L423.51,252.4 L424.42,251.64 L425.32,250.88 L426.22,250.13 L427.11,249.38 L428,248.63 L428.87,247.89 L429.73,247.15 L430.58,246.42 L431.42,245.7 L432.24,244.99 L433.05,244.29 L433.84,243.6 L434.62,242.92 L435.37,242.25 L436.11,241.59 L436.84,240.94 L437.54,240.31 L438.22,239.7 L438.88,239.09 L439.52,238.5 L440.14,237.93 L440.73,237.37 L441.31,236.83 L441.85,236.31 L442.38,235.8 L442.88,235.31 L443.36,234.84 L443.81,234.39 L444.24,233.95 L444.64,233.54 L445.02,233.14 L445.37,232.76 L445.69,232.4 L445.99,232.06 L446.26,231.74 L446.51,231.45 L446.72,231.17 L446.91,230.91 L447.08,230.67 L447.22,230.46 L447.32,230.26 L447.41,230.09 L447.46,229.94 L447.49,229.8 L447.49,229.7 L447.47,229.61 L447.41,229.54 L447.33,229.49 L447.23,229.47 L447.09,229.47 L446.93,229.49 L446.75,229.53 L446.54,229.59 L446.3,229.67 L446.03,229.77 L445.74,229.9 L445.43,230.05 L445.09,230.21 L444.72,230.4 L444.33,230.61 L443.92,230.84 L443.48,231.09 L443.02,231.35 L442.53,231.64 L442.03,231.95 L441.5,232.28 L440.95,232.62 L440.37,232.99 L439.78,233.37 L439.17,233.77 L438.53,234.19 L437.88,234.62 L437.21,235.08 L436.51,235.55 L435.81,236.03 L435.08,236.53 L434.34,237.05 L433.58,237.58 L432.81,238.12 L432.02,238.68 L431.22,239.25 L430.4,239.84 L429.58,240.43 L428.74,241.04 L427.89,241.66 L427.03,242.28 L426.16,242.92 L425.29,243.57 L424.41,244.22 L423.52,244.88 L422.62,245.55 L421.73,246.22 L420.83,246.9 L419.92,247.58 L419.02,248.26 L418.12,248.94 L417.22,249.63 L416.32,250.31 L415.42,250.99 L414.54,251.67 L413.65,252.35 L412.78,253.02 L411.91,253.69 L411.06,254.34 L410.22,254.99 L409.39,255.63 L408.58,256.26 L407.79,256.87 L407.01,257.47 L406.26,258.05 L405.52,258.62 L404.81,259.16 L404.13,259.69 L403.47,260.19 L402.84,260.67 L402.24,261.13 L401.68,261.56 L401.14,261.96 L400.64,262.33 L400.18,262.68 L399.76,262.99 L399.37,263.26 L399.02,263.51 L398.71,263.72 L398.45,263.89 L398.23,264.02 L398.05,264.12 L397.91,264.18 L397.81,264.2 L397.76,264.18 L397.76,264.13 L397.79,264.03 L397.87,263.9 L398,263.73 L398.16,263.52 L398.36,263.28 L398.61,263 L398.89,262.68 L399.21,262.33 L399.57,261.94 L399.96,261.53 L400.38,261.08 L400.83,260.6 L401.32,260.1 L401.83,259.57 L402.37,259.01 L402.94,258.43 L403.52,257.82 L404.13,257.2 L404.76,256.55 L405.41,255.89 L406.08,255.21 L406.76,254.51 L407.45,253.8 L408.15,253.08 L408.87,252.35 L409.6,251.6 L410.33,250.85 L411.07,250.09 L411.81,249.32 L412.56,248.55 L413.31,247.77 L414.06,246.99 L414.82,246.2 L415.57,245.42 L416.32,244.63 L417.07,243.85 L417.81,243.07 L418.55,242.28 L419.28,241.51 L420.01,240.73 L420.73,239.97 L421.44,239.2 L422.15,238.45 L422.84,237.7 L423.52,236.96 L424.2,236.22 L424.86,235.5 L425.51,234.78 L426.15,234.08 L426.77,233.39 L427.38,232.7 L427.98,232.03 L428.56,231.37 L429.12,230.73 L429.68,230.1 L430.21,229.48 L430.73,228.87 L431.23,228.28 L431.72,227.71 L432.19,227.15 L432.64,226.6 L433.07,226.07 L433.49,225.56 L433.89,225.06 L434.27,224.58 L434.63,224.12 L434.97,223.68 L435.29,223.25 L435.59,222.84 L435.87,222.45 L436.14,222.07 L436.38,221.72 L436.61,221.38 L436.81,221.07 L436.99,220.77 L437.16,220.49 L437.3,220.23 L437.43,219.99 L437.53,219.77 L437.61,219.56 L437.67,219.38 L437.72,219.22 L437.74,219.08 L437.74,218.95 L437.73,218.85 L437.69,218.77 L437.63,218.7 L437.55,218.66 L437.46,218.64 L437.34,218.63 L437.2,218.65 L437.04,218.69 L436.87,218.74 L436.67,218.82 L436.46,218.91 L436.23,219.03 L435.98,219.16 L435.71,219.32 L435.42,219.49 L435.11,219.68 L434.79,219.89 L434.44,220.12 L434.08,220.37 L433.71,220.63 L433.31,220.92 L432.9,221.22 L432.47,221.54 L432.03,221.88 L431.57,222.23 L431.1,222.6 L430.61,222.99 L430.1,223.39 L429.58,223.82 L429.05,224.25 L428.5,224.71 L427.94,225.17 L427.37,225.66 L426.78,226.15 L426.18,226.66 L425.57,227.19 L424.95,227.73 L424.32,228.28 L423.68,228.84 L423.02,229.42 L422.36,230.01 L421.69,230.61 L421.01,231.22 L420.32,231.84 L419.63,232.47 L418.92,233.1 L418.21,233.75 L417.5,234.4 L416.78,235.07 L416.06,235.74 L415.33,236.41 L414.6,237.09 L413.86,237.77 L413.13,238.46 L412.39,239.15 L411.65,239.85 L410.92,240.54 L410.18,241.24 L409.45,241.94 L408.72,242.63 L407.99,243.32 L407.27,244.02 L406.55,244.7 L405.83,245.39 L405.13,246.06 L404.43,246.73 L403.74,247.4 L403.06,248.05 L402.39,248.7 L401.74,249.33 L401.09,249.95 L400.46,250.56 L399.84,251.15 L399.24,251.73 L398.66,252.3 L398.09,252.84 L397.55,253.37 L397.02,253.87 L396.51,254.36 L396.02,254.82 L395.56,255.26 L395.12,255.67 L394.71,256.06 L394.32,256.42 L393.95,256.75 L393.62,257.05 L393.31,257.33 L393.02,257.57 L392.77,257.78 L392.55,257.96 L392.35,258.11 L392.19,258.22 L392.06,258.3 L391.95,258.35 L391.88,258.36 L391.84,258.34 L391.83,258.28 L391.85,258.19 L391.9,258.07 L391.97,257.91 L392.08,257.72 L392.22,257.49 L392.38,257.24 L392.57,256.95 L392.79,256.63 L393.03,256.28 L393.3,255.91 L393.59,255.5 L393.9,255.07 L394.24,254.61 L394.59,254.12 L394.97,253.61 L395.36,253.08 L395.78,252.53 L396.21,251.95 L396.65,251.36 L397.11,250.75 L397.59,250.12 L398.08,249.47 L398.57,248.81 L399.08,248.13 L399.6,247.45 L400.13,246.75 L400.66,246.03 L401.21,245.31 L401.76,244.58 L402.31,243.85 L402.87,243.1 L403.43,242.35 L403.99,241.59 L404.56,240.83 L405.13,240.07 L405.69,239.3 L406.26,238.53 L406.83,237.77 L407.39,237 L407.96,236.23 L408.52,235.46 L409.08,234.69 L409.63,233.93 L410.18,233.17 L410.73,232.41 L411.27,231.66 L411.8,230.91 L412.33,230.17 L412.85,229.43 L413.37,228.7 L413.87,227.98 L414.37,227.27 L414.87,226.56 L415.35,225.86 L415.82,225.17 L416.29,224.49 L416.75,223.82 L417.19,223.16 L417.63,222.51 L418.06,221.87 L418.47,221.24 L418.88,220.62 L419.27,220.02 L419.66,219.42 L420.03,218.84 L420.39,218.27 L420.74,217.72 L421.08,217.17 L421.41,216.65 L421.72,216.13 L422.02,215.63 L422.31,215.14 L422.59,214.67 L422.85,214.21 L423.1,213.77 L423.34,213.34 L423.57,212.92 L423.78,212.53 L423.98,212.14 L424.17,211.78 L424.34,211.42 L424.5,211.09 L424.65,210.77 L424.79,210.46 L424.91,210.17 L425.01,209.9 L425.11,209.65 L425.19,209.41 L425.26,209.19 L425.31,208.98 L425.35,208.79 L425.38,208.62 L425.39,208.46 L425.39,208.32 L425.38,208.2 L425.36,208.09 L425.32,208 L425.27,207.93 L425.2,207.87 L425.13,207.83 L425.04,207.81 L424.93,207.8 L424.82,207.81 L424.69,207.84 L424.55,207.88 L424.4,207.94 L424.23,208.01 L424.05,208.11 L423.86,208.21 L423.66,208.34 L423.45,208.48 L423.22,208.63 L422.98,208.81 L422.74,208.99 L422.48,209.2 L422.2,209.42 L421.92,209.65 L421.63,209.9 L421.33,210.16 L421.01,210.44 L420.69,210.74 L420.35,211.05 L420.01,211.37 L419.65,211.71 L419.29,212.06 L418.91,212.42 L418.53,212.8 L418.14,213.19 L417.73,213.6 L417.32,214.02 L416.9,214.45 L416.48,214.89 L416.04,215.35 L415.6,215.81 L415.15,216.29 L414.69,216.78 L414.22,217.28 L413.75,217.8 L413.27,218.32 L412.79,218.85 L412.3,219.4 L411.8,219.95 L411.3,220.51 L410.79,221.08 L410.28,221.66 L409.76,222.25 L409.24,222.85 L408.71,223.45 L408.18,224.06 L407.65,224.68 L407.11,225.3 L406.57,225.93 L406.03,226.56 L405.48,227.2 L404.93,227.85 L404.39,228.5 L403.84,229.15 L403.29,229.8 L402.74,230.46 L402.19,231.12 L401.64,231.78 L401.09,232.44 L400.54,233.11 L399.99,233.77 L399.44,234.43 L398.9,235.09 L398.36,235.75 L397.82,236.4 L397.29,237.06 L396.76,237.71 L396.24,238.35 L395.71,238.99 L395.2,239.62 L394.69,240.25 L394.19,240.87 L393.69,241.48 L393.2,242.09 L392.72,242.68 L392.25,243.26 L391.79,243.84 L391.33,244.4 L390.89,244.95 L390.45,245.48 L390.03,246 L389.62,246.51 L389.22,247 L388.83,247.48 L388.45,247.93 L388.09,248.37 L387.74,248.79 L387.41,249.2 L387.09,249.58 L386.78,249.94 L386.49,250.28 L386.21,250.6 L385.96,250.9 L385.71,251.17 L385.49,251.42 L385.28,251.64 L385.09,251.84 L384.91,252.02 L384.76,252.16 L384.62,252.29 L384.5,252.39 L384.39,252.46 L384.31,252.5 L384.24,252.52 L384.19,252.51 L384.16,252.48 L384.14,252.42 L384.15,252.33 L384.17,252.21 L384.2,252.07 L384.26,251.91 L384.33,251.72 L384.42,251.5 L384.52,251.26 L384.64,250.99 L384.77,250.71 L384.92,250.39 L385.08,250.06 L385.26,249.7 L385.45,249.33 L385.65,248.93 L385.86,248.51 L386.09,248.07 L386.33,247.62 L386.57,247.15 L386.83,246.66 L387.1,246.15 L387.38,245.63 L387.66,245.09 L387.96,244.54 L388.26,243.97 L388.57,243.39 L388.88,242.8 L389.21,242.2 L389.53,241.59 L389.87,240.97 L390.21,240.34 L390.55,239.7 L390.89,239.05 L391.24,238.4 L391.6,237.74 L391.95,237.07 L392.31,236.4 L392.67,235.72 L393.03,235.04 L393.39,234.35 L393.75,233.66 L394.12,232.97 L394.48,232.28 L394.84,231.58 L395.2,230.89 L395.57,230.19 L395.93,229.5 L396.28,228.8 L396.64,228.1 L397,227.41 L397.35,226.72 L397.7,226.03 L398.05,225.34 L398.39,224.66 L398.74,223.97 L399.07,223.29 L399.41,222.62 L399.74,221.95 L400.07,221.28 L400.39,220.62 L400.71,219.97 L401.03,219.32 L401.34,218.67 L401.64,218.03 L401.94,217.4 L402.24,216.77 L402.53,216.15 L402.81,215.54 L403.09,214.94 L403.37,214.34 L403.63,213.75 L403.9,213.17 L404.15,212.59 L404.4,212.03 L404.65,211.47 L404.89,210.92 L405.12,210.38 L405.35,209.85 L405.57,209.33 L405.78,208.82 L405.99,208.32 L406.19,207.82 L406.38,207.34 L406.57,206.87 L406.75,206.4 L406.93,205.95 L407.09,205.51 L407.25,205.07 L407.41,204.65 L407.56,204.24 L407.7,203.84 L407.83,203.45 L407.95,203.07 L408.07,202.7 L408.19,202.34 L408.29,202 L408.39,201.66 L408.48,201.34 L408.57,201.03 L408.64,200.73 L408.71,200.44 L408.78,200.16 L408.83,199.89 L408.88,199.64 L408.92,199.39 L408.96,199.16 L408.99,198.94 L409.01,198.73 L409.02,198.53 L409.03,198.35 L409.03,198.17 L409.03,198.01 L409.01,197.86 L408.99,197.72 L408.97,197.59 L408.94,197.48 L408.9,197.37 L408.85,197.28 L408.8,197.2 L408.74,197.13 L408.67,197.08 L408.6,197.03 L408.52,197 L408.43,196.97 L408.34,196.96 L408.24,196.96 L408.14,196.98 L408.03,197 L407.91,197.03 L407.79,197.08 L407.66,197.14 L407.53,197.21 L407.38,197.29 L407.24,197.38 L407.09,197.48 L406.93,197.59 L406.76,197.72 L406.59,197.85 L406.42,198 L406.24,198.15 L406.05,198.32 L405.86,198.49 L405.67,198.68 L405.46,198.88 L405.26,199.09 L405.05,199.31 L404.83,199.53 L404.61,199.77 L404.38,200.02 L404.15,200.28 L403.92,200.55 L403.68,200.82 L403.43,201.11 L403.18,201.4 L402.93,201.71 L402.67,202.02 L402.41,202.34 L402.15,202.68 L401.88,203.02 L401.6,203.37 L401.33,203.72 L401.04,204.09 L400.76,204.46 L400.47,204.84 L400.18,205.23 L399.89,205.63 L399.59,206.04 L399.29,206.45 L398.98,206.87 L398.68,207.29 L398.37,207.73 L398.06,208.17 L397.74,208.61 L397.42,209.07 L397.1,209.53 L396.78,209.99 L396.46,210.47 L396.13,210.94 L395.8,211.43 L395.47,211.92 L395.14,212.41 L394.8,212.91 L394.47,213.41 L394.13,213.92 L393.79,214.43 L393.45,214.95 L393.11,215.47 L392.77,216 L392.43,216.52 L392.09,217.06 L391.74,217.59 L391.4,218.13 L391.05,218.67 L390.71,219.21 L390.36,219.76 L390.02,220.3 L389.67,220.85 L389.33,221.4 L388.98,221.96 L388.64,222.51 L388.3,223.06 L387.95,223.62 L387.61,224.17 L387.27,224.73 L386.93,225.28 L386.59,225.83 L386.25,226.39 L385.92,226.94 L385.58,227.49 L385.25,228.04 L384.92,228.59 L384.59,229.13 L384.26,229.67 L383.94,230.21 L383.61,230.75 L383.29,231.28 L382.98,231.81 L382.66,232.34 L382.35,232.86 L382.04,233.37 L381.74,233.88 L381.44,234.39 L381.14,234.89 L380.85,235.38 L380.56,235.87 L380.27,236.35 L379.99,236.82 L379.71,237.29 L379.43,237.75 L379.16,238.2 L378.9,238.64 L378.64,239.08 L378.39,239.5 L378.14,239.92 L377.89,240.32 L377.65,240.72 L377.42,241.11 L377.19,241.48 L376.97,241.85 L376.75,242.2 L376.54,242.54 L376.33,242.87 L376.13,243.19 L375.94,243.5 L375.75,243.79 L375.57,244.07 L375.4,244.34 L375.23,244.59 L375.07,244.83 L374.91,245.05 L374.77,245.27 L374.63,245.46 L374.49,245.65 L374.37,245.82 L374.24,245.97 L374.13,246.11 L374.03,246.23 L373.93,246.34 L373.83,246.44 L373.75,246.52 L373.67,246.58 L373.6,246.63 L373.53,246.66 L373.47,246.68 L373.42,246.68 L373.38,246.67 L373.34,246.64 L373.31,246.59 L373.28,246.53 L373.27,246.46 L373.25,246.37 L373.25,246.27 L373.25,246.15 L373.26,246.02 L373.27,245.87 L373.29,245.71 L373.31,245.53 L373.34,245.35 L373.38,245.14 L373.42,244.93 L373.47,244.7 L373.52,244.46 L373.57,244.21 L373.63,243.94 L373.7,243.66 L373.77,243.37 L373.84,243.07 L373.92,242.76 L374.01,242.44 L374.09,242.11 L374.18,241.76 L374.28,241.41 L374.37,241.05 L374.48,240.68 L374.58,240.3 L374.69,239.91 L374.8,239.51 L374.91,239.11 L375.03,238.69 L375.14,238.27 L375.26,237.84 L375.39,237.41 L375.51,236.97 L375.64,236.52 L375.76,236.07 L375.89,235.61 L376.02,235.15 L376.16,234.68 L376.29,234.2 L376.43,233.72 L376.56,233.24 L376.7,232.75 L376.84,232.26 L376.98,231.77 L377.11,231.27 L377.25,230.77 L377.39,230.27 L377.53,229.76 L377.67,229.25 L377.81,228.74 L377.95,228.23 L378.09,227.72 L378.23,227.2 L378.37,226.69 L378.51,226.17 L378.65,225.65 L378.79,225.13 L378.93,224.61 L379.07,224.09 L379.2,223.57 L379.34,223.05 L379.47,222.53 L379.61,222.01 L379.74,221.5 L379.87,220.98 L380,220.46 L380.13,219.95 L380.26,219.43 L380.39,218.92 L380.52,218.4 L380.64,217.89 L380.77,217.39 L380.89,216.88 L381.01,216.37 L381.13,215.87 L381.24,215.37 L381.36,214.87 L381.48,214.38 L381.59,213.88 L381.7,213.39 L381.81,212.9 L381.92,212.42 L382.02,211.94 L382.13,211.46 L382.23,210.98 L382.33,210.51 L382.43,210.04 L382.52,209.57 L382.62,209.11 L382.71,208.65 L382.8,208.19 L382.89,207.74 L382.98,207.29 L383.06,206.85 L383.14,206.41 L383.22,205.97 L383.3,205.54 L383.38,205.11 L383.45,204.68 L383.52,204.26 L383.59,203.84 L383.66,203.43 L383.73,203.02 L383.79,202.62 L383.85,202.22 L383.91,201.83 L383.97,201.44 L384.03,201.05 L384.08,200.67 L384.13,200.29 L384.18,199.92 L384.23,199.56 L384.27,199.19 L384.31,198.84 L384.35,198.48 L384.39,198.13 L384.43,197.79 L384.46,197.45 L384.49,197.12 L384.52,196.79 L384.55,196.47 L384.57,196.15 L384.6,195.83 L384.62,195.52 L384.64,195.22 L384.65,194.92 L384.67,194.63 L384.68,194.34 L384.69,194.06 L384.7,193.78 L384.71,193.5 L384.71,193.23 L384.71,192.97 L384.71,192.71 L384.71,192.46 L384.71,192.21 L384.7,191.97 L384.69,191.73 L384.68,191.5 L384.67,191.27 L384.66,191.04 L384.64,190.83 L384.62,190.61 L384.6,190.41 L384.58,190.2 L384.56,190.01 L384.53,189.81 L384.51,189.63 L384.48,189.44 L384.45,189.27 L384.41,189.1 L384.38,188.93 L384.34,188.77 L384.3,188.61 L384.26,188.46 L384.22,188.31 L384.18,188.17 L384.13,188.03 L384.09,187.9 L384.04,187.77 L383.99,187.65 L383.93,187.53 L383.88,187.42 L383.82,187.31 L383.77,187.21 L383.71,187.11 L383.65,187.02 L383.59,186.93 L383.52,186.84 L383.46,186.76 L383.39,186.69 L383.32,186.62 L383.25,186.56 L383.18,186.5 L383.11,186.44 L383.04,186.39 L382.96,186.34 L382.88,186.3 L382.81,186.26 L382.73,186.23 L382.65,186.2 L382.56,186.18 L382.48,186.16 L382.39,186.14 L382.31,186.13 L382.22,186.13 L382.13,186.12 L382.04,186.13 L381.95,186.13 L381.86,186.14 L381.76,186.16 L381.67,186.18 L381.57,186.2 L381.48,186.23 L381.38,186.26 L381.28,186.3 L381.18,186.34 L381.08,186.38 L380.98,186.43 L380.87,186.48 L380.77,186.54 L380.66,186.6 L380.56,186.66 L380.45,186.73 L380.34,186.8 L380.23,186.87 L380.12,186.95 L380.01,187.03 L379.9,187.12 L379.78,187.21 L379.67,187.3 L379.56,187.39 L379.44,187.49 L379.33,187.6 L379.21,187.7 L379.09,187.81 L378.97,187.93 L378.85,188.04 L378.73,188.16 L378.61,188.29 L378.49,188.41 L378.37,188.54 L378.25,188.68 L378.13,188.81 L378,188.95 L377.88,189.09 L377.75,189.24 L377.63,189.39 L377.5,189.54 L377.38,189.69 L377.25,189.85 L377.12,190.01 L376.99,190.17 L376.86,190.34 L376.74,190.5 L376.61,190.67 L376.48,190.85 L376.35,191.02 L376.22,191.2 L376.09,191.38 L375.95,191.57 L375.82,191.75 L375.69,191.94 L375.56,192.13 L375.43,192.32 L375.29,192.52 L375.16,192.72 L375.03,192.92 L374.89,193.12 L374.76,193.32 L374.63,193.53 L374.49,193.74 L374.36,193.95 L374.22,194.16 L374.09,194.37 L373.95,194.59 L373.82,194.81 L373.68,195.03 L373.55,195.25 L373.41,195.47 L373.28,195.7 L373.14,195.93 L373.01,196.15 L372.87,196.38 L372.74,196.62 L372.6,196.85 L372.46,197.09 L372.33,197.32 L372.19,197.56 L372.06,197.8 L371.92,198.04 L371.79,198.28 L371.65,198.53 L371.51,198.77 L371.38,199.02 L371.24,199.26 L371.11,199.51 L370.97,199.76 L370.84,200.01 L370.7,200.26 L370.57,200.52 L370.43,200.77 L370.3,201.03 L370.17,201.28 L370.03,201.54 L369.9,201.8 L369.76,202.05 L369.63,202.31 L369.5,202.57 L369.36,202.83 L369.23,203.09 L369.1,203.36 L368.97,203.62 L368.83,203.88 L368.7,204.15 L368.57,204.41 L368.44,204.67 L368.31,204.94 L368.18,205.21 L368.05,205.47 L367.92,205.74 L367.79,206 L367.66,206.27 L367.53,206.54 L367.4,206.81 L367.27,207.07 L367.14,207.34 L367.01,207.61 L366.89,207.88 L366.76,208.15 L366.63,208.41 L366.51,208.68 L366.38,208.95 L366.25,209.22 L366.13,209.49 L366,209.76 L365.88,210.02 L365.76,210.29 L365.63,210.56 L365.51,210.83 L365.39,211.09 L365.26,211.36 L365.14,211.63 L365.02,211.89 L364.9,212.16 L364.78,212.43 L364.66,212.69 L364.54,212.96 L364.42,213.22 L364.3,213.48 L364.18,213.75 L364.07,214.01 L363.95,214.27 L363.83,214.53 L363.72,214.8 L363.6,215.06 L363.49,215.32 L363.37,215.58 L363.26,215.83 L363.14,216.09 L363.03,216.35 L362.92,216.6 L362.81,216.86 L362.69,217.11 L362.58,217.37 L362.47,217.62 L362.36,217.87 L362.25,218.12 L362.14,218.37 L362.04,218.62 L361.93,218.87 L361.82,219.12 L361.71,219.37 L361.61,219.61 L361.5,219.85 L361.4,220.1 L361.29,220.34 L361.19,220.58 L361.08,220.82 L360.98,221.06 L360.88,221.3 L360.78,221.53 L360.68,221.77 L360.57,222 L360.47,222.23 L360.37,222.47 L360.28,222.7 L360.18,222.92 L360.08,223.15 L359.98,223.38 L359.88,223.6 L359.79,223.83 L359.69,224.05 L359.6,224.27 L359.5,224.49 L359.41,224.71 L359.31,224.92 L359.22,225.14 L359.13,225.35 L359.03,225.57 L358.94,225.78 L358.85,225.99 L358.76,226.19 L358.67,226.4 L358.58,226.61 L358.49,226.81 L358.4,227.01 L358.32,227.21 L358.23,227.41 L358.14,227.61 L358.05,227.8 L357.97,228 L357.88,228.19 L357.8,228.38 L357.71,228.57 L357.63,228.76 L357.55,228.94 L357.46,229.13 L357.38,229.31 L357.3,229.49 L357.22,229.67 L357.14,229.85 L357.06,230.03 L356.98,230.2 L356.9,230.38 L356.82,230.55 L356.74,230.72 L356.66,230.89 L356.58,231.05 L356.51,231.22 L356.43,231.38 L356.35,231.54 L356.28,231.7 L356.2,231.86 L356.13,232.02 L356.05,232.17 L355.98,232.33 L355.91,232.48 L355.83,232.63 L355.76,232.78 L355.69,232.92 L355.62,233.07 L355.55,233.21 L355.48,233.35 L355.41,233.49 L355.34,233.63 L355.27,233.77 L355.2,233.9 L355.13,234.04 L355.06,234.17 L354.99,234.3 L354.92,234.43 L354.86,234.55 L354.79,234.68 L354.72,234.8 L354.66,234.93 L354.59,235.05 L354.53,235.16 L354.46,235.28 L354.4,235.4 L354.33,235.51 L354.27,235.62 L354.2,235.73 L354.14,235.84 L354.08,235.95 L354.02,236.06 L353.95,236.16 L353.89,236.27 L353.83,236.37 L353.77,236.47 L353.71,236.57 L353.65,236.66 L353.59,236.76 L353.53,236.85 L353.47,236.95 L353.41,237.04 L353.35,237.13 L353.29,237.21 L353.23,237.3 L353.17,237.39 L353.11,237.47 L353.06,237.55 L353,237.63 L352.94,237.71 L352.89,237.79 L352.83,237.87 L352.77,237.94 L352.72,238.02 L352.66,238.09 L352.6,238.16 L352.55,238.23 L352.49,238.3 L352.44,238.37 L352.38,238.44 L352.33,238.5 L352.27,238.57 L352.22,238.63 L352.17,238.69 L352.11,238.75 L352.06,238.81 L352.01,238.87 L351.95,238.93 L351.9,238.98 L351.85,239.04 L351.79,239.09 L351.74,239.14 L351.69,239.19 L351.64,239.24 L351.58,239.29 L351.53,239.34 L351.48,239.39 L351.43,239.43 L351.38,239.48 L351.33,239.52 L351.28,239.56 L351.23,239.61 L351.17,239.65 L351.12,239.69 L351.07,239.72 L351.02,239.76 L350.97,239.8 L350.92,239.84 L350.87,239.87 L350.82,239.91 L350.77,239.94 L350.72,239.97 L350.67,240 L350.63,240.03 L350.58,240.06 L350.53,240.09 L350.48,240.12 L350.43,240.15 L350.38,240.18 L350.33,240.2 L350.28,240.23 L350.23,240.25 L350.19,240.28 L350.14,240.3 L350.09,240.32 L350.04,240.34 L349.99,240.37 L349.95,240.39 L349.9,240.41 L349.85,240.43 L349.8,240.44 L349.75,240.46 L349.71,240.48 L349.66,240.5 L349.61,240.51 L349.56,240.53 L349.52,240.54 L349.47,240.56 L349.42,240.57 L349.37,240.59 L349.33,240.6 L349.28,240.61 L349.23,240.62 L349.18,240.64 L349.14,240.65 L349.09,240.66 L349.04,240.67 L349,240.68 L348.95,240.69 L348.9,240.7 L348.86,240.71 L348.81,240.72 L348.76,240.72 L348.72,240.73 L348.67,240.74 L348.62,240.74 L348.58,240.75 L348.53,240.76 L348.48,240.76 L348.44,240.77 L348.39,240.77 L348.34,240.78 L348.3,240.78 L348.25,240.79 L348.2,240.79 L348.16,240.8 L348.11,240.8 L348.06,240.81 L348.02,240.81 L347.97,240.81 L347.93,240.81 L347.88,240.82 L347.83,240.82 L347.79,240.82 L347.74,240.82 L347.69,240.83 L347.65,240.83 L347.6,240.83 L347.55,240.83 L347.51,240.83 L347.46,240.83 L347.42,240.83 L347.37,240.84 L347.32,240.84 L347.28,240.84 L347.23,240.84 L347.19,240.84 L347.14,240.84 L347.09,240.84 L347.05,240.84 L347,240.84 L346.95,240.84 L346.91,240.84 L346.86,240.84 L346.82,240.84 L346.77,240.84 L346.72,240.84 L346.68,240.84 L346.63,240.84 L346.58,240.84 L346.54,240.84 L346.49,240.84 L346.45,240.84 L346.4,240.84 L346.35,240.84 L346.31,240.84 L346.26,240.84 L346.22,240.84 L346.17,240.84 L346.12,240.84 L346.08,240.83 L346.03,240.83 L345.98,240.83 L345.94,240.83 L345.89,240.83 L345.85,240.83 L345.8,240.83 L345.75,240.83 L345.71,240.83 L345.66,240.83 L345.62,240.83 L345.57,240.83 L345.52,240.83 L345.48,240.83 L345.43,240.83 L345.38,240.83 L345.34,240.83 L345.29,240.83 L345.25,240.83 L345.2,240.83" fill="none" stroke="#1c14d6" stroke-width="2" stroke-linejoin="round"/>
<text x="0" y="0" transform="translate(79.2,213.5) rotate(-90)" text-anchor="middle" class="lb">Altitude</text>
<path d="M157.5,364.63 L158.02,363.73 L158.53,362.84 L159.05,361.96 L159.57,361.11 L160.09,360.29 L160.6,359.49 L161.12,358.73 L161.64,358.02 L162.16,357.34 L162.68,356.72 L163.19,356.15 L163.71,355.63 L164.23,355.17 L164.75,354.78 L165.26,354.45 L165.78,354.19 L166.3,353.99 L166.81,353.86 L167.33,353.8 L167.85,353.82 L168.37,353.9 L168.88,354.05 L169.4,354.27 L169.92,354.56 L170.44,354.91 L170.96,355.33 L171.47,355.81 L171.99,356.34 L172.51,356.93 L173.03,357.57 L173.54,358.26 L174.06,359 L174.58,359.77 L175.09,360.57 L175.61,361.41 L176.13,362.27 L176.65,363.15 L177.16,364.04 L177.68,364.94 L178.2,365.85 L178.72,366.75 L179.24,367.65 L179.75,368.53 L180.27,369.4 L180.79,370.24 L181.31,371.05 L181.82,371.83 L182.34,372.57 L182.86,373.27 L183.38,373.93 L183.89,374.53 L184.41,375.08 L184.93,375.57 L185.44,376 L185.96,376.37 L186.48,376.67 L187,376.91 L187.51,377.07 L188.03,377.17 L188.55,377.2 L189.07,377.16 L189.59,377.05 L190.1,376.87 L190.62,376.62 L191.14,376.3 L191.66,375.92 L192.17,375.48 L192.69,374.98 L193.21,374.42 L193.72,373.8 L194.24,373.14 L194.76,372.43 L195.28,371.68 L195.8,370.9 L196.31,370.08 L196.83,369.23 L197.35,368.36 L197.87,367.48 L198.38,366.58 L198.9,365.68 L199.42,364.77 L199.94,363.87 L200.45,362.98 L200.97,362.1 L201.49,361.25 L202,360.42 L202.52,359.62 L203.04,358.85 L203.56,358.13 L204.07,357.45 L204.59,356.81 L205.11,356.23 L205.63,355.71 L206.15,355.24 L206.66,354.84 L207.18,354.5 L207.7,354.22 L208.22,354.02 L208.73,353.88 L209.25,353.81 L209.77,353.81 L210.28,353.88 L210.8,354.02 L211.32,354.23 L211.84,354.51 L212.35,354.85 L212.87,355.26 L213.39,355.73 L213.91,356.25 L214.43,356.83 L214.94,357.47 L215.46,358.15 L215.98,358.88 L216.5,359.64 L217.01,360.44 L217.53,361.27 L218.05,362.13 L218.56,363.01 L219.08,363.9 L219.6,364.8 L220.12,365.71 L220.63,366.61 L221.15,367.51 L221.67,368.39 L222.19,369.26 L222.7,370.11 L223.22,370.92 L223.74,371.71 L224.26,372.46 L224.78,373.16 L225.29,373.83 L225.81,374.44 L226.33,374.99 L226.84,375.49 L227.36,375.93 L227.88,376.31 L228.4,376.63 L228.92,376.87 L229.43,377.05 L229.95,377.16 L230.47,377.2 L230.99,377.17 L231.5,377.07 L232.02,376.9 L232.54,376.66 L233.06,376.36 L233.57,375.99 L234.09,375.55 L234.61,375.06 L235.12,374.51 L235.64,373.91 L236.16,373.25 L236.68,372.55 L237.19,371.81 L237.71,371.02 L238.23,370.21 L238.75,369.37 L239.26,368.5 L239.78,367.62 L240.3,366.72 L240.82,365.82 L241.33,364.91 L241.85,364.01 L242.37,363.12 L242.89,362.24 L243.41,361.38 L243.92,360.55 L244.44,359.74 L244.96,358.97 L245.47,358.24 L245.99,357.55 L246.51,356.91 L247.03,356.32 L247.55,355.79 L248.06,355.31 L248.58,354.9 L249.1,354.55 L249.62,354.26 L250.13,354.04 L250.65,353.89 L251.17,353.81 L251.69,353.8 L252.2,353.86 L252.72,353.99 L253.24,354.19 L253.75,354.46 L254.27,354.79 L254.79,355.19 L255.31,355.65 L255.82,356.16 L256.34,356.74 L256.86,357.36 L257.38,358.04 L257.89,358.76 L258.41,359.52 L258.93,360.31 L259.45,361.14 L259.97,361.99 L260.48,362.87 L261,363.76" fill="none" stroke="#3ed23e" stroke-width="1.75"/>
<path d="M115.5,388.63 L116.02,387.72 L116.54,386.83 L117.06,385.95 L117.58,385.1 L118.1,384.27 L118.62,383.47 L119.14,382.71 L119.66,381.99 L120.18,381.31 L120.7,380.69 L121.22,380.12 L121.74,379.6 L122.26,379.15 L122.78,378.76 L123.3,378.43 L123.82,378.17 L124.34,377.98 L124.86,377.85 L125.38,377.8 L125.9,377.82 L126.42,377.91 L126.94,378.07 L127.46,378.3 L127.98,378.6 L128.5,378.96 L129.02,379.39 L129.54,379.87 L130.06,380.42 L130.58,381.02 L131.1,381.67 L131.62,382.37 L132.14,383.11 L132.66,383.89 L133.18,384.71 L133.7,385.55 L134.22,386.42 L134.74,387.31 L135.26,388.21 L135.78,389.12 L136.3,390.02 L136.82,390.93 L137.34,391.83 L137.86,392.71 L138.38,393.58 L138.9,394.42 L139.42,395.23 L139.94,396 L140.46,396.74 L140.98,397.43 L141.5,398.08 L142.02,398.67 L142.54,399.21 L143.06,399.68 L143.58,400.1 L144.1,400.45 L144.62,400.74 L145.14,400.96 L145.66,401.11 L146.18,401.19 L146.7,401.19 L147.22,401.13 L147.74,401 L148.26,400.8 L148.78,400.53 L149.3,400.19 L149.82,399.79 L150.34,399.32 L150.86,398.8 L151.38,398.22 L151.9,397.59 L152.42,396.9 L152.94,396.18 L153.46,395.41 L153.98,394.61 L154.5,393.77 L155.02,392.92 L155.54,392.04 L156.06,391.14 L156.58,390.23 L157.1,389.32 L157.62,388.42 L158.14,387.51 L158.66,386.62 L159.18,385.75 L159.7,384.9 L160.22,384.08 L160.74,383.29 L161.26,382.54 L161.78,381.83 L162.3,381.17 L162.82,380.55 L163.34,379.99 L163.86,379.49 L164.38,379.05 L164.9,378.67 L165.42,378.36 L165.94,378.12 L166.46,377.94 L166.98,377.84 L167.5,377.8 L168.02,377.84 L168.54,377.94 L169.06,378.12 L169.58,378.36 L170.1,378.67 L170.62,379.05 L171.14,379.49 L171.66,379.99 L172.18,380.55 L172.7,381.17 L173.22,381.83 L173.74,382.54 L174.26,383.29 L174.78,384.08 L175.3,384.9 L175.82,385.75 L176.34,386.62 L176.86,387.51 L177.38,388.42 L177.9,389.32 L178.42,390.23 L178.94,391.14 L179.46,392.04 L179.98,392.92 L180.5,393.77 L181.02,394.61 L181.54,395.41 L182.06,396.18 L182.58,396.9 L183.1,397.59 L183.62,398.22 L184.14,398.8 L184.66,399.32 L185.18,399.79 L185.7,400.19 L186.22,400.53 L186.74,400.8 L187.26,401 L187.78,401.13 L188.3,401.19 L188.82,401.19 L189.34,401.11 L189.86,400.96 L190.38,400.74 L190.9,400.45 L191.42,400.1 L191.94,399.68 L192.46,399.21 L192.98,398.67 L193.5,398.08 L194.02,397.43 L194.54,396.74 L195.06,396 L195.58,395.23 L196.1,394.42 L196.62,393.58 L197.14,392.71 L197.66,391.83 L198.18,390.93 L198.7,390.02 L199.22,389.12 L199.74,388.21 L200.26,387.31 L200.78,386.42 L201.3,385.55 L201.82,384.71 L202.34,383.89 L202.86,383.11 L203.38,382.37 L203.9,381.67 L204.42,381.02 L204.94,380.42 L205.46,379.87 L205.98,379.39 L206.5,378.96 L207.02,378.6 L207.54,378.3 L208.06,378.07 L208.58,377.91 L209.1,377.82 L209.62,377.8 L210.14,377.85 L210.66,377.98 L211.18,378.17 L211.7,378.43 L212.22,378.76 L212.74,379.15 L213.26,379.6 L213.78,380.12 L214.3,380.69 L214.82,381.31 L215.34,381.99 L215.86,382.71 L216.38,383.47 L216.9,384.27 L217.42,385.1 L217.94,385.95 L218.46,386.83 L218.98,387.72 L219.5,388.63" fill="none" stroke="#cc2230" stroke-width="1.75"/>
<path d="M428.7,361.74 L429.2,360.01 L429.7,358.37 L430.2,356.84 L430.71,355.47 L431.21,354.27 L431.71,353.29 L432.21,352.55 L432.71,352.05 L433.21,351.82 L433.71,351.85 L434.22,352.15 L434.72,352.72 L435.22,353.52 L435.72,354.56 L436.22,355.8 L436.72,357.22 L437.23,358.78 L437.73,360.45 L438.23,362.19 L438.73,363.96 L439.23,365.72 L439.73,367.43 L440.23,369.04 L440.74,370.54 L441.24,371.87 L441.74,373 L442.24,373.93 L442.74,374.61 L443.24,375.04 L443.75,375.2 L444.25,375.09 L444.75,374.72 L445.25,374.1 L445.75,373.23 L446.25,372.13 L446.75,370.84 L447.26,369.38 L447.76,367.79 L448.26,366.1 L448.76,364.35 L449.26,362.58 L449.76,360.83 L450.26,359.14 L450.77,357.55 L451.27,356.1 L451.77,354.82 L452.27,353.73 L452.77,352.87 L453.27,352.26 L453.77,351.9 L454.28,351.8 L454.78,351.98 L455.28,352.42 L455.78,353.11 L456.28,354.04 L456.78,355.19 L457.29,356.52 L457.79,358.02 L458.29,359.65 L458.79,361.36 L459.29,363.12 L459.79,364.89 L460.29,366.62 L460.8,368.29 L461.3,369.85 L461.8,371.26 L462.3,372.49 L462.8,373.52 L463.3,374.31 L463.81,374.86 L464.31,375.15 L464.81,375.18 L465.31,374.93 L465.81,374.43 L466.31,373.67 L466.81,372.68 L467.32,371.48 L467.82,370.1 L468.32,368.56 L468.82,366.91 L469.32,365.19 L469.82,363.42 L470.32,361.65 L470.83,359.93 L471.33,358.29 L471.83,356.77 L472.33,355.4 L472.83,354.22 L473.33,353.25 L473.83,352.52 L474.34,352.03 L474.84,351.81 L475.34,351.86 L475.84,352.18 L476.34,352.75 L476.84,353.57 L477.35,354.62 L477.85,355.87 L478.35,357.29 L478.85,358.86 L479.35,360.53 L479.85,362.28 L480.35,364.05 L480.86,365.8 L481.36,367.51 L481.86,369.12 L482.36,370.61 L482.86,371.93 L483.36,373.06 L483.87,373.96 L484.37,374.63 L484.87,375.05 L485.37,375.2 L485.87,375.08 L486.37,374.7 L486.87,374.06 L487.38,373.18 L487.88,372.07 L488.38,370.78 L488.88,369.31 L489.38,367.71 L489.88,366.01 L490.38,364.26 L490.89,362.49 L491.39,360.74 L491.89,359.06 L492.39,357.48 L492.89,356.03 L493.39,354.76 L493.89,353.68 L494.4,352.84 L494.9,352.23 L495.4,351.89 L495.9,351.81 L496.4,351.99 L496.9,352.44 L497.41,353.15 L497.91,354.09 L498.41,355.25 L498.91,356.59 L499.41,358.1 L499.91,359.73 L500.41,361.44 L500.92,363.2 L501.42,364.97 L501.92,366.71 L502.42,368.37 L502.92,369.92 L503.42,371.32 L503.93,372.54 L504.43,373.56 L504.93,374.35 L505.43,374.88 L505.93,375.16 L506.43,375.17 L506.93,374.91 L507.44,374.39 L507.94,373.63 L508.44,372.63 L508.94,371.42 L509.44,370.03 L509.94,368.48 L510.44,366.83 L510.95,365.1 L511.45,363.33 L511.95,361.57 L512.45,359.85 L512.95,358.21 L513.45,356.7 L513.96,355.34 L514.46,354.17 L514.96,353.21 L515.46,352.49 L515.96,352.02 L516.46,351.81 L516.96,351.87 L517.47,352.2 L517.97,352.78 L518.47,353.61 L518.97,354.67 L519.47,355.93 L519.97,357.37 L520.47,358.94 L520.98,360.62 L521.48,362.36 L521.98,364.13 L522.48,365.89 L522.98,367.59 L523.48,369.2 L523.99,370.67 L524.49,371.99 L524.99,373.1 L525.49,374 L525.99,374.66 L526.49,375.06 L526.99,375.2 L527.5,375.07 L528,374.67 L528.5,374.02 L529,373.13" fill="none" stroke="#3ed23e" stroke-width="1.75"/>
<path d="M386.6,385.04 L387.12,383.31 L387.64,381.67 L388.15,380.17 L388.67,378.83 L389.19,377.69 L389.71,376.78 L390.22,376.12 L390.74,375.72 L391.26,375.6 L391.78,375.76 L392.29,376.19 L392.81,376.88 L393.33,377.82 L393.85,378.99 L394.36,380.35 L394.88,381.87 L395.4,383.52 L395.92,385.26 L396.43,387.04 L396.95,388.82 L397.47,390.56 L397.99,392.22 L398.5,393.75 L399.02,395.13 L399.54,396.31 L400.06,397.26 L400.57,397.97 L401.09,398.42 L401.61,398.6 L402.12,398.49 L402.64,398.12 L403.16,397.47 L403.68,396.58 L404.2,395.45 L404.71,394.13 L405.23,392.63 L405.75,391.01 L406.27,389.28 L406.78,387.51 L407.3,385.72 L407.82,383.97 L408.34,382.29 L408.85,380.73 L409.37,379.32 L409.89,378.11 L410.41,377.1 L410.92,376.34 L411.44,375.84 L411.96,375.61 L412.48,375.66 L412.99,375.99 L413.51,376.58 L414.03,377.43 L414.55,378.51 L415.06,379.8 L415.58,381.27 L416.1,382.87 L416.62,384.58 L417.13,386.35 L417.65,388.14 L418.17,389.9 L418.69,391.59 L419.2,393.18 L419.72,394.62 L420.24,395.88 L420.75,396.92 L421.27,397.73 L421.79,398.28 L422.31,398.56 L422.83,398.57 L423.34,398.3 L423.86,397.75 L424.38,396.95 L424.9,395.91 L425.41,394.66 L425.93,393.23 L426.45,391.65 L426.97,389.96 L427.48,388.2 L428,386.41 L428.52,384.64 L429.04,382.93 L429.55,381.32 L430.07,379.85 L430.59,378.55 L431.11,377.46 L431.62,376.61 L432.14,376 L432.66,375.67 L433.18,375.61 L433.69,375.83 L434.21,376.32 L434.73,377.07 L435.25,378.07 L435.76,379.28 L436.28,380.68 L436.8,382.24 L437.32,383.91 L437.83,385.66 L438.35,387.45 L438.87,389.22 L439.38,390.95 L439.9,392.58 L440.42,394.08 L440.94,395.41 L441.46,396.54 L441.97,397.45 L442.49,398.1 L443.01,398.49 L443.53,398.6 L444.04,398.43 L444.56,397.99 L445.08,397.29 L445.6,396.34 L446.11,395.17 L446.63,393.8 L447.15,392.27 L447.67,390.62 L448.18,388.88 L448.7,387.1 L449.22,385.32 L449.74,383.58 L450.25,381.93 L450.77,380.4 L451.29,379.03 L451.81,377.86 L452.32,376.91 L452.84,376.21 L453.36,375.77 L453.88,375.6 L454.39,375.71 L454.91,376.1 L455.43,376.75 L455.95,377.66 L456.46,378.79 L456.98,380.12 L457.5,381.62 L458.02,383.25 L458.53,384.98 L459.05,386.75 L459.57,388.54 L460.09,390.29 L460.6,391.96 L461.12,393.52 L461.64,394.92 L462.16,396.13 L462.67,397.13 L463.19,397.88 L463.71,398.37 L464.23,398.59 L464.74,398.53 L465.26,398.2 L465.78,397.59 L466.3,396.74 L466.81,395.65 L467.33,394.35 L467.85,392.88 L468.37,391.27 L468.88,389.56 L469.4,387.79 L469.92,386 L470.44,384.24 L470.95,382.55 L471.47,380.97 L471.99,379.54 L472.5,378.29 L473.02,377.25 L473.54,376.45 L474.06,375.9 L474.58,375.63 L475.09,375.64 L475.61,375.92 L476.13,376.47 L476.65,377.28 L477.16,378.32 L477.68,379.58 L478.2,381.02 L478.72,382.61 L479.23,384.3 L479.75,386.06 L480.27,387.85 L480.79,389.62 L481.3,391.33 L481.82,392.93 L482.34,394.4 L482.86,395.69 L483.37,396.77 L483.89,397.62 L484.41,398.21 L484.93,398.54 L485.44,398.59 L485.96,398.36 L486.48,397.86 L487,397.1 L487.51,396.09 L488.03,394.88 L488.55,393.47 L489.07,391.91 L489.58,390.23 L490.1,388.48" fill="none" stroke="#cc2230" stroke-width="1.75"/>
<path d="M121,362 H149.8" stroke="#333" stroke-width="1.6"/><path d="M117,362 L123,358.4 L121.8,362 L123,365.6 Z M153.8,362 L147.8,358.4 L149,362 L147.8,365.6 Z" fill="#000"/>
<path d="M391,364.1 H420" stroke="#333" stroke-width="1.6"/><path d="M387,364.1 L393,360.5 L391.8,364.1 L393,367.7 Z M424,364.1 L418,360.5 L419.2,364.1 L418,367.7 Z" fill="#000"/>
<text x="214.8" y="140.8" class="b" style="font-size:10.9px">Frequency 1</text>
<text x="455.8" y="128.1" class="b" style="font-size:11px">2 x Frequency 1</text>
<g class="b" style="font-size:10.9px">
<text x="572.1" y="98.7">Reflection</text>
<text x="572.1" y="112">Coefficient</text>
<text x="572.1" y="125"><tspan style="font-family:'Liberation Serif',serif">&#915;</tspan>=-1</text>
<text x="572.1" y="138.5" fill="#2a2ad0"><tspan style="font-family:'Liberation Serif',serif">&#915;</tspan>=-0.3</text>
</g>
<g class="b" style="font-size:14.62px">
<text x="18.6" y="365.6">1 lobe over</text>
<text x="18.6" y="383.4">distance x :</text>
<text x="297.5" y="368.75">2 lobes over</text>
<text x="297.5" y="387.2">distance x :</text>
</g>
<text x="132.6" y="353.8" class="b" style="font-size:14px">x</text>
<text x="401.2" y="360.3" class="b" style="font-size:14px">x</text>
<rect x="52" y="424.5" width="543" height="29.5" fill="#909090"/>
<rect x="46.5" y="419" width="543" height="29" fill="#ffff00" stroke="#2a2a10" stroke-width="1.25"/>
<text x="53.6" y="439.7" class="b" style="font-size:18.45px">Lobing density increases with increased radar frequency</text>
<path d="M0,465 H466" stroke="#0000dc" stroke-width="4" stroke-linecap="round"/>
<path d="M627,465.5 H660" stroke="#0000dc" stroke-width="4" stroke-linecap="round"/>
<text x="476" y="470.6" class="b" style="font-size:12.8px;fill:#1010d8">MIT Lincoln Laboratory</text>
<text x="22.9" y="477.2" class="b" style="font-size:6.4px">Propagation-14</text>
<text x="24.2" y="485" class="b" style="font-size:6.4px">RJG 7/31/2008</text>
</svg>
</body></html>
